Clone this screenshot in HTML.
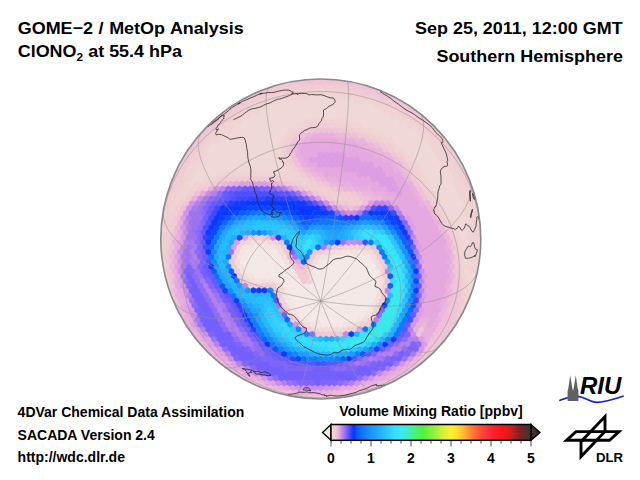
<!DOCTYPE html>
<html><head><meta charset="utf-8"><title>GOME-2 / MetOp Analysis</title>
<style>
html,body{margin:0;padding:0;background:#fff}
body{width:640px;height:480px;overflow:hidden;position:relative;font-family:"Liberation Sans",sans-serif;font-weight:bold;color:#000}
svg{position:absolute;left:0;top:0}
svg text{font-family:"Liberation Sans",sans-serif;font-weight:bold}
</style></head><body>
<svg width="640" height="480" viewBox="0 0 640 480">
<defs>
<clipPath id="gc"><circle cx="320.8" cy="239.0" r="160.0"/></clipPath>
<linearGradient id="cb" x1="0" x2="1" y1="0" y2="0">
<stop offset="0.00%" stop-color="#f6eeec"/>
<stop offset="0.40%" stop-color="#f3e4e2"/>
<stop offset="0.80%" stop-color="#f1dcda"/>
<stop offset="1.00%" stop-color="#f0d8d6"/>
<stop offset="1.40%" stop-color="#f0d0d2"/>
<stop offset="2.60%" stop-color="#efc4d8"/>
<stop offset="4.00%" stop-color="#e6a8e0"/>
<stop offset="5.00%" stop-color="#d090e8"/>
<stop offset="6.40%" stop-color="#aa7af0"/>
<stop offset="7.40%" stop-color="#8868f8"/>
<stop offset="8.60%" stop-color="#6058ff"/>
<stop offset="9.80%" stop-color="#3848ff"/>
<stop offset="10.80%" stop-color="#1838ff"/>
<stop offset="11.70%" stop-color="#0838ff"/>
<stop offset="13.00%" stop-color="#0a58ff"/>
<stop offset="14.40%" stop-color="#0e6aff"/>
<stop offset="16.00%" stop-color="#1078ff"/>
<stop offset="20.00%" stop-color="#1c94ff"/>
<stop offset="23.20%" stop-color="#20a8ff"/>
<stop offset="27.00%" stop-color="#28c0ff"/>
<stop offset="30.00%" stop-color="#32d2ff"/>
<stop offset="32.00%" stop-color="#38e0ff"/>
<stop offset="34.60%" stop-color="#38e8f8"/>
<stop offset="36.40%" stop-color="#3ceae0"/>
<stop offset="38.80%" stop-color="#40ecc0"/>
<stop offset="42.00%" stop-color="#48f278"/>
<stop offset="46.00%" stop-color="#50f040"/>
<stop offset="51.20%" stop-color="#90f040"/>
<stop offset="55.60%" stop-color="#d0f038"/>
<stop offset="60.00%" stop-color="#f8f030"/>
<stop offset="63.00%" stop-color="#ffe030"/>
<stop offset="67.00%" stop-color="#ffb030"/>
<stop offset="70.40%" stop-color="#ff8030"/>
<stop offset="74.60%" stop-color="#ff5038"/>
<stop offset="78.80%" stop-color="#ff3038"/>
<stop offset="83.80%" stop-color="#ff1820"/>
<stop offset="88.00%" stop-color="#e81818"/>
<stop offset="90.80%" stop-color="#c02020"/>
<stop offset="94.40%" stop-color="#802020"/>
<stop offset="98.00%" stop-color="#503030"/>
<stop offset="100.00%" stop-color="#403030"/>
</linearGradient>
</defs>
<circle cx="320.8" cy="239.0" r="160.0" fill="#f0d8d6"/>
<g clip-path="url(#gc)">
<path fill="#f4e9e7" stroke="#f4e9e7" stroke-width="0.5" d="M256.2,243.9l2.80,1.62v3.23l-2.80,1.62l-2.80,-1.62v-3.23zM261.8,243.9l2.80,1.62v3.23l-2.80,1.62l-2.80,-1.62v-3.23zM247.8,248.7l2.80,1.62v3.23l-2.80,1.62l-2.80,-1.62v-3.23zM253.4,248.7l2.80,1.62v3.23l-2.80,1.62l-2.80,-1.62v-3.23zM259.0,248.7l2.80,1.62v3.23l-2.80,1.62l-2.80,-1.62v-3.23zM264.6,248.7l2.80,1.62v3.23l-2.80,1.62l-2.80,-1.62v-3.23zM270.2,248.7l2.80,1.62v3.23l-2.80,1.62l-2.80,-1.62v-3.23zM275.8,248.7l2.80,1.62v3.23l-2.80,1.62l-2.80,-1.62v-3.23zM245.0,253.6l2.80,1.62v3.23l-2.80,1.62l-2.80,-1.62v-3.23zM250.6,253.6l2.80,1.62v3.23l-2.80,1.62l-2.80,-1.62v-3.23zM256.2,253.6l2.80,1.62v3.23l-2.80,1.62l-2.80,-1.62v-3.23zM261.8,253.6l2.80,1.62v3.23l-2.80,1.62l-2.80,-1.62v-3.23zM267.4,253.6l2.80,1.62v3.23l-2.80,1.62l-2.80,-1.62v-3.23zM273.0,253.6l2.80,1.62v3.23l-2.80,1.62l-2.80,-1.62v-3.23zM278.6,253.6l2.80,1.62v3.23l-2.80,1.62l-2.80,-1.62v-3.23zM334.6,253.6l2.80,1.62v3.23l-2.80,1.62l-2.80,-1.62v-3.23zM340.2,253.6l2.80,1.62v3.23l-2.80,1.62l-2.80,-1.62v-3.23zM345.8,253.6l2.80,1.62v3.23l-2.80,1.62l-2.80,-1.62v-3.23zM351.4,253.6l2.80,1.62v3.23l-2.80,1.62l-2.80,-1.62v-3.23zM357.0,253.6l2.80,1.62v3.23l-2.80,1.62l-2.80,-1.62v-3.23zM362.6,253.6l2.80,1.62v3.23l-2.80,1.62l-2.80,-1.62v-3.23zM368.2,253.6l2.80,1.62v3.23l-2.80,1.62l-2.80,-1.62v-3.23zM242.2,258.4l2.80,1.62v3.23l-2.80,1.62l-2.80,-1.62v-3.23zM247.8,258.4l2.80,1.62v3.23l-2.80,1.62l-2.80,-1.62v-3.23zM253.4,258.4l2.80,1.62v3.23l-2.80,1.62l-2.80,-1.62v-3.23zM259.0,258.4l2.80,1.62v3.23l-2.80,1.62l-2.80,-1.62v-3.23zM264.6,258.4l2.80,1.62v3.23l-2.80,1.62l-2.80,-1.62v-3.23zM270.2,258.4l2.80,1.62v3.23l-2.80,1.62l-2.80,-1.62v-3.23zM275.8,258.4l2.80,1.62v3.23l-2.80,1.62l-2.80,-1.62v-3.23zM281.4,258.4l2.80,1.62v3.23l-2.80,1.62l-2.80,-1.62v-3.23zM320.6,258.4l2.80,1.62v3.23l-2.80,1.62l-2.80,-1.62v-3.23zM326.2,258.4l2.80,1.62v3.23l-2.80,1.62l-2.80,-1.62v-3.23zM331.8,258.4l2.80,1.62v3.23l-2.80,1.62l-2.80,-1.62v-3.23zM337.4,258.4l2.80,1.62v3.23l-2.80,1.62l-2.80,-1.62v-3.23zM343.0,258.4l2.80,1.62v3.23l-2.80,1.62l-2.80,-1.62v-3.23zM348.6,258.4l2.80,1.62v3.23l-2.80,1.62l-2.80,-1.62v-3.23zM354.2,258.4l2.80,1.62v3.23l-2.80,1.62l-2.80,-1.62v-3.23zM359.8,258.4l2.80,1.62v3.23l-2.80,1.62l-2.80,-1.62v-3.23zM365.4,258.4l2.80,1.62v3.23l-2.80,1.62l-2.80,-1.62v-3.23zM371.0,258.4l2.80,1.62v3.23l-2.80,1.62l-2.80,-1.62v-3.23zM245.0,263.3l2.80,1.62v3.23l-2.80,1.62l-2.80,-1.62v-3.23zM250.6,263.3l2.80,1.62v3.23l-2.80,1.62l-2.80,-1.62v-3.23zM256.2,263.3l2.80,1.62v3.23l-2.80,1.62l-2.80,-1.62v-3.23zM261.8,263.3l2.80,1.62v3.23l-2.80,1.62l-2.80,-1.62v-3.23zM267.4,263.3l2.80,1.62v3.23l-2.80,1.62l-2.80,-1.62v-3.23zM273.0,263.3l2.80,1.62v3.23l-2.80,1.62l-2.80,-1.62v-3.23zM278.6,263.3l2.80,1.62v3.23l-2.80,1.62l-2.80,-1.62v-3.23zM284.2,263.3l2.80,1.62v3.23l-2.80,1.62l-2.80,-1.62v-3.23zM317.8,263.3l2.80,1.62v3.23l-2.80,1.62l-2.80,-1.62v-3.23zM323.4,263.3l2.80,1.62v3.23l-2.80,1.62l-2.80,-1.62v-3.23zM329.0,263.3l2.80,1.62v3.23l-2.80,1.62l-2.80,-1.62v-3.23zM334.6,263.3l2.80,1.62v3.23l-2.80,1.62l-2.80,-1.62v-3.23zM340.2,263.3l2.80,1.62v3.23l-2.80,1.62l-2.80,-1.62v-3.23zM345.8,263.3l2.80,1.62v3.23l-2.80,1.62l-2.80,-1.62v-3.23zM351.4,263.3l2.80,1.62v3.23l-2.80,1.62l-2.80,-1.62v-3.23zM357.0,263.3l2.80,1.62v3.23l-2.80,1.62l-2.80,-1.62v-3.23zM362.6,263.3l2.80,1.62v3.23l-2.80,1.62l-2.80,-1.62v-3.23zM368.2,263.3l2.80,1.62v3.23l-2.80,1.62l-2.80,-1.62v-3.23zM373.8,263.3l2.80,1.62v3.23l-2.80,1.62l-2.80,-1.62v-3.23zM247.8,268.1l2.80,1.62v3.23l-2.80,1.62l-2.80,-1.62v-3.23zM253.4,268.1l2.80,1.62v3.23l-2.80,1.62l-2.80,-1.62v-3.23zM259.0,268.1l2.80,1.62v3.23l-2.80,1.62l-2.80,-1.62v-3.23zM264.6,268.1l2.80,1.62v3.23l-2.80,1.62l-2.80,-1.62v-3.23zM270.2,268.1l2.80,1.62v3.23l-2.80,1.62l-2.80,-1.62v-3.23zM275.8,268.1l2.80,1.62v3.23l-2.80,1.62l-2.80,-1.62v-3.23zM281.4,268.1l2.80,1.62v3.23l-2.80,1.62l-2.80,-1.62v-3.23zM287.0,268.1l2.80,1.62v3.23l-2.80,1.62l-2.80,-1.62v-3.23zM315.0,268.1l2.80,1.62v3.23l-2.80,1.62l-2.80,-1.62v-3.23zM320.6,268.1l2.80,1.62v3.23l-2.80,1.62l-2.80,-1.62v-3.23zM326.2,268.1l2.80,1.62v3.23l-2.80,1.62l-2.80,-1.62v-3.23zM331.8,268.1l2.80,1.62v3.23l-2.80,1.62l-2.80,-1.62v-3.23zM337.4,268.1l2.80,1.62v3.23l-2.80,1.62l-2.80,-1.62v-3.23zM343.0,268.1l2.80,1.62v3.23l-2.80,1.62l-2.80,-1.62v-3.23zM348.6,268.1l2.80,1.62v3.23l-2.80,1.62l-2.80,-1.62v-3.23zM354.2,268.1l2.80,1.62v3.23l-2.80,1.62l-2.80,-1.62v-3.23zM359.8,268.1l2.80,1.62v3.23l-2.80,1.62l-2.80,-1.62v-3.23zM365.4,268.1l2.80,1.62v3.23l-2.80,1.62l-2.80,-1.62v-3.23zM371.0,268.1l2.80,1.62v3.23l-2.80,1.62l-2.80,-1.62v-3.23zM376.6,268.1l2.80,1.62v3.23l-2.80,1.62l-2.80,-1.62v-3.23zM256.2,273.0l2.80,1.62v3.23l-2.80,1.62l-2.80,-1.62v-3.23zM261.8,273.0l2.80,1.62v3.23l-2.80,1.62l-2.80,-1.62v-3.23zM267.4,273.0l2.80,1.62v3.23l-2.80,1.62l-2.80,-1.62v-3.23zM273.0,273.0l2.80,1.62v3.23l-2.80,1.62l-2.80,-1.62v-3.23zM278.6,273.0l2.80,1.62v3.23l-2.80,1.62l-2.80,-1.62v-3.23zM284.2,273.0l2.80,1.62v3.23l-2.80,1.62l-2.80,-1.62v-3.23zM289.8,273.0l2.80,1.62v3.23l-2.80,1.62l-2.80,-1.62v-3.23zM317.8,273.0l2.80,1.62v3.23l-2.80,1.62l-2.80,-1.62v-3.23zM323.4,273.0l2.80,1.62v3.23l-2.80,1.62l-2.80,-1.62v-3.23zM329.0,273.0l2.80,1.62v3.23l-2.80,1.62l-2.80,-1.62v-3.23zM334.6,273.0l2.80,1.62v3.23l-2.80,1.62l-2.80,-1.62v-3.23zM340.2,273.0l2.80,1.62v3.23l-2.80,1.62l-2.80,-1.62v-3.23zM345.8,273.0l2.80,1.62v3.23l-2.80,1.62l-2.80,-1.62v-3.23zM351.4,273.0l2.80,1.62v3.23l-2.80,1.62l-2.80,-1.62v-3.23zM357.0,273.0l2.80,1.62v3.23l-2.80,1.62l-2.80,-1.62v-3.23zM362.6,273.0l2.80,1.62v3.23l-2.80,1.62l-2.80,-1.62v-3.23zM368.2,273.0l2.80,1.62v3.23l-2.80,1.62l-2.80,-1.62v-3.23zM373.8,273.0l2.80,1.62v3.23l-2.80,1.62l-2.80,-1.62v-3.23zM281.4,277.8l2.80,1.62v3.23l-2.80,1.62l-2.80,-1.62v-3.23zM287.0,277.8l2.80,1.62v3.23l-2.80,1.62l-2.80,-1.62v-3.23zM292.6,277.8l2.80,1.62v3.23l-2.80,1.62l-2.80,-1.62v-3.23zM298.2,277.8l2.80,1.62v3.23l-2.80,1.62l-2.80,-1.62v-3.23zM315.0,277.8l2.80,1.62v3.23l-2.80,1.62l-2.80,-1.62v-3.23zM320.6,277.8l2.80,1.62v3.23l-2.80,1.62l-2.80,-1.62v-3.23zM326.2,277.8l2.80,1.62v3.23l-2.80,1.62l-2.80,-1.62v-3.23zM331.8,277.8l2.80,1.62v3.23l-2.80,1.62l-2.80,-1.62v-3.23zM337.4,277.8l2.80,1.62v3.23l-2.80,1.62l-2.80,-1.62v-3.23zM343.0,277.8l2.80,1.62v3.23l-2.80,1.62l-2.80,-1.62v-3.23zM348.6,277.8l2.80,1.62v3.23l-2.80,1.62l-2.80,-1.62v-3.23zM354.2,277.8l2.80,1.62v3.23l-2.80,1.62l-2.80,-1.62v-3.23zM359.8,277.8l2.80,1.62v3.23l-2.80,1.62l-2.80,-1.62v-3.23zM365.4,277.8l2.80,1.62v3.23l-2.80,1.62l-2.80,-1.62v-3.23zM371.0,277.8l2.80,1.62v3.23l-2.80,1.62l-2.80,-1.62v-3.23zM376.6,277.8l2.80,1.62v3.23l-2.80,1.62l-2.80,-1.62v-3.23zM284.2,282.7l2.80,1.62v3.23l-2.80,1.62l-2.80,-1.62v-3.23zM289.8,282.7l2.80,1.62v3.23l-2.80,1.62l-2.80,-1.62v-3.23zM295.4,282.7l2.80,1.62v3.23l-2.80,1.62l-2.80,-1.62v-3.23zM301.0,282.7l2.80,1.62v3.23l-2.80,1.62l-2.80,-1.62v-3.23zM312.2,282.7l2.80,1.62v3.23l-2.80,1.62l-2.80,-1.62v-3.23zM317.8,282.7l2.80,1.62v3.23l-2.80,1.62l-2.80,-1.62v-3.23zM323.4,282.7l2.80,1.62v3.23l-2.80,1.62l-2.80,-1.62v-3.23zM329.0,282.7l2.80,1.62v3.23l-2.80,1.62l-2.80,-1.62v-3.23zM334.6,282.7l2.80,1.62v3.23l-2.80,1.62l-2.80,-1.62v-3.23zM340.2,282.7l2.80,1.62v3.23l-2.80,1.62l-2.80,-1.62v-3.23zM345.8,282.7l2.80,1.62v3.23l-2.80,1.62l-2.80,-1.62v-3.23zM351.4,282.7l2.80,1.62v3.23l-2.80,1.62l-2.80,-1.62v-3.23zM357.0,282.7l2.80,1.62v3.23l-2.80,1.62l-2.80,-1.62v-3.23zM362.6,282.7l2.80,1.62v3.23l-2.80,1.62l-2.80,-1.62v-3.23zM368.2,282.7l2.80,1.62v3.23l-2.80,1.62l-2.80,-1.62v-3.23zM373.8,282.7l2.80,1.62v3.23l-2.80,1.62l-2.80,-1.62v-3.23zM287.0,287.5l2.80,1.62v3.23l-2.80,1.62l-2.80,-1.62v-3.23zM292.6,287.5l2.80,1.62v3.23l-2.80,1.62l-2.80,-1.62v-3.23zM298.2,287.5l2.80,1.62v3.23l-2.80,1.62l-2.80,-1.62v-3.23zM303.8,287.5l2.80,1.62v3.23l-2.80,1.62l-2.80,-1.62v-3.23zM309.4,287.5l2.80,1.62v3.23l-2.80,1.62l-2.80,-1.62v-3.23zM315.0,287.5l2.80,1.62v3.23l-2.80,1.62l-2.80,-1.62v-3.23zM320.6,287.5l2.80,1.62v3.23l-2.80,1.62l-2.80,-1.62v-3.23zM326.2,287.5l2.80,1.62v3.23l-2.80,1.62l-2.80,-1.62v-3.23zM331.8,287.5l2.80,1.62v3.23l-2.80,1.62l-2.80,-1.62v-3.23zM337.4,287.5l2.80,1.62v3.23l-2.80,1.62l-2.80,-1.62v-3.23zM343.0,287.5l2.80,1.62v3.23l-2.80,1.62l-2.80,-1.62v-3.23zM348.6,287.5l2.80,1.62v3.23l-2.80,1.62l-2.80,-1.62v-3.23zM354.2,287.5l2.80,1.62v3.23l-2.80,1.62l-2.80,-1.62v-3.23zM359.8,287.5l2.80,1.62v3.23l-2.80,1.62l-2.80,-1.62v-3.23zM365.4,287.5l2.80,1.62v3.23l-2.80,1.62l-2.80,-1.62v-3.23zM371.0,287.5l2.80,1.62v3.23l-2.80,1.62l-2.80,-1.62v-3.23zM376.6,287.5l2.80,1.62v3.23l-2.80,1.62l-2.80,-1.62v-3.23zM289.8,292.4l2.80,1.62v3.23l-2.80,1.62l-2.80,-1.62v-3.23zM295.4,292.4l2.80,1.62v3.23l-2.80,1.62l-2.80,-1.62v-3.23zM301.0,292.4l2.80,1.62v3.23l-2.80,1.62l-2.80,-1.62v-3.23zM306.6,292.4l2.80,1.62v3.23l-2.80,1.62l-2.80,-1.62v-3.23zM312.2,292.4l2.80,1.62v3.23l-2.80,1.62l-2.80,-1.62v-3.23zM317.8,292.4l2.80,1.62v3.23l-2.80,1.62l-2.80,-1.62v-3.23zM323.4,292.4l2.80,1.62v3.23l-2.80,1.62l-2.80,-1.62v-3.23zM329.0,292.4l2.80,1.62v3.23l-2.80,1.62l-2.80,-1.62v-3.23zM334.6,292.4l2.80,1.62v3.23l-2.80,1.62l-2.80,-1.62v-3.23zM340.2,292.4l2.80,1.62v3.23l-2.80,1.62l-2.80,-1.62v-3.23zM345.8,292.4l2.80,1.62v3.23l-2.80,1.62l-2.80,-1.62v-3.23zM351.4,292.4l2.80,1.62v3.23l-2.80,1.62l-2.80,-1.62v-3.23zM357.0,292.4l2.80,1.62v3.23l-2.80,1.62l-2.80,-1.62v-3.23zM362.6,292.4l2.80,1.62v3.23l-2.80,1.62l-2.80,-1.62v-3.23zM368.2,292.4l2.80,1.62v3.23l-2.80,1.62l-2.80,-1.62v-3.23zM373.8,292.4l2.80,1.62v3.23l-2.80,1.62l-2.80,-1.62v-3.23zM292.6,297.2l2.80,1.62v3.23l-2.80,1.62l-2.80,-1.62v-3.23zM298.2,297.2l2.80,1.62v3.23l-2.80,1.62l-2.80,-1.62v-3.23zM303.8,297.2l2.80,1.62v3.23l-2.80,1.62l-2.80,-1.62v-3.23zM309.4,297.2l2.80,1.62v3.23l-2.80,1.62l-2.80,-1.62v-3.23zM315.0,297.2l2.80,1.62v3.23l-2.80,1.62l-2.80,-1.62v-3.23zM320.6,297.2l2.80,1.62v3.23l-2.80,1.62l-2.80,-1.62v-3.23zM326.2,297.2l2.80,1.62v3.23l-2.80,1.62l-2.80,-1.62v-3.23zM331.8,297.2l2.80,1.62v3.23l-2.80,1.62l-2.80,-1.62v-3.23zM337.4,297.2l2.80,1.62v3.23l-2.80,1.62l-2.80,-1.62v-3.23zM343.0,297.2l2.80,1.62v3.23l-2.80,1.62l-2.80,-1.62v-3.23zM348.6,297.2l2.80,1.62v3.23l-2.80,1.62l-2.80,-1.62v-3.23zM354.2,297.2l2.80,1.62v3.23l-2.80,1.62l-2.80,-1.62v-3.23zM359.8,297.2l2.80,1.62v3.23l-2.80,1.62l-2.80,-1.62v-3.23zM365.4,297.2l2.80,1.62v3.23l-2.80,1.62l-2.80,-1.62v-3.23zM371.0,297.2l2.80,1.62v3.23l-2.80,1.62l-2.80,-1.62v-3.23zM295.4,302.1l2.80,1.62v3.23l-2.80,1.62l-2.80,-1.62v-3.23zM301.0,302.1l2.80,1.62v3.23l-2.80,1.62l-2.80,-1.62v-3.23zM306.6,302.1l2.80,1.62v3.23l-2.80,1.62l-2.80,-1.62v-3.23zM312.2,302.1l2.80,1.62v3.23l-2.80,1.62l-2.80,-1.62v-3.23zM317.8,302.1l2.80,1.62v3.23l-2.80,1.62l-2.80,-1.62v-3.23zM323.4,302.1l2.80,1.62v3.23l-2.80,1.62l-2.80,-1.62v-3.23zM329.0,302.1l2.80,1.62v3.23l-2.80,1.62l-2.80,-1.62v-3.23zM334.6,302.1l2.80,1.62v3.23l-2.80,1.62l-2.80,-1.62v-3.23zM340.2,302.1l2.80,1.62v3.23l-2.80,1.62l-2.80,-1.62v-3.23zM345.8,302.1l2.80,1.62v3.23l-2.80,1.62l-2.80,-1.62v-3.23zM351.4,302.1l2.80,1.62v3.23l-2.80,1.62l-2.80,-1.62v-3.23zM357.0,302.1l2.80,1.62v3.23l-2.80,1.62l-2.80,-1.62v-3.23zM362.6,302.1l2.80,1.62v3.23l-2.80,1.62l-2.80,-1.62v-3.23zM368.2,302.1l2.80,1.62v3.23l-2.80,1.62l-2.80,-1.62v-3.23zM298.2,306.9l2.80,1.62v3.23l-2.80,1.62l-2.80,-1.62v-3.23zM303.8,306.9l2.80,1.62v3.23l-2.80,1.62l-2.80,-1.62v-3.23zM309.4,306.9l2.80,1.62v3.23l-2.80,1.62l-2.80,-1.62v-3.23zM315.0,306.9l2.80,1.62v3.23l-2.80,1.62l-2.80,-1.62v-3.23zM320.6,306.9l2.80,1.62v3.23l-2.80,1.62l-2.80,-1.62v-3.23zM326.2,306.9l2.80,1.62v3.23l-2.80,1.62l-2.80,-1.62v-3.23zM331.8,306.9l2.80,1.62v3.23l-2.80,1.62l-2.80,-1.62v-3.23zM337.4,306.9l2.80,1.62v3.23l-2.80,1.62l-2.80,-1.62v-3.23zM343.0,306.9l2.80,1.62v3.23l-2.80,1.62l-2.80,-1.62v-3.23zM348.6,306.9l2.80,1.62v3.23l-2.80,1.62l-2.80,-1.62v-3.23zM354.2,306.9l2.80,1.62v3.23l-2.80,1.62l-2.80,-1.62v-3.23zM359.8,306.9l2.80,1.62v3.23l-2.80,1.62l-2.80,-1.62v-3.23zM365.4,306.9l2.80,1.62v3.23l-2.80,1.62l-2.80,-1.62v-3.23zM301.0,311.8l2.80,1.62v3.23l-2.80,1.62l-2.80,-1.62v-3.23zM306.6,311.8l2.80,1.62v3.23l-2.80,1.62l-2.80,-1.62v-3.23zM312.2,311.8l2.80,1.62v3.23l-2.80,1.62l-2.80,-1.62v-3.23zM317.8,311.8l2.80,1.62v3.23l-2.80,1.62l-2.80,-1.62v-3.23zM323.4,311.8l2.80,1.62v3.23l-2.80,1.62l-2.80,-1.62v-3.23zM329.0,311.8l2.80,1.62v3.23l-2.80,1.62l-2.80,-1.62v-3.23zM334.6,311.8l2.80,1.62v3.23l-2.80,1.62l-2.80,-1.62v-3.23zM340.2,311.8l2.80,1.62v3.23l-2.80,1.62l-2.80,-1.62v-3.23zM345.8,311.8l2.80,1.62v3.23l-2.80,1.62l-2.80,-1.62v-3.23zM351.4,311.8l2.80,1.62v3.23l-2.80,1.62l-2.80,-1.62v-3.23zM357.0,311.8l2.80,1.62v3.23l-2.80,1.62l-2.80,-1.62v-3.23zM362.6,311.8l2.80,1.62v3.23l-2.80,1.62l-2.80,-1.62v-3.23zM309.4,316.6l2.80,1.62v3.23l-2.80,1.62l-2.80,-1.62v-3.23zM315.0,316.6l2.80,1.62v3.23l-2.80,1.62l-2.80,-1.62v-3.23zM320.6,316.6l2.80,1.62v3.23l-2.80,1.62l-2.80,-1.62v-3.23zM326.2,316.6l2.80,1.62v3.23l-2.80,1.62l-2.80,-1.62v-3.23zM331.8,316.6l2.80,1.62v3.23l-2.80,1.62l-2.80,-1.62v-3.23zM337.4,316.6l2.80,1.62v3.23l-2.80,1.62l-2.80,-1.62v-3.23zM343.0,316.6l2.80,1.62v3.23l-2.80,1.62l-2.80,-1.62v-3.23zM348.6,316.6l2.80,1.62v3.23l-2.80,1.62l-2.80,-1.62v-3.23zM354.2,316.6l2.80,1.62v3.23l-2.80,1.62l-2.80,-1.62v-3.23zM323.4,321.5l2.80,1.62v3.23l-2.80,1.62l-2.80,-1.62v-3.23zM329.0,321.5l2.80,1.62v3.23l-2.80,1.62l-2.80,-1.62v-3.23zM334.6,321.5l2.80,1.62v3.23l-2.80,1.62l-2.80,-1.62v-3.23zM340.2,321.5l2.80,1.62v3.23l-2.80,1.62l-2.80,-1.62v-3.23z"/>
<path fill="#f3e4e2" stroke="#f3e4e2" stroke-width="0.5" d="M245.0,243.9l2.80,1.62v3.23l-2.80,1.62l-2.80,-1.62v-3.23zM250.6,243.9l2.80,1.62v3.23l-2.80,1.62l-2.80,-1.62v-3.23zM267.4,243.9l2.80,1.62v3.23l-2.80,1.62l-2.80,-1.62v-3.23zM273.0,243.9l2.80,1.62v3.23l-2.80,1.62l-2.80,-1.62v-3.23zM242.2,248.7l2.80,1.62v3.23l-2.80,1.62l-2.80,-1.62v-3.23zM343.0,248.7l2.80,1.62v3.23l-2.80,1.62l-2.80,-1.62v-3.23zM348.6,248.7l2.80,1.62v3.23l-2.80,1.62l-2.80,-1.62v-3.23zM354.2,248.7l2.80,1.62v3.23l-2.80,1.62l-2.80,-1.62v-3.23zM359.8,248.7l2.80,1.62v3.23l-2.80,1.62l-2.80,-1.62v-3.23zM239.4,253.6l2.80,1.62v3.23l-2.80,1.62l-2.80,-1.62v-3.23zM323.4,253.6l2.80,1.62v3.23l-2.80,1.62l-2.80,-1.62v-3.23zM329.0,253.6l2.80,1.62v3.23l-2.80,1.62l-2.80,-1.62v-3.23zM292.6,268.1l2.80,1.62v3.23l-2.80,1.62l-2.80,-1.62v-3.23zM250.6,273.0l2.80,1.62v3.23l-2.80,1.62l-2.80,-1.62v-3.23zM295.4,273.0l2.80,1.62v3.23l-2.80,1.62l-2.80,-1.62v-3.23zM312.2,273.0l2.80,1.62v3.23l-2.80,1.62l-2.80,-1.62v-3.23zM379.4,273.0l2.80,1.62v3.23l-2.80,1.62l-2.80,-1.62v-3.23zM259.0,277.8l2.80,1.62v3.23l-2.80,1.62l-2.80,-1.62v-3.23zM275.8,277.8l2.80,1.62v3.23l-2.80,1.62l-2.80,-1.62v-3.23zM306.6,282.7l2.80,1.62v3.23l-2.80,1.62l-2.80,-1.62v-3.23zM379.4,282.7l2.80,1.62v3.23l-2.80,1.62l-2.80,-1.62v-3.23zM287.0,297.2l2.80,1.62v3.23l-2.80,1.62l-2.80,-1.62v-3.23zM289.8,302.1l2.80,1.62v3.23l-2.80,1.62l-2.80,-1.62v-3.23zM292.6,306.9l2.80,1.62v3.23l-2.80,1.62l-2.80,-1.62v-3.23zM371.0,306.9l2.80,1.62v3.23l-2.80,1.62l-2.80,-1.62v-3.23zM368.2,311.8l2.80,1.62v3.23l-2.80,1.62l-2.80,-1.62v-3.23zM303.8,316.6l2.80,1.62v3.23l-2.80,1.62l-2.80,-1.62v-3.23zM359.8,316.6l2.80,1.62v3.23l-2.80,1.62l-2.80,-1.62v-3.23zM312.2,321.5l2.80,1.62v3.23l-2.80,1.62l-2.80,-1.62v-3.23zM317.8,321.5l2.80,1.62v3.23l-2.80,1.62l-2.80,-1.62v-3.23zM345.8,321.5l2.80,1.62v3.23l-2.80,1.62l-2.80,-1.62v-3.23z"/>
<path fill="#f2e0de" stroke="#f2e0de" stroke-width="0.5" d="M253.4,239.0l2.80,1.62v3.23l-2.80,1.62l-2.80,-1.62v-3.23zM259.0,239.0l2.80,1.62v3.23l-2.80,1.62l-2.80,-1.62v-3.23zM264.6,239.0l2.80,1.62v3.23l-2.80,1.62l-2.80,-1.62v-3.23zM281.4,248.7l2.80,1.62v3.23l-2.80,1.62l-2.80,-1.62v-3.23zM337.4,248.7l2.80,1.62v3.23l-2.80,1.62l-2.80,-1.62v-3.23zM365.4,248.7l2.80,1.62v3.23l-2.80,1.62l-2.80,-1.62v-3.23zM284.2,253.6l2.80,1.62v3.23l-2.80,1.62l-2.80,-1.62v-3.23zM373.8,253.6l2.80,1.62v3.23l-2.80,1.62l-2.80,-1.62v-3.23zM287.0,258.4l2.80,1.62v3.23l-2.80,1.62l-2.80,-1.62v-3.23zM315.0,258.4l2.80,1.62v3.23l-2.80,1.62l-2.80,-1.62v-3.23zM376.6,258.4l2.80,1.62v3.23l-2.80,1.62l-2.80,-1.62v-3.23zM239.4,263.3l2.80,1.62v3.23l-2.80,1.62l-2.80,-1.62v-3.23zM289.8,263.3l2.80,1.62v3.23l-2.80,1.62l-2.80,-1.62v-3.23zM242.2,268.1l2.80,1.62v3.23l-2.80,1.62l-2.80,-1.62v-3.23zM245.0,273.0l2.80,1.62v3.23l-2.80,1.62l-2.80,-1.62v-3.23zM253.4,277.8l2.80,1.62v3.23l-2.80,1.62l-2.80,-1.62v-3.23zM264.6,277.8l2.80,1.62v3.23l-2.80,1.62l-2.80,-1.62v-3.23zM270.2,277.8l2.80,1.62v3.23l-2.80,1.62l-2.80,-1.62v-3.23zM382.2,277.8l2.80,1.62v3.23l-2.80,1.62l-2.80,-1.62v-3.23zM284.2,292.4l2.80,1.62v3.23l-2.80,1.62l-2.80,-1.62v-3.23zM379.4,292.4l2.80,1.62v3.23l-2.80,1.62l-2.80,-1.62v-3.23zM376.6,297.2l2.80,1.62v3.23l-2.80,1.62l-2.80,-1.62v-3.23zM373.8,302.1l2.80,1.62v3.23l-2.80,1.62l-2.80,-1.62v-3.23zM295.4,311.8l2.80,1.62v3.23l-2.80,1.62l-2.80,-1.62v-3.23zM351.4,321.5l2.80,1.62v3.23l-2.80,1.62l-2.80,-1.62v-3.23z"/>
<path fill="#f1dcda" stroke="#f1dcda" stroke-width="0.5" d="M278.6,243.9l2.80,1.62v3.23l-2.80,1.62l-2.80,-1.62v-3.23zM331.8,248.7l2.80,1.62v3.23l-2.80,1.62l-2.80,-1.62v-3.23zM371.0,248.7l2.80,1.62v3.23l-2.80,1.62l-2.80,-1.62v-3.23zM317.8,253.6l2.80,1.62v3.23l-2.80,1.62l-2.80,-1.62v-3.23zM236.6,258.4l2.80,1.62v3.23l-2.80,1.62l-2.80,-1.62v-3.23zM312.2,263.3l2.80,1.62v3.23l-2.80,1.62l-2.80,-1.62v-3.23zM379.4,263.3l2.80,1.62v3.23l-2.80,1.62l-2.80,-1.62v-3.23zM309.4,268.1l2.80,1.62v3.23l-2.80,1.62l-2.80,-1.62v-3.23zM278.6,282.7l2.80,1.62v3.23l-2.80,1.62l-2.80,-1.62v-3.23zM281.4,287.5l2.80,1.62v3.23l-2.80,1.62l-2.80,-1.62v-3.23zM365.4,316.6l2.80,1.62v3.23l-2.80,1.62l-2.80,-1.62v-3.23zM306.6,321.5l2.80,1.62v3.23l-2.80,1.62l-2.80,-1.62v-3.23zM357.0,321.5l2.80,1.62v3.23l-2.80,1.62l-2.80,-1.62v-3.23zM320.6,326.3l2.80,1.62v3.23l-2.80,1.62l-2.80,-1.62v-3.23zM326.2,326.3l2.80,1.62v3.23l-2.80,1.62l-2.80,-1.62v-3.23zM331.8,326.3l2.80,1.62v3.23l-2.80,1.62l-2.80,-1.62v-3.23zM337.4,326.3l2.80,1.62v3.23l-2.80,1.62l-2.80,-1.62v-3.23z"/>
<path fill="#f0d4d4" stroke="#f0d4d4" stroke-width="0.5" d="M301.0,88.7l2.80,1.62v3.23l-2.80,1.62l-2.80,-1.62v-3.23zM306.6,88.7l2.80,1.62v3.23l-2.80,1.62l-2.80,-1.62v-3.23zM312.2,88.7l2.80,1.62v3.23l-2.80,1.62l-2.80,-1.62v-3.23zM317.8,88.7l2.80,1.62v3.23l-2.80,1.62l-2.80,-1.62v-3.23zM323.4,88.7l2.80,1.62v3.23l-2.80,1.62l-2.80,-1.62v-3.23zM329.0,88.7l2.80,1.62v3.23l-2.80,1.62l-2.80,-1.62v-3.23zM334.6,88.7l2.80,1.62v3.23l-2.80,1.62l-2.80,-1.62v-3.23zM275.8,93.5l2.80,1.62v3.23l-2.80,1.62l-2.80,-1.62v-3.23zM281.4,93.5l2.80,1.62v3.23l-2.80,1.62l-2.80,-1.62v-3.23zM287.0,93.5l2.80,1.62v3.23l-2.80,1.62l-2.80,-1.62v-3.23zM292.6,93.5l2.80,1.62v3.23l-2.80,1.62l-2.80,-1.62v-3.23zM298.2,93.5l2.80,1.62v3.23l-2.80,1.62l-2.80,-1.62v-3.23zM303.8,93.5l2.80,1.62v3.23l-2.80,1.62l-2.80,-1.62v-3.23zM331.8,93.5l2.80,1.62v3.23l-2.80,1.62l-2.80,-1.62v-3.23zM337.4,93.5l2.80,1.62v3.23l-2.80,1.62l-2.80,-1.62v-3.23zM343.0,93.5l2.80,1.62v3.23l-2.80,1.62l-2.80,-1.62v-3.23zM348.6,93.5l2.80,1.62v3.23l-2.80,1.62l-2.80,-1.62v-3.23zM354.2,93.5l2.80,1.62v3.23l-2.80,1.62l-2.80,-1.62v-3.23zM359.8,93.5l2.80,1.62v3.23l-2.80,1.62l-2.80,-1.62v-3.23zM267.4,98.4l2.80,1.62v3.23l-2.80,1.62l-2.80,-1.62v-3.23zM273.0,98.4l2.80,1.62v3.23l-2.80,1.62l-2.80,-1.62v-3.23zM278.6,98.4l2.80,1.62v3.23l-2.80,1.62l-2.80,-1.62v-3.23zM357.0,98.4l2.80,1.62v3.23l-2.80,1.62l-2.80,-1.62v-3.23zM362.6,98.4l2.80,1.62v3.23l-2.80,1.62l-2.80,-1.62v-3.23zM368.2,98.4l2.80,1.62v3.23l-2.80,1.62l-2.80,-1.62v-3.23zM373.8,98.4l2.80,1.62v3.23l-2.80,1.62l-2.80,-1.62v-3.23zM253.4,103.2l2.80,1.62v3.23l-2.80,1.62l-2.80,-1.62v-3.23zM259.0,103.2l2.80,1.62v3.23l-2.80,1.62l-2.80,-1.62v-3.23zM264.6,103.2l2.80,1.62v3.23l-2.80,1.62l-2.80,-1.62v-3.23zM376.6,103.2l2.80,1.62v3.23l-2.80,1.62l-2.80,-1.62v-3.23zM382.2,103.2l2.80,1.62v3.23l-2.80,1.62l-2.80,-1.62v-3.23zM245.0,108.1l2.80,1.62v3.23l-2.80,1.62l-2.80,-1.62v-3.23zM250.6,108.1l2.80,1.62v3.23l-2.80,1.62l-2.80,-1.62v-3.23zM256.2,108.1l2.80,1.62v3.23l-2.80,1.62l-2.80,-1.62v-3.23zM385.0,108.1l2.80,1.62v3.23l-2.80,1.62l-2.80,-1.62v-3.23zM390.6,108.1l2.80,1.62v3.23l-2.80,1.62l-2.80,-1.62v-3.23zM396.2,108.1l2.80,1.62v3.23l-2.80,1.62l-2.80,-1.62v-3.23zM242.2,112.9l2.80,1.62v3.23l-2.80,1.62l-2.80,-1.62v-3.23zM247.8,112.9l2.80,1.62v3.23l-2.80,1.62l-2.80,-1.62v-3.23zM393.4,112.9l2.80,1.62v3.23l-2.80,1.62l-2.80,-1.62v-3.23zM399.0,112.9l2.80,1.62v3.23l-2.80,1.62l-2.80,-1.62v-3.23zM233.8,117.8l2.80,1.62v3.23l-2.80,1.62l-2.80,-1.62v-3.23zM239.4,117.8l2.80,1.62v3.23l-2.80,1.62l-2.80,-1.62v-3.23zM306.6,117.8l2.80,1.62v3.23l-2.80,1.62l-2.80,-1.62v-3.23zM312.2,117.8l2.80,1.62v3.23l-2.80,1.62l-2.80,-1.62v-3.23zM317.8,117.8l2.80,1.62v3.23l-2.80,1.62l-2.80,-1.62v-3.23zM323.4,117.8l2.80,1.62v3.23l-2.80,1.62l-2.80,-1.62v-3.23zM329.0,117.8l2.80,1.62v3.23l-2.80,1.62l-2.80,-1.62v-3.23zM334.6,117.8l2.80,1.62v3.23l-2.80,1.62l-2.80,-1.62v-3.23zM340.2,117.8l2.80,1.62v3.23l-2.80,1.62l-2.80,-1.62v-3.23zM401.8,117.8l2.80,1.62v3.23l-2.80,1.62l-2.80,-1.62v-3.23zM407.4,117.8l2.80,1.62v3.23l-2.80,1.62l-2.80,-1.62v-3.23zM225.4,122.6l2.80,1.62v3.23l-2.80,1.62l-2.80,-1.62v-3.23zM231.0,122.6l2.80,1.62v3.23l-2.80,1.62l-2.80,-1.62v-3.23zM298.2,122.6l2.80,1.62v3.23l-2.80,1.62l-2.80,-1.62v-3.23zM303.8,122.6l2.80,1.62v3.23l-2.80,1.62l-2.80,-1.62v-3.23zM348.6,122.6l2.80,1.62v3.23l-2.80,1.62l-2.80,-1.62v-3.23zM354.2,122.6l2.80,1.62v3.23l-2.80,1.62l-2.80,-1.62v-3.23zM359.8,122.6l2.80,1.62v3.23l-2.80,1.62l-2.80,-1.62v-3.23zM410.2,122.6l2.80,1.62v3.23l-2.80,1.62l-2.80,-1.62v-3.23zM415.8,122.6l2.80,1.62v3.23l-2.80,1.62l-2.80,-1.62v-3.23zM222.6,127.5l2.80,1.62v3.23l-2.80,1.62l-2.80,-1.62v-3.23zM228.2,127.5l2.80,1.62v3.23l-2.80,1.62l-2.80,-1.62v-3.23zM289.8,127.5l2.80,1.62v3.23l-2.80,1.62l-2.80,-1.62v-3.23zM295.4,127.5l2.80,1.62v3.23l-2.80,1.62l-2.80,-1.62v-3.23zM362.6,127.5l2.80,1.62v3.23l-2.80,1.62l-2.80,-1.62v-3.23zM368.2,127.5l2.80,1.62v3.23l-2.80,1.62l-2.80,-1.62v-3.23zM418.6,127.5l2.80,1.62v3.23l-2.80,1.62l-2.80,-1.62v-3.23zM219.8,132.3l2.80,1.62v3.23l-2.80,1.62l-2.80,-1.62v-3.23zM287.0,132.3l2.80,1.62v3.23l-2.80,1.62l-2.80,-1.62v-3.23zM376.6,132.3l2.80,1.62v3.23l-2.80,1.62l-2.80,-1.62v-3.23zM382.2,132.3l2.80,1.62v3.23l-2.80,1.62l-2.80,-1.62v-3.23zM421.4,132.3l2.80,1.62v3.23l-2.80,1.62l-2.80,-1.62v-3.23zM427.0,132.3l2.80,1.62v3.23l-2.80,1.62l-2.80,-1.62v-3.23zM211.4,137.2l2.80,1.62v3.23l-2.80,1.62l-2.80,-1.62v-3.23zM217.0,137.2l2.80,1.62v3.23l-2.80,1.62l-2.80,-1.62v-3.23zM284.2,137.2l2.80,1.62v3.23l-2.80,1.62l-2.80,-1.62v-3.23zM385.0,137.2l2.80,1.62v3.23l-2.80,1.62l-2.80,-1.62v-3.23zM390.6,137.2l2.80,1.62v3.23l-2.80,1.62l-2.80,-1.62v-3.23zM429.8,137.2l2.80,1.62v3.23l-2.80,1.62l-2.80,-1.62v-3.23zM208.6,142.0l2.80,1.62v3.23l-2.80,1.62l-2.80,-1.62v-3.23zM281.4,142.0l2.80,1.62v3.23l-2.80,1.62l-2.80,-1.62v-3.23zM393.4,142.0l2.80,1.62v3.23l-2.80,1.62l-2.80,-1.62v-3.23zM432.6,142.0l2.80,1.62v3.23l-2.80,1.62l-2.80,-1.62v-3.23zM438.2,142.0l2.80,1.62v3.23l-2.80,1.62l-2.80,-1.62v-3.23zM205.8,146.9l2.80,1.62v3.23l-2.80,1.62l-2.80,-1.62v-3.23zM396.2,146.9l2.80,1.62v3.23l-2.80,1.62l-2.80,-1.62v-3.23zM401.8,146.9l2.80,1.62v3.23l-2.80,1.62l-2.80,-1.62v-3.23zM435.4,146.9l2.80,1.62v3.23l-2.80,1.62l-2.80,-1.62v-3.23zM441.0,146.9l2.80,1.62v3.23l-2.80,1.62l-2.80,-1.62v-3.23zM203.0,151.7l2.80,1.62v3.23l-2.80,1.62l-2.80,-1.62v-3.23zM281.4,151.7l2.80,1.62v3.23l-2.80,1.62l-2.80,-1.62v-3.23zM404.6,151.7l2.80,1.62v3.23l-2.80,1.62l-2.80,-1.62v-3.23zM438.2,151.7l2.80,1.62v3.23l-2.80,1.62l-2.80,-1.62v-3.23zM443.8,151.7l2.80,1.62v3.23l-2.80,1.62l-2.80,-1.62v-3.23zM200.2,156.6l2.80,1.62v3.23l-2.80,1.62l-2.80,-1.62v-3.23zM284.2,156.6l2.80,1.62v3.23l-2.80,1.62l-2.80,-1.62v-3.23zM407.4,156.6l2.80,1.62v3.23l-2.80,1.62l-2.80,-1.62v-3.23zM413.0,156.6l2.80,1.62v3.23l-2.80,1.62l-2.80,-1.62v-3.23zM441.0,156.6l2.80,1.62v3.23l-2.80,1.62l-2.80,-1.62v-3.23zM446.6,156.6l2.80,1.62v3.23l-2.80,1.62l-2.80,-1.62v-3.23zM191.8,161.4l2.80,1.62v3.23l-2.80,1.62l-2.80,-1.62v-3.23zM197.4,161.4l2.80,1.62v3.23l-2.80,1.62l-2.80,-1.62v-3.23zM287.0,161.4l2.80,1.62v3.23l-2.80,1.62l-2.80,-1.62v-3.23zM415.8,161.4l2.80,1.62v3.23l-2.80,1.62l-2.80,-1.62v-3.23zM443.8,161.4l2.80,1.62v3.23l-2.80,1.62l-2.80,-1.62v-3.23zM449.4,161.4l2.80,1.62v3.23l-2.80,1.62l-2.80,-1.62v-3.23zM189.0,166.3l2.80,1.62v3.23l-2.80,1.62l-2.80,-1.62v-3.23zM194.6,166.3l2.80,1.62v3.23l-2.80,1.62l-2.80,-1.62v-3.23zM289.8,166.3l2.80,1.62v3.23l-2.80,1.62l-2.80,-1.62v-3.23zM418.6,166.3l2.80,1.62v3.23l-2.80,1.62l-2.80,-1.62v-3.23zM452.2,166.3l2.80,1.62v3.23l-2.80,1.62l-2.80,-1.62v-3.23zM186.2,171.1l2.80,1.62v3.23l-2.80,1.62l-2.80,-1.62v-3.23zM191.8,171.1l2.80,1.62v3.23l-2.80,1.62l-2.80,-1.62v-3.23zM219.8,171.1l2.80,1.62v3.23l-2.80,1.62l-2.80,-1.62v-3.23zM225.4,171.1l2.80,1.62v3.23l-2.80,1.62l-2.80,-1.62v-3.23zM231.0,171.1l2.80,1.62v3.23l-2.80,1.62l-2.80,-1.62v-3.23zM236.6,171.1l2.80,1.62v3.23l-2.80,1.62l-2.80,-1.62v-3.23zM242.2,171.1l2.80,1.62v3.23l-2.80,1.62l-2.80,-1.62v-3.23zM247.8,171.1l2.80,1.62v3.23l-2.80,1.62l-2.80,-1.62v-3.23zM253.4,171.1l2.80,1.62v3.23l-2.80,1.62l-2.80,-1.62v-3.23zM259.0,171.1l2.80,1.62v3.23l-2.80,1.62l-2.80,-1.62v-3.23zM264.6,171.1l2.80,1.62v3.23l-2.80,1.62l-2.80,-1.62v-3.23zM270.2,171.1l2.80,1.62v3.23l-2.80,1.62l-2.80,-1.62v-3.23zM275.8,171.1l2.80,1.62v3.23l-2.80,1.62l-2.80,-1.62v-3.23zM281.4,171.1l2.80,1.62v3.23l-2.80,1.62l-2.80,-1.62v-3.23zM287.0,171.1l2.80,1.62v3.23l-2.80,1.62l-2.80,-1.62v-3.23zM292.6,171.1l2.80,1.62v3.23l-2.80,1.62l-2.80,-1.62v-3.23zM421.4,171.1l2.80,1.62v3.23l-2.80,1.62l-2.80,-1.62v-3.23zM455.0,171.1l2.80,1.62v3.23l-2.80,1.62l-2.80,-1.62v-3.23zM189.0,176.0l2.80,1.62v3.23l-2.80,1.62l-2.80,-1.62v-3.23zM205.8,176.0l2.80,1.62v3.23l-2.80,1.62l-2.80,-1.62v-3.23zM211.4,176.0l2.80,1.62v3.23l-2.80,1.62l-2.80,-1.62v-3.23zM289.8,176.0l2.80,1.62v3.23l-2.80,1.62l-2.80,-1.62v-3.23zM295.4,176.0l2.80,1.62v3.23l-2.80,1.62l-2.80,-1.62v-3.23zM301.0,176.0l2.80,1.62v3.23l-2.80,1.62l-2.80,-1.62v-3.23zM424.2,176.0l2.80,1.62v3.23l-2.80,1.62l-2.80,-1.62v-3.23zM457.8,176.0l2.80,1.62v3.23l-2.80,1.62l-2.80,-1.62v-3.23zM186.2,180.8l2.80,1.62v3.23l-2.80,1.62l-2.80,-1.62v-3.23zM197.4,180.8l2.80,1.62v3.23l-2.80,1.62l-2.80,-1.62v-3.23zM203.0,180.8l2.80,1.62v3.23l-2.80,1.62l-2.80,-1.62v-3.23zM303.8,180.8l2.80,1.62v3.23l-2.80,1.62l-2.80,-1.62v-3.23zM427.0,180.8l2.80,1.62v3.23l-2.80,1.62l-2.80,-1.62v-3.23zM455.0,180.8l2.80,1.62v3.23l-2.80,1.62l-2.80,-1.62v-3.23zM460.6,180.8l2.80,1.62v3.23l-2.80,1.62l-2.80,-1.62v-3.23zM183.4,185.7l2.80,1.62v3.23l-2.80,1.62l-2.80,-1.62v-3.23zM189.0,185.7l2.80,1.62v3.23l-2.80,1.62l-2.80,-1.62v-3.23zM194.6,185.7l2.80,1.62v3.23l-2.80,1.62l-2.80,-1.62v-3.23zM429.8,185.7l2.80,1.62v3.23l-2.80,1.62l-2.80,-1.62v-3.23zM457.8,185.7l2.80,1.62v3.23l-2.80,1.62l-2.80,-1.62v-3.23zM463.4,185.7l2.80,1.62v3.23l-2.80,1.62l-2.80,-1.62v-3.23zM180.6,190.5l2.80,1.62v3.23l-2.80,1.62l-2.80,-1.62v-3.23zM186.2,190.5l2.80,1.62v3.23l-2.80,1.62l-2.80,-1.62v-3.23zM432.6,190.5l2.80,1.62v3.23l-2.80,1.62l-2.80,-1.62v-3.23zM460.6,190.5l2.80,1.62v3.23l-2.80,1.62l-2.80,-1.62v-3.23zM466.2,190.5l2.80,1.62v3.23l-2.80,1.62l-2.80,-1.62v-3.23zM177.8,195.4l2.80,1.62v3.23l-2.80,1.62l-2.80,-1.62v-3.23zM183.4,195.4l2.80,1.62v3.23l-2.80,1.62l-2.80,-1.62v-3.23zM435.4,195.4l2.80,1.62v3.23l-2.80,1.62l-2.80,-1.62v-3.23zM463.4,195.4l2.80,1.62v3.23l-2.80,1.62l-2.80,-1.62v-3.23zM175.0,200.2l2.80,1.62v3.23l-2.80,1.62l-2.80,-1.62v-3.23zM438.2,200.2l2.80,1.62v3.23l-2.80,1.62l-2.80,-1.62v-3.23zM466.2,200.2l2.80,1.62v3.23l-2.80,1.62l-2.80,-1.62v-3.23zM172.2,205.1l2.80,1.62v3.23l-2.80,1.62l-2.80,-1.62v-3.23zM441.0,205.1l2.80,1.62v3.23l-2.80,1.62l-2.80,-1.62v-3.23zM463.4,205.1l2.80,1.62v3.23l-2.80,1.62l-2.80,-1.62v-3.23zM469.0,205.1l2.80,1.62v3.23l-2.80,1.62l-2.80,-1.62v-3.23zM443.8,209.9l2.80,1.62v3.23l-2.80,1.62l-2.80,-1.62v-3.23zM466.2,209.9l2.80,1.62v3.23l-2.80,1.62l-2.80,-1.62v-3.23zM471.8,209.9l2.80,1.62v3.23l-2.80,1.62l-2.80,-1.62v-3.23zM446.6,214.8l2.80,1.62v3.23l-2.80,1.62l-2.80,-1.62v-3.23zM469.0,214.8l2.80,1.62v3.23l-2.80,1.62l-2.80,-1.62v-3.23zM449.4,219.6l2.80,1.62v3.23l-2.80,1.62l-2.80,-1.62v-3.23zM471.8,219.6l2.80,1.62v3.23l-2.80,1.62l-2.80,-1.62v-3.23zM452.2,224.5l2.80,1.62v3.23l-2.80,1.62l-2.80,-1.62v-3.23zM469.0,224.5l2.80,1.62v3.23l-2.80,1.62l-2.80,-1.62v-3.23zM474.6,224.5l2.80,1.62v3.23l-2.80,1.62l-2.80,-1.62v-3.23zM485.8,224.5l2.80,1.62v3.23l-2.80,1.62l-2.80,-1.62v-3.23zM455.0,229.3l2.80,1.62v3.23l-2.80,1.62l-2.80,-1.62v-3.23zM471.8,229.3l2.80,1.62v3.23l-2.80,1.62l-2.80,-1.62v-3.23zM457.8,234.2l2.80,1.62v3.23l-2.80,1.62l-2.80,-1.62v-3.23zM469.0,234.2l2.80,1.62v3.23l-2.80,1.62l-2.80,-1.62v-3.23zM474.6,234.2l2.80,1.62v3.23l-2.80,1.62l-2.80,-1.62v-3.23zM485.8,234.2l2.80,1.62v3.23l-2.80,1.62l-2.80,-1.62v-3.23zM158.2,239.0l2.80,1.62v3.23l-2.80,1.62l-2.80,-1.62v-3.23zM275.8,239.0l2.80,1.62v3.23l-2.80,1.62l-2.80,-1.62v-3.23zM460.6,239.0l2.80,1.62v3.23l-2.80,1.62l-2.80,-1.62v-3.23zM471.8,239.0l2.80,1.62v3.23l-2.80,1.62l-2.80,-1.62v-3.23zM477.4,239.0l2.80,1.62v3.23l-2.80,1.62l-2.80,-1.62v-3.23zM483.0,239.0l2.80,1.62v3.23l-2.80,1.62l-2.80,-1.62v-3.23zM161.0,243.9l2.80,1.62v3.23l-2.80,1.62l-2.80,-1.62v-3.23zM345.8,243.9l2.80,1.62v3.23l-2.80,1.62l-2.80,-1.62v-3.23zM351.4,243.9l2.80,1.62v3.23l-2.80,1.62l-2.80,-1.62v-3.23zM357.0,243.9l2.80,1.62v3.23l-2.80,1.62l-2.80,-1.62v-3.23zM469.0,243.9l2.80,1.62v3.23l-2.80,1.62l-2.80,-1.62v-3.23zM474.6,243.9l2.80,1.62v3.23l-2.80,1.62l-2.80,-1.62v-3.23zM480.2,243.9l2.80,1.62v3.23l-2.80,1.62l-2.80,-1.62v-3.23zM485.8,243.9l2.80,1.62v3.23l-2.80,1.62l-2.80,-1.62v-3.23zM158.2,248.7l2.80,1.62v3.23l-2.80,1.62l-2.80,-1.62v-3.23zM236.6,248.7l2.80,1.62v3.23l-2.80,1.62l-2.80,-1.62v-3.23zM326.2,248.7l2.80,1.62v3.23l-2.80,1.62l-2.80,-1.62v-3.23zM460.6,248.7l2.80,1.62v3.23l-2.80,1.62l-2.80,-1.62v-3.23zM471.8,248.7l2.80,1.62v3.23l-2.80,1.62l-2.80,-1.62v-3.23zM477.4,248.7l2.80,1.62v3.23l-2.80,1.62l-2.80,-1.62v-3.23zM483.0,248.7l2.80,1.62v3.23l-2.80,1.62l-2.80,-1.62v-3.23zM161.0,253.6l2.80,1.62v3.23l-2.80,1.62l-2.80,-1.62v-3.23zM463.4,253.6l2.80,1.62v3.23l-2.80,1.62l-2.80,-1.62v-3.23zM469.0,253.6l2.80,1.62v3.23l-2.80,1.62l-2.80,-1.62v-3.23zM474.6,253.6l2.80,1.62v3.23l-2.80,1.62l-2.80,-1.62v-3.23zM480.2,253.6l2.80,1.62v3.23l-2.80,1.62l-2.80,-1.62v-3.23zM158.2,258.4l2.80,1.62v3.23l-2.80,1.62l-2.80,-1.62v-3.23zM460.6,258.4l2.80,1.62v3.23l-2.80,1.62l-2.80,-1.62v-3.23zM471.8,258.4l2.80,1.62v3.23l-2.80,1.62l-2.80,-1.62v-3.23zM477.4,258.4l2.80,1.62v3.23l-2.80,1.62l-2.80,-1.62v-3.23zM483.0,258.4l2.80,1.62v3.23l-2.80,1.62l-2.80,-1.62v-3.23zM161.0,263.3l2.80,1.62v3.23l-2.80,1.62l-2.80,-1.62v-3.23zM463.4,263.3l2.80,1.62v3.23l-2.80,1.62l-2.80,-1.62v-3.23zM469.0,263.3l2.80,1.62v3.23l-2.80,1.62l-2.80,-1.62v-3.23zM474.6,263.3l2.80,1.62v3.23l-2.80,1.62l-2.80,-1.62v-3.23zM480.2,263.3l2.80,1.62v3.23l-2.80,1.62l-2.80,-1.62v-3.23zM163.8,268.1l2.80,1.62v3.23l-2.80,1.62l-2.80,-1.62v-3.23zM471.8,268.1l2.80,1.62v3.23l-2.80,1.62l-2.80,-1.62v-3.23zM477.4,268.1l2.80,1.62v3.23l-2.80,1.62l-2.80,-1.62v-3.23zM483.0,268.1l2.80,1.62v3.23l-2.80,1.62l-2.80,-1.62v-3.23zM161.0,273.0l2.80,1.62v3.23l-2.80,1.62l-2.80,-1.62v-3.23zM463.4,273.0l2.80,1.62v3.23l-2.80,1.62l-2.80,-1.62v-3.23zM163.8,277.8l2.80,1.62v3.23l-2.80,1.62l-2.80,-1.62v-3.23zM309.4,277.8l2.80,1.62v3.23l-2.80,1.62l-2.80,-1.62v-3.23zM466.2,277.8l2.80,1.62v3.23l-2.80,1.62l-2.80,-1.62v-3.23zM163.8,287.5l2.80,1.62v3.23l-2.80,1.62l-2.80,-1.62v-3.23zM466.2,287.5l2.80,1.62v3.23l-2.80,1.62l-2.80,-1.62v-3.23zM166.6,292.4l2.80,1.62v3.23l-2.80,1.62l-2.80,-1.62v-3.23zM469.0,292.4l2.80,1.62v3.23l-2.80,1.62l-2.80,-1.62v-3.23zM281.4,297.2l2.80,1.62v3.23l-2.80,1.62l-2.80,-1.62v-3.23zM466.2,297.2l2.80,1.62v3.23l-2.80,1.62l-2.80,-1.62v-3.23zM284.2,302.1l2.80,1.62v3.23l-2.80,1.62l-2.80,-1.62v-3.23zM287.0,306.9l2.80,1.62v3.23l-2.80,1.62l-2.80,-1.62v-3.23zM376.6,306.9l2.80,1.62v3.23l-2.80,1.62l-2.80,-1.62v-3.23zM466.2,306.9l2.80,1.62v3.23l-2.80,1.62l-2.80,-1.62v-3.23zM373.8,311.8l2.80,1.62v3.23l-2.80,1.62l-2.80,-1.62v-3.23zM463.4,311.8l2.80,1.62v3.23l-2.80,1.62l-2.80,-1.62v-3.23zM348.6,326.3l2.80,1.62v3.23l-2.80,1.62l-2.80,-1.62v-3.23zM239.4,379.7l2.80,1.62v3.23l-2.80,1.62l-2.80,-1.62v-3.23zM275.8,394.2l2.80,1.62v3.23l-2.80,1.62l-2.80,-1.62v-3.23zM295.4,399.1l2.80,1.62v3.23l-2.80,1.62l-2.80,-1.62v-3.23zM301.0,399.1l2.80,1.62v3.23l-2.80,1.62l-2.80,-1.62v-3.23zM306.6,399.1l2.80,1.62v3.23l-2.80,1.62l-2.80,-1.62v-3.23zM312.2,399.1l2.80,1.62v3.23l-2.80,1.62l-2.80,-1.62v-3.23zM317.8,399.1l2.80,1.62v3.23l-2.80,1.62l-2.80,-1.62v-3.23zM323.4,399.1l2.80,1.62v3.23l-2.80,1.62l-2.80,-1.62v-3.23zM329.0,399.1l2.80,1.62v3.23l-2.80,1.62l-2.80,-1.62v-3.23zM334.6,399.1l2.80,1.62v3.23l-2.80,1.62l-2.80,-1.62v-3.23zM340.2,399.1l2.80,1.62v3.23l-2.80,1.62l-2.80,-1.62v-3.23zM345.8,399.1l2.80,1.62v3.23l-2.80,1.62l-2.80,-1.62v-3.23z"/>
<path fill="#f0d0d2" stroke="#f0d0d2" stroke-width="0.5" d="M289.8,88.7l2.80,1.62v3.23l-2.80,1.62l-2.80,-1.62v-3.23zM295.4,88.7l2.80,1.62v3.23l-2.80,1.62l-2.80,-1.62v-3.23zM340.2,88.7l2.80,1.62v3.23l-2.80,1.62l-2.80,-1.62v-3.23zM345.8,88.7l2.80,1.62v3.23l-2.80,1.62l-2.80,-1.62v-3.23zM270.2,93.5l2.80,1.62v3.23l-2.80,1.62l-2.80,-1.62v-3.23zM365.4,93.5l2.80,1.62v3.23l-2.80,1.62l-2.80,-1.62v-3.23zM261.8,98.4l2.80,1.62v3.23l-2.80,1.62l-2.80,-1.62v-3.23zM379.4,98.4l2.80,1.62v3.23l-2.80,1.62l-2.80,-1.62v-3.23zM387.8,103.2l2.80,1.62v3.23l-2.80,1.62l-2.80,-1.62v-3.23zM236.6,112.9l2.80,1.62v3.23l-2.80,1.62l-2.80,-1.62v-3.23zM404.6,112.9l2.80,1.62v3.23l-2.80,1.62l-2.80,-1.62v-3.23zM228.2,117.8l2.80,1.62v3.23l-2.80,1.62l-2.80,-1.62v-3.23zM413.0,117.8l2.80,1.62v3.23l-2.80,1.62l-2.80,-1.62v-3.23zM309.4,122.6l2.80,1.62v3.23l-2.80,1.62l-2.80,-1.62v-3.23zM337.4,122.6l2.80,1.62v3.23l-2.80,1.62l-2.80,-1.62v-3.23zM343.0,122.6l2.80,1.62v3.23l-2.80,1.62l-2.80,-1.62v-3.23zM421.4,122.6l2.80,1.62v3.23l-2.80,1.62l-2.80,-1.62v-3.23zM217.0,127.5l2.80,1.62v3.23l-2.80,1.62l-2.80,-1.62v-3.23zM357.0,127.5l2.80,1.62v3.23l-2.80,1.62l-2.80,-1.62v-3.23zM424.2,127.5l2.80,1.62v3.23l-2.80,1.62l-2.80,-1.62v-3.23zM214.2,132.3l2.80,1.62v3.23l-2.80,1.62l-2.80,-1.62v-3.23zM292.6,132.3l2.80,1.62v3.23l-2.80,1.62l-2.80,-1.62v-3.23zM371.0,132.3l2.80,1.62v3.23l-2.80,1.62l-2.80,-1.62v-3.23zM379.4,137.2l2.80,1.62v3.23l-2.80,1.62l-2.80,-1.62v-3.23zM435.4,137.2l2.80,1.62v3.23l-2.80,1.62l-2.80,-1.62v-3.23zM203.0,142.0l2.80,1.62v3.23l-2.80,1.62l-2.80,-1.62v-3.23zM387.8,142.0l2.80,1.62v3.23l-2.80,1.62l-2.80,-1.62v-3.23zM200.2,146.9l2.80,1.62v3.23l-2.80,1.62l-2.80,-1.62v-3.23zM284.2,146.9l2.80,1.62v3.23l-2.80,1.62l-2.80,-1.62v-3.23zM197.4,151.7l2.80,1.62v3.23l-2.80,1.62l-2.80,-1.62v-3.23zM194.6,156.6l2.80,1.62v3.23l-2.80,1.62l-2.80,-1.62v-3.23zM452.2,156.6l2.80,1.62v3.23l-2.80,1.62l-2.80,-1.62v-3.23zM410.2,161.4l2.80,1.62v3.23l-2.80,1.62l-2.80,-1.62v-3.23zM455.0,161.4l2.80,1.62v3.23l-2.80,1.62l-2.80,-1.62v-3.23zM413.0,166.3l2.80,1.62v3.23l-2.80,1.62l-2.80,-1.62v-3.23zM457.8,166.3l2.80,1.62v3.23l-2.80,1.62l-2.80,-1.62v-3.23zM298.2,171.1l2.80,1.62v3.23l-2.80,1.62l-2.80,-1.62v-3.23zM415.8,171.1l2.80,1.62v3.23l-2.80,1.62l-2.80,-1.62v-3.23zM460.6,171.1l2.80,1.62v3.23l-2.80,1.62l-2.80,-1.62v-3.23zM183.4,176.0l2.80,1.62v3.23l-2.80,1.62l-2.80,-1.62v-3.23zM217.0,176.0l2.80,1.62v3.23l-2.80,1.62l-2.80,-1.62v-3.23zM418.6,176.0l2.80,1.62v3.23l-2.80,1.62l-2.80,-1.62v-3.23zM463.4,176.0l2.80,1.62v3.23l-2.80,1.62l-2.80,-1.62v-3.23zM180.6,180.8l2.80,1.62v3.23l-2.80,1.62l-2.80,-1.62v-3.23zM309.4,180.8l2.80,1.62v3.23l-2.80,1.62l-2.80,-1.62v-3.23zM421.4,180.8l2.80,1.62v3.23l-2.80,1.62l-2.80,-1.62v-3.23zM466.2,180.8l2.80,1.62v3.23l-2.80,1.62l-2.80,-1.62v-3.23zM177.8,185.7l2.80,1.62v3.23l-2.80,1.62l-2.80,-1.62v-3.23zM317.8,185.7l2.80,1.62v3.23l-2.80,1.62l-2.80,-1.62v-3.23zM323.4,185.7l2.80,1.62v3.23l-2.80,1.62l-2.80,-1.62v-3.23zM175.0,190.5l2.80,1.62v3.23l-2.80,1.62l-2.80,-1.62v-3.23zM326.2,190.5l2.80,1.62v3.23l-2.80,1.62l-2.80,-1.62v-3.23zM331.8,190.5l2.80,1.62v3.23l-2.80,1.62l-2.80,-1.62v-3.23zM337.4,190.5l2.80,1.62v3.23l-2.80,1.62l-2.80,-1.62v-3.23zM161.0,195.4l2.80,1.62v3.23l-2.80,1.62l-2.80,-1.62v-3.23zM172.2,195.4l2.80,1.62v3.23l-2.80,1.62l-2.80,-1.62v-3.23zM334.6,195.4l2.80,1.62v3.23l-2.80,1.62l-2.80,-1.62v-3.23zM340.2,195.4l2.80,1.62v3.23l-2.80,1.62l-2.80,-1.62v-3.23zM345.8,195.4l2.80,1.62v3.23l-2.80,1.62l-2.80,-1.62v-3.23zM469.0,195.4l2.80,1.62v3.23l-2.80,1.62l-2.80,-1.62v-3.23zM480.2,195.4l2.80,1.62v3.23l-2.80,1.62l-2.80,-1.62v-3.23zM169.4,200.2l2.80,1.62v3.23l-2.80,1.62l-2.80,-1.62v-3.23zM180.6,200.2l2.80,1.62v3.23l-2.80,1.62l-2.80,-1.62v-3.23zM471.8,200.2l2.80,1.62v3.23l-2.80,1.62l-2.80,-1.62v-3.23zM161.0,205.1l2.80,1.62v3.23l-2.80,1.62l-2.80,-1.62v-3.23zM474.6,205.1l2.80,1.62v3.23l-2.80,1.62l-2.80,-1.62v-3.23zM480.2,205.1l2.80,1.62v3.23l-2.80,1.62l-2.80,-1.62v-3.23zM158.2,209.9l2.80,1.62v3.23l-2.80,1.62l-2.80,-1.62v-3.23zM163.8,209.9l2.80,1.62v3.23l-2.80,1.62l-2.80,-1.62v-3.23zM169.4,209.9l2.80,1.62v3.23l-2.80,1.62l-2.80,-1.62v-3.23zM175.0,209.9l2.80,1.62v3.23l-2.80,1.62l-2.80,-1.62v-3.23zM477.4,209.9l2.80,1.62v3.23l-2.80,1.62l-2.80,-1.62v-3.23zM483.0,209.9l2.80,1.62v3.23l-2.80,1.62l-2.80,-1.62v-3.23zM161.0,214.8l2.80,1.62v3.23l-2.80,1.62l-2.80,-1.62v-3.23zM166.6,214.8l2.80,1.62v3.23l-2.80,1.62l-2.80,-1.62v-3.23zM172.2,214.8l2.80,1.62v3.23l-2.80,1.62l-2.80,-1.62v-3.23zM474.6,214.8l2.80,1.62v3.23l-2.80,1.62l-2.80,-1.62v-3.23zM480.2,214.8l2.80,1.62v3.23l-2.80,1.62l-2.80,-1.62v-3.23zM158.2,219.6l2.80,1.62v3.23l-2.80,1.62l-2.80,-1.62v-3.23zM163.8,219.6l2.80,1.62v3.23l-2.80,1.62l-2.80,-1.62v-3.23zM169.4,219.6l2.80,1.62v3.23l-2.80,1.62l-2.80,-1.62v-3.23zM477.4,219.6l2.80,1.62v3.23l-2.80,1.62l-2.80,-1.62v-3.23zM483.0,219.6l2.80,1.62v3.23l-2.80,1.62l-2.80,-1.62v-3.23zM161.0,224.5l2.80,1.62v3.23l-2.80,1.62l-2.80,-1.62v-3.23zM166.6,224.5l2.80,1.62v3.23l-2.80,1.62l-2.80,-1.62v-3.23zM480.2,224.5l2.80,1.62v3.23l-2.80,1.62l-2.80,-1.62v-3.23zM158.2,229.3l2.80,1.62v3.23l-2.80,1.62l-2.80,-1.62v-3.23zM163.8,229.3l2.80,1.62v3.23l-2.80,1.62l-2.80,-1.62v-3.23zM477.4,229.3l2.80,1.62v3.23l-2.80,1.62l-2.80,-1.62v-3.23zM483.0,229.3l2.80,1.62v3.23l-2.80,1.62l-2.80,-1.62v-3.23zM161.0,234.2l2.80,1.62v3.23l-2.80,1.62l-2.80,-1.62v-3.23zM166.6,234.2l2.80,1.62v3.23l-2.80,1.62l-2.80,-1.62v-3.23zM480.2,234.2l2.80,1.62v3.23l-2.80,1.62l-2.80,-1.62v-3.23zM163.8,239.0l2.80,1.62v3.23l-2.80,1.62l-2.80,-1.62v-3.23zM242.2,239.0l2.80,1.62v3.23l-2.80,1.62l-2.80,-1.62v-3.23zM362.6,243.9l2.80,1.62v3.23l-2.80,1.62l-2.80,-1.62v-3.23zM457.8,243.9l2.80,1.62v3.23l-2.80,1.62l-2.80,-1.62v-3.23zM163.8,248.7l2.80,1.62v3.23l-2.80,1.62l-2.80,-1.62v-3.23zM163.8,258.4l2.80,1.62v3.23l-2.80,1.62l-2.80,-1.62v-3.23zM460.6,268.1l2.80,1.62v3.23l-2.80,1.62l-2.80,-1.62v-3.23zM385.0,273.0l2.80,1.62v3.23l-2.80,1.62l-2.80,-1.62v-3.23zM166.6,282.7l2.80,1.62v3.23l-2.80,1.62l-2.80,-1.62v-3.23zM256.2,282.7l2.80,1.62v3.23l-2.80,1.62l-2.80,-1.62v-3.23zM261.8,282.7l2.80,1.62v3.23l-2.80,1.62l-2.80,-1.62v-3.23zM385.0,282.7l2.80,1.62v3.23l-2.80,1.62l-2.80,-1.62v-3.23zM463.4,282.7l2.80,1.62v3.23l-2.80,1.62l-2.80,-1.62v-3.23zM169.4,297.2l2.80,1.62v3.23l-2.80,1.62l-2.80,-1.62v-3.23zM172.2,302.1l2.80,1.62v3.23l-2.80,1.62l-2.80,-1.62v-3.23zM379.4,302.1l2.80,1.62v3.23l-2.80,1.62l-2.80,-1.62v-3.23zM463.4,302.1l2.80,1.62v3.23l-2.80,1.62l-2.80,-1.62v-3.23zM289.8,311.8l2.80,1.62v3.23l-2.80,1.62l-2.80,-1.62v-3.23zM371.0,316.6l2.80,1.62v3.23l-2.80,1.62l-2.80,-1.62v-3.23zM460.6,316.6l2.80,1.62v3.23l-2.80,1.62l-2.80,-1.62v-3.23zM362.6,321.5l2.80,1.62v3.23l-2.80,1.62l-2.80,-1.62v-3.23zM253.4,384.5l2.80,1.62v3.23l-2.80,1.62l-2.80,-1.62v-3.23zM261.8,389.4l2.80,1.62v3.23l-2.80,1.62l-2.80,-1.62v-3.23zM281.4,394.2l2.80,1.62v3.23l-2.80,1.62l-2.80,-1.62v-3.23zM365.4,394.2l2.80,1.62v3.23l-2.80,1.62l-2.80,-1.62v-3.23z"/>
<path fill="#f0ced3" stroke="#f0ced3" stroke-width="0.5" d="M309.4,83.8l2.80,1.62v3.23l-2.80,1.62l-2.80,-1.62v-3.23zM315.0,83.8l2.80,1.62v3.23l-2.80,1.62l-2.80,-1.62v-3.23zM320.6,83.8l2.80,1.62v3.23l-2.80,1.62l-2.80,-1.62v-3.23zM278.6,88.7l2.80,1.62v3.23l-2.80,1.62l-2.80,-1.62v-3.23zM284.2,88.7l2.80,1.62v3.23l-2.80,1.62l-2.80,-1.62v-3.23zM351.4,88.7l2.80,1.62v3.23l-2.80,1.62l-2.80,-1.62v-3.23zM357.0,88.7l2.80,1.62v3.23l-2.80,1.62l-2.80,-1.62v-3.23zM264.6,93.5l2.80,1.62v3.23l-2.80,1.62l-2.80,-1.62v-3.23zM371.0,93.5l2.80,1.62v3.23l-2.80,1.62l-2.80,-1.62v-3.23zM256.2,98.4l2.80,1.62v3.23l-2.80,1.62l-2.80,-1.62v-3.23zM247.8,103.2l2.80,1.62v3.23l-2.80,1.62l-2.80,-1.62v-3.23zM393.4,103.2l2.80,1.62v3.23l-2.80,1.62l-2.80,-1.62v-3.23zM239.4,108.1l2.80,1.62v3.23l-2.80,1.62l-2.80,-1.62v-3.23zM401.8,108.1l2.80,1.62v3.23l-2.80,1.62l-2.80,-1.62v-3.23zM410.2,112.9l2.80,1.62v3.23l-2.80,1.62l-2.80,-1.62v-3.23zM219.8,122.6l2.80,1.62v3.23l-2.80,1.62l-2.80,-1.62v-3.23zM315.0,122.6l2.80,1.62v3.23l-2.80,1.62l-2.80,-1.62v-3.23zM331.8,122.6l2.80,1.62v3.23l-2.80,1.62l-2.80,-1.62v-3.23zM301.0,127.5l2.80,1.62v3.23l-2.80,1.62l-2.80,-1.62v-3.23zM351.4,127.5l2.80,1.62v3.23l-2.80,1.62l-2.80,-1.62v-3.23zM432.6,132.3l2.80,1.62v3.23l-2.80,1.62l-2.80,-1.62v-3.23zM205.8,137.2l2.80,1.62v3.23l-2.80,1.62l-2.80,-1.62v-3.23zM289.8,137.2l2.80,1.62v3.23l-2.80,1.62l-2.80,-1.62v-3.23zM287.0,142.0l2.80,1.62v3.23l-2.80,1.62l-2.80,-1.62v-3.23zM443.8,142.0l2.80,1.62v3.23l-2.80,1.62l-2.80,-1.62v-3.23zM446.6,146.9l2.80,1.62v3.23l-2.80,1.62l-2.80,-1.62v-3.23zM399.0,151.7l2.80,1.62v3.23l-2.80,1.62l-2.80,-1.62v-3.23zM449.4,151.7l2.80,1.62v3.23l-2.80,1.62l-2.80,-1.62v-3.23zM295.4,166.3l2.80,1.62v3.23l-2.80,1.62l-2.80,-1.62v-3.23zM469.0,166.3l2.80,1.62v3.23l-2.80,1.62l-2.80,-1.62v-3.23zM466.2,171.1l2.80,1.62v3.23l-2.80,1.62l-2.80,-1.62v-3.23zM471.8,171.1l2.80,1.62v3.23l-2.80,1.62l-2.80,-1.62v-3.23zM166.6,176.0l2.80,1.62v3.23l-2.80,1.62l-2.80,-1.62v-3.23zM177.8,176.0l2.80,1.62v3.23l-2.80,1.62l-2.80,-1.62v-3.23zM222.6,176.0l2.80,1.62v3.23l-2.80,1.62l-2.80,-1.62v-3.23zM284.2,176.0l2.80,1.62v3.23l-2.80,1.62l-2.80,-1.62v-3.23zM306.6,176.0l2.80,1.62v3.23l-2.80,1.62l-2.80,-1.62v-3.23zM469.0,176.0l2.80,1.62v3.23l-2.80,1.62l-2.80,-1.62v-3.23zM474.6,176.0l2.80,1.62v3.23l-2.80,1.62l-2.80,-1.62v-3.23zM208.6,180.8l2.80,1.62v3.23l-2.80,1.62l-2.80,-1.62v-3.23zM298.2,180.8l2.80,1.62v3.23l-2.80,1.62l-2.80,-1.62v-3.23zM315.0,180.8l2.80,1.62v3.23l-2.80,1.62l-2.80,-1.62v-3.23zM471.8,180.8l2.80,1.62v3.23l-2.80,1.62l-2.80,-1.62v-3.23zM312.2,185.7l2.80,1.62v3.23l-2.80,1.62l-2.80,-1.62v-3.23zM424.2,185.7l2.80,1.62v3.23l-2.80,1.62l-2.80,-1.62v-3.23zM469.0,185.7l2.80,1.62v3.23l-2.80,1.62l-2.80,-1.62v-3.23zM474.6,185.7l2.80,1.62v3.23l-2.80,1.62l-2.80,-1.62v-3.23zM163.8,190.5l2.80,1.62v3.23l-2.80,1.62l-2.80,-1.62v-3.23zM169.4,190.5l2.80,1.62v3.23l-2.80,1.62l-2.80,-1.62v-3.23zM191.8,190.5l2.80,1.62v3.23l-2.80,1.62l-2.80,-1.62v-3.23zM471.8,190.5l2.80,1.62v3.23l-2.80,1.62l-2.80,-1.62v-3.23zM477.4,190.5l2.80,1.62v3.23l-2.80,1.62l-2.80,-1.62v-3.23zM166.6,195.4l2.80,1.62v3.23l-2.80,1.62l-2.80,-1.62v-3.23zM351.4,195.4l2.80,1.62v3.23l-2.80,1.62l-2.80,-1.62v-3.23zM474.6,195.4l2.80,1.62v3.23l-2.80,1.62l-2.80,-1.62v-3.23zM163.8,200.2l2.80,1.62v3.23l-2.80,1.62l-2.80,-1.62v-3.23zM477.4,200.2l2.80,1.62v3.23l-2.80,1.62l-2.80,-1.62v-3.23zM166.6,205.1l2.80,1.62v3.23l-2.80,1.62l-2.80,-1.62v-3.23zM177.8,205.1l2.80,1.62v3.23l-2.80,1.62l-2.80,-1.62v-3.23zM169.4,229.3l2.80,1.62v3.23l-2.80,1.62l-2.80,-1.62v-3.23zM455.0,239.0l2.80,1.62v3.23l-2.80,1.62l-2.80,-1.62v-3.23zM166.6,243.9l2.80,1.62v3.23l-2.80,1.62l-2.80,-1.62v-3.23zM284.2,243.9l2.80,1.62v3.23l-2.80,1.62l-2.80,-1.62v-3.23zM340.2,243.9l2.80,1.62v3.23l-2.80,1.62l-2.80,-1.62v-3.23zM368.2,243.9l2.80,1.62v3.23l-2.80,1.62l-2.80,-1.62v-3.23zM320.6,248.7l2.80,1.62v3.23l-2.80,1.62l-2.80,-1.62v-3.23zM233.8,253.6l2.80,1.62v3.23l-2.80,1.62l-2.80,-1.62v-3.23zM457.8,253.6l2.80,1.62v3.23l-2.80,1.62l-2.80,-1.62v-3.23zM457.8,263.3l2.80,1.62v3.23l-2.80,1.62l-2.80,-1.62v-3.23zM166.6,273.0l2.80,1.62v3.23l-2.80,1.62l-2.80,-1.62v-3.23zM239.4,273.0l2.80,1.62v3.23l-2.80,1.62l-2.80,-1.62v-3.23zM169.4,287.5l2.80,1.62v3.23l-2.80,1.62l-2.80,-1.62v-3.23zM278.6,292.4l2.80,1.62v3.23l-2.80,1.62l-2.80,-1.62v-3.23zM463.4,292.4l2.80,1.62v3.23l-2.80,1.62l-2.80,-1.62v-3.23zM382.2,297.2l2.80,1.62v3.23l-2.80,1.62l-2.80,-1.62v-3.23zM301.0,321.5l2.80,1.62v3.23l-2.80,1.62l-2.80,-1.62v-3.23zM457.8,321.5l2.80,1.62v3.23l-2.80,1.62l-2.80,-1.62v-3.23zM309.4,326.3l2.80,1.62v3.23l-2.80,1.62l-2.80,-1.62v-3.23zM197.4,345.7l2.80,1.62v3.23l-2.80,1.62l-2.80,-1.62v-3.23zM219.8,365.1l2.80,1.62v3.23l-2.80,1.62l-2.80,-1.62v-3.23zM267.4,389.4l2.80,1.62v3.23l-2.80,1.62l-2.80,-1.62v-3.23zM287.0,394.2l2.80,1.62v3.23l-2.80,1.62l-2.80,-1.62v-3.23zM359.8,394.2l2.80,1.62v3.23l-2.80,1.62l-2.80,-1.62v-3.23z"/>
<path fill="#f0ccd4" stroke="#f0ccd4" stroke-width="0.5" d="M287.0,74.2l2.80,1.62v3.23l-2.80,1.62l-2.80,-1.62v-3.23zM292.6,83.8l2.80,1.62v3.23l-2.80,1.62l-2.80,-1.62v-3.23zM298.2,83.8l2.80,1.62v3.23l-2.80,1.62l-2.80,-1.62v-3.23zM303.8,83.8l2.80,1.62v3.23l-2.80,1.62l-2.80,-1.62v-3.23zM326.2,83.8l2.80,1.62v3.23l-2.80,1.62l-2.80,-1.62v-3.23zM331.8,83.8l2.80,1.62v3.23l-2.80,1.62l-2.80,-1.62v-3.23zM337.4,83.8l2.80,1.62v3.23l-2.80,1.62l-2.80,-1.62v-3.23zM245.0,88.7l2.80,1.62v3.23l-2.80,1.62l-2.80,-1.62v-3.23zM273.0,88.7l2.80,1.62v3.23l-2.80,1.62l-2.80,-1.62v-3.23zM376.6,93.5l2.80,1.62v3.23l-2.80,1.62l-2.80,-1.62v-3.23zM250.6,98.4l2.80,1.62v3.23l-2.80,1.62l-2.80,-1.62v-3.23zM385.0,98.4l2.80,1.62v3.23l-2.80,1.62l-2.80,-1.62v-3.23zM231.0,112.9l2.80,1.62v3.23l-2.80,1.62l-2.80,-1.62v-3.23zM418.6,117.8l2.80,1.62v3.23l-2.80,1.62l-2.80,-1.62v-3.23zM320.6,122.6l2.80,1.62v3.23l-2.80,1.62l-2.80,-1.62v-3.23zM326.2,122.6l2.80,1.62v3.23l-2.80,1.62l-2.80,-1.62v-3.23zM427.0,122.6l2.80,1.62v3.23l-2.80,1.62l-2.80,-1.62v-3.23zM429.8,127.5l2.80,1.62v3.23l-2.80,1.62l-2.80,-1.62v-3.23zM208.6,132.3l2.80,1.62v3.23l-2.80,1.62l-2.80,-1.62v-3.23zM365.4,132.3l2.80,1.62v3.23l-2.80,1.62l-2.80,-1.62v-3.23zM438.2,132.3l2.80,1.62v3.23l-2.80,1.62l-2.80,-1.62v-3.23zM449.4,132.3l2.80,1.62v3.23l-2.80,1.62l-2.80,-1.62v-3.23zM373.8,137.2l2.80,1.62v3.23l-2.80,1.62l-2.80,-1.62v-3.23zM441.0,137.2l2.80,1.62v3.23l-2.80,1.62l-2.80,-1.62v-3.23zM452.2,137.2l2.80,1.62v3.23l-2.80,1.62l-2.80,-1.62v-3.23zM455.0,142.0l2.80,1.62v3.23l-2.80,1.62l-2.80,-1.62v-3.23zM390.6,146.9l2.80,1.62v3.23l-2.80,1.62l-2.80,-1.62v-3.23zM452.2,146.9l2.80,1.62v3.23l-2.80,1.62l-2.80,-1.62v-3.23zM457.8,146.9l2.80,1.62v3.23l-2.80,1.62l-2.80,-1.62v-3.23zM191.8,151.7l2.80,1.62v3.23l-2.80,1.62l-2.80,-1.62v-3.23zM287.0,151.7l2.80,1.62v3.23l-2.80,1.62l-2.80,-1.62v-3.23zM455.0,151.7l2.80,1.62v3.23l-2.80,1.62l-2.80,-1.62v-3.23zM460.6,151.7l2.80,1.62v3.23l-2.80,1.62l-2.80,-1.62v-3.23zM189.0,156.6l2.80,1.62v3.23l-2.80,1.62l-2.80,-1.62v-3.23zM289.8,156.6l2.80,1.62v3.23l-2.80,1.62l-2.80,-1.62v-3.23zM457.8,156.6l2.80,1.62v3.23l-2.80,1.62l-2.80,-1.62v-3.23zM463.4,156.6l2.80,1.62v3.23l-2.80,1.62l-2.80,-1.62v-3.23zM186.2,161.4l2.80,1.62v3.23l-2.80,1.62l-2.80,-1.62v-3.23zM292.6,161.4l2.80,1.62v3.23l-2.80,1.62l-2.80,-1.62v-3.23zM460.6,161.4l2.80,1.62v3.23l-2.80,1.62l-2.80,-1.62v-3.23zM466.2,161.4l2.80,1.62v3.23l-2.80,1.62l-2.80,-1.62v-3.23zM172.2,166.3l2.80,1.62v3.23l-2.80,1.62l-2.80,-1.62v-3.23zM183.4,166.3l2.80,1.62v3.23l-2.80,1.62l-2.80,-1.62v-3.23zM463.4,166.3l2.80,1.62v3.23l-2.80,1.62l-2.80,-1.62v-3.23zM169.4,171.1l2.80,1.62v3.23l-2.80,1.62l-2.80,-1.62v-3.23zM180.6,171.1l2.80,1.62v3.23l-2.80,1.62l-2.80,-1.62v-3.23zM228.2,176.0l2.80,1.62v3.23l-2.80,1.62l-2.80,-1.62v-3.23zM278.6,176.0l2.80,1.62v3.23l-2.80,1.62l-2.80,-1.62v-3.23zM169.4,180.8l2.80,1.62v3.23l-2.80,1.62l-2.80,-1.62v-3.23zM175.0,180.8l2.80,1.62v3.23l-2.80,1.62l-2.80,-1.62v-3.23zM166.6,185.7l2.80,1.62v3.23l-2.80,1.62l-2.80,-1.62v-3.23zM172.2,185.7l2.80,1.62v3.23l-2.80,1.62l-2.80,-1.62v-3.23zM200.2,185.7l2.80,1.62v3.23l-2.80,1.62l-2.80,-1.62v-3.23zM329.0,185.7l2.80,1.62v3.23l-2.80,1.62l-2.80,-1.62v-3.23zM320.6,190.5l2.80,1.62v3.23l-2.80,1.62l-2.80,-1.62v-3.23zM343.0,190.5l2.80,1.62v3.23l-2.80,1.62l-2.80,-1.62v-3.23zM427.0,190.5l2.80,1.62v3.23l-2.80,1.62l-2.80,-1.62v-3.23zM329.0,195.4l2.80,1.62v3.23l-2.80,1.62l-2.80,-1.62v-3.23zM357.0,195.4l2.80,1.62v3.23l-2.80,1.62l-2.80,-1.62v-3.23zM429.8,195.4l2.80,1.62v3.23l-2.80,1.62l-2.80,-1.62v-3.23zM348.6,200.2l2.80,1.62v3.23l-2.80,1.62l-2.80,-1.62v-3.23zM354.2,200.2l2.80,1.62v3.23l-2.80,1.62l-2.80,-1.62v-3.23zM172.2,224.5l2.80,1.62v3.23l-2.80,1.62l-2.80,-1.62v-3.23zM376.6,248.7l2.80,1.62v3.23l-2.80,1.62l-2.80,-1.62v-3.23zM166.6,253.6l2.80,1.62v3.23l-2.80,1.62l-2.80,-1.62v-3.23zM312.2,253.6l2.80,1.62v3.23l-2.80,1.62l-2.80,-1.62v-3.23zM379.4,253.6l2.80,1.62v3.23l-2.80,1.62l-2.80,-1.62v-3.23zM382.2,258.4l2.80,1.62v3.23l-2.80,1.62l-2.80,-1.62v-3.23zM166.6,263.3l2.80,1.62v3.23l-2.80,1.62l-2.80,-1.62v-3.23zM233.8,263.3l2.80,1.62v3.23l-2.80,1.62l-2.80,-1.62v-3.23zM306.6,263.3l2.80,1.62v3.23l-2.80,1.62l-2.80,-1.62v-3.23zM236.6,268.1l2.80,1.62v3.23l-2.80,1.62l-2.80,-1.62v-3.23zM303.8,277.8l2.80,1.62v3.23l-2.80,1.62l-2.80,-1.62v-3.23zM460.6,277.8l2.80,1.62v3.23l-2.80,1.62l-2.80,-1.62v-3.23zM267.4,282.7l2.80,1.62v3.23l-2.80,1.62l-2.80,-1.62v-3.23zM273.0,282.7l2.80,1.62v3.23l-2.80,1.62l-2.80,-1.62v-3.23zM175.0,306.9l2.80,1.62v3.23l-2.80,1.62l-2.80,-1.62v-3.23zM460.6,306.9l2.80,1.62v3.23l-2.80,1.62l-2.80,-1.62v-3.23zM354.2,326.3l2.80,1.62v3.23l-2.80,1.62l-2.80,-1.62v-3.23zM455.0,326.3l2.80,1.62v3.23l-2.80,1.62l-2.80,-1.62v-3.23zM452.2,331.2l2.80,1.62v3.23l-2.80,1.62l-2.80,-1.62v-3.23zM194.6,340.9l2.80,1.62v3.23l-2.80,1.62l-2.80,-1.62v-3.23zM443.8,345.7l2.80,1.62v3.23l-2.80,1.62l-2.80,-1.62v-3.23zM208.6,355.4l2.80,1.62v3.23l-2.80,1.62l-2.80,-1.62v-3.23zM228.2,370.0l2.80,1.62v3.23l-2.80,1.62l-2.80,-1.62v-3.23zM236.6,374.8l2.80,1.62v3.23l-2.80,1.62l-2.80,-1.62v-3.23zM245.0,379.7l2.80,1.62v3.23l-2.80,1.62l-2.80,-1.62v-3.23zM259.0,384.5l2.80,1.62v3.23l-2.80,1.62l-2.80,-1.62v-3.23zM393.4,384.5l2.80,1.62v3.23l-2.80,1.62l-2.80,-1.62v-3.23zM379.4,389.4l2.80,1.62v3.23l-2.80,1.62l-2.80,-1.62v-3.23zM292.6,394.2l2.80,1.62v3.23l-2.80,1.62l-2.80,-1.62v-3.23zM348.6,394.2l2.80,1.62v3.23l-2.80,1.62l-2.80,-1.62v-3.23zM354.2,394.2l2.80,1.62v3.23l-2.80,1.62l-2.80,-1.62v-3.23z"/>
<path fill="#f0cad5" stroke="#f0cad5" stroke-width="0.5" d="M292.6,74.2l2.80,1.62v3.23l-2.80,1.62l-2.80,-1.62v-3.23zM298.2,74.2l2.80,1.62v3.23l-2.80,1.62l-2.80,-1.62v-3.23zM273.0,79.0l2.80,1.62v3.23l-2.80,1.62l-2.80,-1.62v-3.23zM278.6,79.0l2.80,1.62v3.23l-2.80,1.62l-2.80,-1.62v-3.23zM284.2,79.0l2.80,1.62v3.23l-2.80,1.62l-2.80,-1.62v-3.23zM259.0,83.8l2.80,1.62v3.23l-2.80,1.62l-2.80,-1.62v-3.23zM264.6,83.8l2.80,1.62v3.23l-2.80,1.62l-2.80,-1.62v-3.23zM275.8,83.8l2.80,1.62v3.23l-2.80,1.62l-2.80,-1.62v-3.23zM281.4,83.8l2.80,1.62v3.23l-2.80,1.62l-2.80,-1.62v-3.23zM287.0,83.8l2.80,1.62v3.23l-2.80,1.62l-2.80,-1.62v-3.23zM343.0,83.8l2.80,1.62v3.23l-2.80,1.62l-2.80,-1.62v-3.23zM348.6,83.8l2.80,1.62v3.23l-2.80,1.62l-2.80,-1.62v-3.23zM250.6,88.7l2.80,1.62v3.23l-2.80,1.62l-2.80,-1.62v-3.23zM261.8,88.7l2.80,1.62v3.23l-2.80,1.62l-2.80,-1.62v-3.23zM267.4,88.7l2.80,1.62v3.23l-2.80,1.62l-2.80,-1.62v-3.23zM362.6,88.7l2.80,1.62v3.23l-2.80,1.62l-2.80,-1.62v-3.23zM236.6,93.5l2.80,1.62v3.23l-2.80,1.62l-2.80,-1.62v-3.23zM253.4,93.5l2.80,1.62v3.23l-2.80,1.62l-2.80,-1.62v-3.23zM259.0,93.5l2.80,1.62v3.23l-2.80,1.62l-2.80,-1.62v-3.23zM390.6,98.4l2.80,1.62v3.23l-2.80,1.62l-2.80,-1.62v-3.23zM413.0,98.4l2.80,1.62v3.23l-2.80,1.62l-2.80,-1.62v-3.23zM242.2,103.2l2.80,1.62v3.23l-2.80,1.62l-2.80,-1.62v-3.23zM399.0,103.2l2.80,1.62v3.23l-2.80,1.62l-2.80,-1.62v-3.23zM217.0,108.1l2.80,1.62v3.23l-2.80,1.62l-2.80,-1.62v-3.23zM233.8,108.1l2.80,1.62v3.23l-2.80,1.62l-2.80,-1.62v-3.23zM407.4,108.1l2.80,1.62v3.23l-2.80,1.62l-2.80,-1.62v-3.23zM424.2,108.1l2.80,1.62v3.23l-2.80,1.62l-2.80,-1.62v-3.23zM225.4,112.9l2.80,1.62v3.23l-2.80,1.62l-2.80,-1.62v-3.23zM415.8,112.9l2.80,1.62v3.23l-2.80,1.62l-2.80,-1.62v-3.23zM205.8,117.8l2.80,1.62v3.23l-2.80,1.62l-2.80,-1.62v-3.23zM222.6,117.8l2.80,1.62v3.23l-2.80,1.62l-2.80,-1.62v-3.23zM424.2,117.8l2.80,1.62v3.23l-2.80,1.62l-2.80,-1.62v-3.23zM435.4,117.8l2.80,1.62v3.23l-2.80,1.62l-2.80,-1.62v-3.23zM432.6,122.6l2.80,1.62v3.23l-2.80,1.62l-2.80,-1.62v-3.23zM438.2,122.6l2.80,1.62v3.23l-2.80,1.62l-2.80,-1.62v-3.23zM211.4,127.5l2.80,1.62v3.23l-2.80,1.62l-2.80,-1.62v-3.23zM306.6,127.5l2.80,1.62v3.23l-2.80,1.62l-2.80,-1.62v-3.23zM345.8,127.5l2.80,1.62v3.23l-2.80,1.62l-2.80,-1.62v-3.23zM435.4,127.5l2.80,1.62v3.23l-2.80,1.62l-2.80,-1.62v-3.23zM441.0,127.5l2.80,1.62v3.23l-2.80,1.62l-2.80,-1.62v-3.23zM191.8,132.3l2.80,1.62v3.23l-2.80,1.62l-2.80,-1.62v-3.23zM298.2,132.3l2.80,1.62v3.23l-2.80,1.62l-2.80,-1.62v-3.23zM359.8,132.3l2.80,1.62v3.23l-2.80,1.62l-2.80,-1.62v-3.23zM443.8,132.3l2.80,1.62v3.23l-2.80,1.62l-2.80,-1.62v-3.23zM189.0,137.2l2.80,1.62v3.23l-2.80,1.62l-2.80,-1.62v-3.23zM446.6,137.2l2.80,1.62v3.23l-2.80,1.62l-2.80,-1.62v-3.23zM186.2,142.0l2.80,1.62v3.23l-2.80,1.62l-2.80,-1.62v-3.23zM197.4,142.0l2.80,1.62v3.23l-2.80,1.62l-2.80,-1.62v-3.23zM382.2,142.0l2.80,1.62v3.23l-2.80,1.62l-2.80,-1.62v-3.23zM449.4,142.0l2.80,1.62v3.23l-2.80,1.62l-2.80,-1.62v-3.23zM183.4,146.9l2.80,1.62v3.23l-2.80,1.62l-2.80,-1.62v-3.23zM194.6,146.9l2.80,1.62v3.23l-2.80,1.62l-2.80,-1.62v-3.23zM180.6,151.7l2.80,1.62v3.23l-2.80,1.62l-2.80,-1.62v-3.23zM177.8,156.6l2.80,1.62v3.23l-2.80,1.62l-2.80,-1.62v-3.23zM401.8,156.6l2.80,1.62v3.23l-2.80,1.62l-2.80,-1.62v-3.23zM175.0,161.4l2.80,1.62v3.23l-2.80,1.62l-2.80,-1.62v-3.23zM180.6,161.4l2.80,1.62v3.23l-2.80,1.62l-2.80,-1.62v-3.23zM177.8,166.3l2.80,1.62v3.23l-2.80,1.62l-2.80,-1.62v-3.23zM175.0,171.1l2.80,1.62v3.23l-2.80,1.62l-2.80,-1.62v-3.23zM303.8,171.1l2.80,1.62v3.23l-2.80,1.62l-2.80,-1.62v-3.23zM172.2,176.0l2.80,1.62v3.23l-2.80,1.62l-2.80,-1.62v-3.23zM233.8,176.0l2.80,1.62v3.23l-2.80,1.62l-2.80,-1.62v-3.23zM239.4,176.0l2.80,1.62v3.23l-2.80,1.62l-2.80,-1.62v-3.23zM245.0,176.0l2.80,1.62v3.23l-2.80,1.62l-2.80,-1.62v-3.23zM250.6,176.0l2.80,1.62v3.23l-2.80,1.62l-2.80,-1.62v-3.23zM256.2,176.0l2.80,1.62v3.23l-2.80,1.62l-2.80,-1.62v-3.23zM261.8,176.0l2.80,1.62v3.23l-2.80,1.62l-2.80,-1.62v-3.23zM267.4,176.0l2.80,1.62v3.23l-2.80,1.62l-2.80,-1.62v-3.23zM273.0,176.0l2.80,1.62v3.23l-2.80,1.62l-2.80,-1.62v-3.23zM312.2,176.0l2.80,1.62v3.23l-2.80,1.62l-2.80,-1.62v-3.23zM214.2,180.8l2.80,1.62v3.23l-2.80,1.62l-2.80,-1.62v-3.23zM292.6,180.8l2.80,1.62v3.23l-2.80,1.62l-2.80,-1.62v-3.23zM320.6,180.8l2.80,1.62v3.23l-2.80,1.62l-2.80,-1.62v-3.23zM306.6,185.7l2.80,1.62v3.23l-2.80,1.62l-2.80,-1.62v-3.23zM348.6,190.5l2.80,1.62v3.23l-2.80,1.62l-2.80,-1.62v-3.23zM189.0,195.4l2.80,1.62v3.23l-2.80,1.62l-2.80,-1.62v-3.23zM343.0,200.2l2.80,1.62v3.23l-2.80,1.62l-2.80,-1.62v-3.23zM359.8,200.2l2.80,1.62v3.23l-2.80,1.62l-2.80,-1.62v-3.23zM432.6,200.2l2.80,1.62v3.23l-2.80,1.62l-2.80,-1.62v-3.23zM435.4,205.1l2.80,1.62v3.23l-2.80,1.62l-2.80,-1.62v-3.23zM438.2,209.9l2.80,1.62v3.23l-2.80,1.62l-2.80,-1.62v-3.23zM441.0,214.8l2.80,1.62v3.23l-2.80,1.62l-2.80,-1.62v-3.23zM175.0,219.6l2.80,1.62v3.23l-2.80,1.62l-2.80,-1.62v-3.23zM443.8,219.6l2.80,1.62v3.23l-2.80,1.62l-2.80,-1.62v-3.23zM446.6,224.5l2.80,1.62v3.23l-2.80,1.62l-2.80,-1.62v-3.23zM449.4,229.3l2.80,1.62v3.23l-2.80,1.62l-2.80,-1.62v-3.23zM250.6,234.2l2.80,1.62v3.23l-2.80,1.62l-2.80,-1.62v-3.23zM256.2,234.2l2.80,1.62v3.23l-2.80,1.62l-2.80,-1.62v-3.23zM261.8,234.2l2.80,1.62v3.23l-2.80,1.62l-2.80,-1.62v-3.23zM267.4,234.2l2.80,1.62v3.23l-2.80,1.62l-2.80,-1.62v-3.23zM452.2,234.2l2.80,1.62v3.23l-2.80,1.62l-2.80,-1.62v-3.23zM169.4,239.0l2.80,1.62v3.23l-2.80,1.62l-2.80,-1.62v-3.23zM334.6,243.9l2.80,1.62v3.23l-2.80,1.62l-2.80,-1.62v-3.23zM287.0,248.7l2.80,1.62v3.23l-2.80,1.62l-2.80,-1.62v-3.23zM455.0,248.7l2.80,1.62v3.23l-2.80,1.62l-2.80,-1.62v-3.23zM309.4,258.4l2.80,1.62v3.23l-2.80,1.62l-2.80,-1.62v-3.23zM385.0,263.3l2.80,1.62v3.23l-2.80,1.62l-2.80,-1.62v-3.23zM298.2,268.1l2.80,1.62v3.23l-2.80,1.62l-2.80,-1.62v-3.23zM301.0,273.0l2.80,1.62v3.23l-2.80,1.62l-2.80,-1.62v-3.23zM306.6,273.0l2.80,1.62v3.23l-2.80,1.62l-2.80,-1.62v-3.23zM457.8,273.0l2.80,1.62v3.23l-2.80,1.62l-2.80,-1.62v-3.23zM169.4,277.8l2.80,1.62v3.23l-2.80,1.62l-2.80,-1.62v-3.23zM242.2,277.8l2.80,1.62v3.23l-2.80,1.62l-2.80,-1.62v-3.23zM250.6,282.7l2.80,1.62v3.23l-2.80,1.62l-2.80,-1.62v-3.23zM275.8,287.5l2.80,1.62v3.23l-2.80,1.62l-2.80,-1.62v-3.23zM460.6,287.5l2.80,1.62v3.23l-2.80,1.62l-2.80,-1.62v-3.23zM172.2,292.4l2.80,1.62v3.23l-2.80,1.62l-2.80,-1.62v-3.23zM385.0,292.4l2.80,1.62v3.23l-2.80,1.62l-2.80,-1.62v-3.23zM460.6,297.2l2.80,1.62v3.23l-2.80,1.62l-2.80,-1.62v-3.23zM177.8,311.8l2.80,1.62v3.23l-2.80,1.62l-2.80,-1.62v-3.23zM457.8,311.8l2.80,1.62v3.23l-2.80,1.62l-2.80,-1.62v-3.23zM180.6,316.6l2.80,1.62v3.23l-2.80,1.62l-2.80,-1.62v-3.23zM292.6,316.6l2.80,1.62v3.23l-2.80,1.62l-2.80,-1.62v-3.23zM368.2,321.5l2.80,1.62v3.23l-2.80,1.62l-2.80,-1.62v-3.23zM186.2,326.3l2.80,1.62v3.23l-2.80,1.62l-2.80,-1.62v-3.23zM189.0,331.2l2.80,1.62v3.23l-2.80,1.62l-2.80,-1.62v-3.23zM323.4,331.2l2.80,1.62v3.23l-2.80,1.62l-2.80,-1.62v-3.23zM329.0,331.2l2.80,1.62v3.23l-2.80,1.62l-2.80,-1.62v-3.23zM334.6,331.2l2.80,1.62v3.23l-2.80,1.62l-2.80,-1.62v-3.23zM191.8,336.0l2.80,1.62v3.23l-2.80,1.62l-2.80,-1.62v-3.23zM449.4,336.0l2.80,1.62v3.23l-2.80,1.62l-2.80,-1.62v-3.23zM446.6,340.9l2.80,1.62v3.23l-2.80,1.62l-2.80,-1.62v-3.23zM205.8,350.6l2.80,1.62v3.23l-2.80,1.62l-2.80,-1.62v-3.23zM217.0,360.3l2.80,1.62v3.23l-2.80,1.62l-2.80,-1.62v-3.23zM429.8,360.3l2.80,1.62v3.23l-2.80,1.62l-2.80,-1.62v-3.23zM401.8,379.7l2.80,1.62v3.23l-2.80,1.62l-2.80,-1.62v-3.23zM387.8,384.5l2.80,1.62v3.23l-2.80,1.62l-2.80,-1.62v-3.23zM273.0,389.4l2.80,1.62v3.23l-2.80,1.62l-2.80,-1.62v-3.23zM368.2,389.4l2.80,1.62v3.23l-2.80,1.62l-2.80,-1.62v-3.23zM373.8,389.4l2.80,1.62v3.23l-2.80,1.62l-2.80,-1.62v-3.23zM298.2,394.2l2.80,1.62v3.23l-2.80,1.62l-2.80,-1.62v-3.23zM303.8,394.2l2.80,1.62v3.23l-2.80,1.62l-2.80,-1.62v-3.23zM326.2,394.2l2.80,1.62v3.23l-2.80,1.62l-2.80,-1.62v-3.23zM331.8,394.2l2.80,1.62v3.23l-2.80,1.62l-2.80,-1.62v-3.23zM337.4,394.2l2.80,1.62v3.23l-2.80,1.62l-2.80,-1.62v-3.23zM343.0,394.2l2.80,1.62v3.23l-2.80,1.62l-2.80,-1.62v-3.23z"/>
<path fill="#efc6d7" stroke="#efc6d7" stroke-width="0.5" d="M303.8,74.2l2.80,1.62v3.23l-2.80,1.62l-2.80,-1.62v-3.23zM309.4,74.2l2.80,1.62v3.23l-2.80,1.62l-2.80,-1.62v-3.23zM315.0,74.2l2.80,1.62v3.23l-2.80,1.62l-2.80,-1.62v-3.23zM320.6,74.2l2.80,1.62v3.23l-2.80,1.62l-2.80,-1.62v-3.23zM326.2,74.2l2.80,1.62v3.23l-2.80,1.62l-2.80,-1.62v-3.23zM331.8,74.2l2.80,1.62v3.23l-2.80,1.62l-2.80,-1.62v-3.23zM337.4,74.2l2.80,1.62v3.23l-2.80,1.62l-2.80,-1.62v-3.23zM343.0,74.2l2.80,1.62v3.23l-2.80,1.62l-2.80,-1.62v-3.23zM348.6,74.2l2.80,1.62v3.23l-2.80,1.62l-2.80,-1.62v-3.23zM354.2,74.2l2.80,1.62v3.23l-2.80,1.62l-2.80,-1.62v-3.23zM289.8,79.0l2.80,1.62v3.23l-2.80,1.62l-2.80,-1.62v-3.23zM295.4,79.0l2.80,1.62v3.23l-2.80,1.62l-2.80,-1.62v-3.23zM301.0,79.0l2.80,1.62v3.23l-2.80,1.62l-2.80,-1.62v-3.23zM306.6,79.0l2.80,1.62v3.23l-2.80,1.62l-2.80,-1.62v-3.23zM312.2,79.0l2.80,1.62v3.23l-2.80,1.62l-2.80,-1.62v-3.23zM317.8,79.0l2.80,1.62v3.23l-2.80,1.62l-2.80,-1.62v-3.23zM323.4,79.0l2.80,1.62v3.23l-2.80,1.62l-2.80,-1.62v-3.23zM329.0,79.0l2.80,1.62v3.23l-2.80,1.62l-2.80,-1.62v-3.23zM334.6,79.0l2.80,1.62v3.23l-2.80,1.62l-2.80,-1.62v-3.23zM340.2,79.0l2.80,1.62v3.23l-2.80,1.62l-2.80,-1.62v-3.23zM368.2,79.0l2.80,1.62v3.23l-2.80,1.62l-2.80,-1.62v-3.23zM373.8,79.0l2.80,1.62v3.23l-2.80,1.62l-2.80,-1.62v-3.23zM270.2,83.8l2.80,1.62v3.23l-2.80,1.62l-2.80,-1.62v-3.23zM354.2,83.8l2.80,1.62v3.23l-2.80,1.62l-2.80,-1.62v-3.23zM359.8,83.8l2.80,1.62v3.23l-2.80,1.62l-2.80,-1.62v-3.23zM382.2,83.8l2.80,1.62v3.23l-2.80,1.62l-2.80,-1.62v-3.23zM256.2,88.7l2.80,1.62v3.23l-2.80,1.62l-2.80,-1.62v-3.23zM368.2,88.7l2.80,1.62v3.23l-2.80,1.62l-2.80,-1.62v-3.23zM373.8,88.7l2.80,1.62v3.23l-2.80,1.62l-2.80,-1.62v-3.23zM390.6,88.7l2.80,1.62v3.23l-2.80,1.62l-2.80,-1.62v-3.23zM396.2,88.7l2.80,1.62v3.23l-2.80,1.62l-2.80,-1.62v-3.23zM242.2,93.5l2.80,1.62v3.23l-2.80,1.62l-2.80,-1.62v-3.23zM247.8,93.5l2.80,1.62v3.23l-2.80,1.62l-2.80,-1.62v-3.23zM382.2,93.5l2.80,1.62v3.23l-2.80,1.62l-2.80,-1.62v-3.23zM387.8,93.5l2.80,1.62v3.23l-2.80,1.62l-2.80,-1.62v-3.23zM399.0,93.5l2.80,1.62v3.23l-2.80,1.62l-2.80,-1.62v-3.23zM404.6,93.5l2.80,1.62v3.23l-2.80,1.62l-2.80,-1.62v-3.23zM233.8,98.4l2.80,1.62v3.23l-2.80,1.62l-2.80,-1.62v-3.23zM239.4,98.4l2.80,1.62v3.23l-2.80,1.62l-2.80,-1.62v-3.23zM245.0,98.4l2.80,1.62v3.23l-2.80,1.62l-2.80,-1.62v-3.23zM396.2,98.4l2.80,1.62v3.23l-2.80,1.62l-2.80,-1.62v-3.23zM407.4,98.4l2.80,1.62v3.23l-2.80,1.62l-2.80,-1.62v-3.23zM225.4,103.2l2.80,1.62v3.23l-2.80,1.62l-2.80,-1.62v-3.23zM231.0,103.2l2.80,1.62v3.23l-2.80,1.62l-2.80,-1.62v-3.23zM236.6,103.2l2.80,1.62v3.23l-2.80,1.62l-2.80,-1.62v-3.23zM404.6,103.2l2.80,1.62v3.23l-2.80,1.62l-2.80,-1.62v-3.23zM410.2,103.2l2.80,1.62v3.23l-2.80,1.62l-2.80,-1.62v-3.23zM415.8,103.2l2.80,1.62v3.23l-2.80,1.62l-2.80,-1.62v-3.23zM222.6,108.1l2.80,1.62v3.23l-2.80,1.62l-2.80,-1.62v-3.23zM228.2,108.1l2.80,1.62v3.23l-2.80,1.62l-2.80,-1.62v-3.23zM413.0,108.1l2.80,1.62v3.23l-2.80,1.62l-2.80,-1.62v-3.23zM418.6,108.1l2.80,1.62v3.23l-2.80,1.62l-2.80,-1.62v-3.23zM214.2,112.9l2.80,1.62v3.23l-2.80,1.62l-2.80,-1.62v-3.23zM219.8,112.9l2.80,1.62v3.23l-2.80,1.62l-2.80,-1.62v-3.23zM421.4,112.9l2.80,1.62v3.23l-2.80,1.62l-2.80,-1.62v-3.23zM427.0,112.9l2.80,1.62v3.23l-2.80,1.62l-2.80,-1.62v-3.23zM211.4,117.8l2.80,1.62v3.23l-2.80,1.62l-2.80,-1.62v-3.23zM217.0,117.8l2.80,1.62v3.23l-2.80,1.62l-2.80,-1.62v-3.23zM429.8,117.8l2.80,1.62v3.23l-2.80,1.62l-2.80,-1.62v-3.23zM203.0,122.6l2.80,1.62v3.23l-2.80,1.62l-2.80,-1.62v-3.23zM208.6,122.6l2.80,1.62v3.23l-2.80,1.62l-2.80,-1.62v-3.23zM214.2,122.6l2.80,1.62v3.23l-2.80,1.62l-2.80,-1.62v-3.23zM200.2,127.5l2.80,1.62v3.23l-2.80,1.62l-2.80,-1.62v-3.23zM205.8,127.5l2.80,1.62v3.23l-2.80,1.62l-2.80,-1.62v-3.23zM312.2,127.5l2.80,1.62v3.23l-2.80,1.62l-2.80,-1.62v-3.23zM334.6,127.5l2.80,1.62v3.23l-2.80,1.62l-2.80,-1.62v-3.23zM340.2,127.5l2.80,1.62v3.23l-2.80,1.62l-2.80,-1.62v-3.23zM197.4,132.3l2.80,1.62v3.23l-2.80,1.62l-2.80,-1.62v-3.23zM203.0,132.3l2.80,1.62v3.23l-2.80,1.62l-2.80,-1.62v-3.23zM194.6,137.2l2.80,1.62v3.23l-2.80,1.62l-2.80,-1.62v-3.23zM200.2,137.2l2.80,1.62v3.23l-2.80,1.62l-2.80,-1.62v-3.23zM295.4,137.2l2.80,1.62v3.23l-2.80,1.62l-2.80,-1.62v-3.23zM368.2,137.2l2.80,1.62v3.23l-2.80,1.62l-2.80,-1.62v-3.23zM191.8,142.0l2.80,1.62v3.23l-2.80,1.62l-2.80,-1.62v-3.23zM189.0,146.9l2.80,1.62v3.23l-2.80,1.62l-2.80,-1.62v-3.23zM289.8,146.9l2.80,1.62v3.23l-2.80,1.62l-2.80,-1.62v-3.23zM385.0,146.9l2.80,1.62v3.23l-2.80,1.62l-2.80,-1.62v-3.23zM186.2,151.7l2.80,1.62v3.23l-2.80,1.62l-2.80,-1.62v-3.23zM393.4,151.7l2.80,1.62v3.23l-2.80,1.62l-2.80,-1.62v-3.23zM183.4,156.6l2.80,1.62v3.23l-2.80,1.62l-2.80,-1.62v-3.23zM404.6,161.4l2.80,1.62v3.23l-2.80,1.62l-2.80,-1.62v-3.23zM301.0,166.3l2.80,1.62v3.23l-2.80,1.62l-2.80,-1.62v-3.23zM407.4,166.3l2.80,1.62v3.23l-2.80,1.62l-2.80,-1.62v-3.23zM410.2,171.1l2.80,1.62v3.23l-2.80,1.62l-2.80,-1.62v-3.23zM413.0,176.0l2.80,1.62v3.23l-2.80,1.62l-2.80,-1.62v-3.23zM287.0,180.8l2.80,1.62v3.23l-2.80,1.62l-2.80,-1.62v-3.23zM326.2,180.8l2.80,1.62v3.23l-2.80,1.62l-2.80,-1.62v-3.23zM415.8,180.8l2.80,1.62v3.23l-2.80,1.62l-2.80,-1.62v-3.23zM205.8,185.7l2.80,1.62v3.23l-2.80,1.62l-2.80,-1.62v-3.23zM334.6,185.7l2.80,1.62v3.23l-2.80,1.62l-2.80,-1.62v-3.23zM315.0,190.5l2.80,1.62v3.23l-2.80,1.62l-2.80,-1.62v-3.23zM354.2,190.5l2.80,1.62v3.23l-2.80,1.62l-2.80,-1.62v-3.23zM362.6,195.4l2.80,1.62v3.23l-2.80,1.62l-2.80,-1.62v-3.23zM186.2,200.2l2.80,1.62v3.23l-2.80,1.62l-2.80,-1.62v-3.23zM337.4,200.2l2.80,1.62v3.23l-2.80,1.62l-2.80,-1.62v-3.23zM180.6,209.9l2.80,1.62v3.23l-2.80,1.62l-2.80,-1.62v-3.23zM177.8,214.8l2.80,1.62v3.23l-2.80,1.62l-2.80,-1.62v-3.23zM172.2,234.2l2.80,1.62v3.23l-2.80,1.62l-2.80,-1.62v-3.23zM281.4,239.0l2.80,1.62v3.23l-2.80,1.62l-2.80,-1.62v-3.23zM169.4,248.7l2.80,1.62v3.23l-2.80,1.62l-2.80,-1.62v-3.23zM315.0,248.7l2.80,1.62v3.23l-2.80,1.62l-2.80,-1.62v-3.23zM169.4,258.4l2.80,1.62v3.23l-2.80,1.62l-2.80,-1.62v-3.23zM231.0,258.4l2.80,1.62v3.23l-2.80,1.62l-2.80,-1.62v-3.23zM455.0,258.4l2.80,1.62v3.23l-2.80,1.62l-2.80,-1.62v-3.23zM295.4,263.3l2.80,1.62v3.23l-2.80,1.62l-2.80,-1.62v-3.23zM169.4,268.1l2.80,1.62v3.23l-2.80,1.62l-2.80,-1.62v-3.23zM303.8,268.1l2.80,1.62v3.23l-2.80,1.62l-2.80,-1.62v-3.23zM455.0,268.1l2.80,1.62v3.23l-2.80,1.62l-2.80,-1.62v-3.23zM455.0,277.8l2.80,1.62v3.23l-2.80,1.62l-2.80,-1.62v-3.23zM172.2,282.7l2.80,1.62v3.23l-2.80,1.62l-2.80,-1.62v-3.23zM457.8,282.7l2.80,1.62v3.23l-2.80,1.62l-2.80,-1.62v-3.23zM455.0,287.5l2.80,1.62v3.23l-2.80,1.62l-2.80,-1.62v-3.23zM457.8,292.4l2.80,1.62v3.23l-2.80,1.62l-2.80,-1.62v-3.23zM175.0,297.2l2.80,1.62v3.23l-2.80,1.62l-2.80,-1.62v-3.23zM455.0,297.2l2.80,1.62v3.23l-2.80,1.62l-2.80,-1.62v-3.23zM452.2,302.1l2.80,1.62v3.23l-2.80,1.62l-2.80,-1.62v-3.23zM457.8,302.1l2.80,1.62v3.23l-2.80,1.62l-2.80,-1.62v-3.23zM449.4,306.9l2.80,1.62v3.23l-2.80,1.62l-2.80,-1.62v-3.23zM455.0,306.9l2.80,1.62v3.23l-2.80,1.62l-2.80,-1.62v-3.23zM452.2,311.8l2.80,1.62v3.23l-2.80,1.62l-2.80,-1.62v-3.23zM449.4,316.6l2.80,1.62v3.23l-2.80,1.62l-2.80,-1.62v-3.23zM455.0,316.6l2.80,1.62v3.23l-2.80,1.62l-2.80,-1.62v-3.23zM183.4,321.5l2.80,1.62v3.23l-2.80,1.62l-2.80,-1.62v-3.23zM446.6,321.5l2.80,1.62v3.23l-2.80,1.62l-2.80,-1.62v-3.23zM452.2,321.5l2.80,1.62v3.23l-2.80,1.62l-2.80,-1.62v-3.23zM421.4,326.3l2.80,1.62v3.23l-2.80,1.62l-2.80,-1.62v-3.23zM443.8,326.3l2.80,1.62v3.23l-2.80,1.62l-2.80,-1.62v-3.23zM449.4,326.3l2.80,1.62v3.23l-2.80,1.62l-2.80,-1.62v-3.23zM317.8,331.2l2.80,1.62v3.23l-2.80,1.62l-2.80,-1.62v-3.23zM340.2,331.2l2.80,1.62v3.23l-2.80,1.62l-2.80,-1.62v-3.23zM418.6,331.2l2.80,1.62v3.23l-2.80,1.62l-2.80,-1.62v-3.23zM441.0,331.2l2.80,1.62v3.23l-2.80,1.62l-2.80,-1.62v-3.23zM446.6,331.2l2.80,1.62v3.23l-2.80,1.62l-2.80,-1.62v-3.23zM438.2,336.0l2.80,1.62v3.23l-2.80,1.62l-2.80,-1.62v-3.23zM443.8,336.0l2.80,1.62v3.23l-2.80,1.62l-2.80,-1.62v-3.23zM435.4,340.9l2.80,1.62v3.23l-2.80,1.62l-2.80,-1.62v-3.23zM441.0,340.9l2.80,1.62v3.23l-2.80,1.62l-2.80,-1.62v-3.23zM203.0,345.7l2.80,1.62v3.23l-2.80,1.62l-2.80,-1.62v-3.23zM432.6,345.7l2.80,1.62v3.23l-2.80,1.62l-2.80,-1.62v-3.23zM438.2,345.7l2.80,1.62v3.23l-2.80,1.62l-2.80,-1.62v-3.23zM429.8,350.6l2.80,1.62v3.23l-2.80,1.62l-2.80,-1.62v-3.23zM435.4,350.6l2.80,1.62v3.23l-2.80,1.62l-2.80,-1.62v-3.23zM427.0,355.4l2.80,1.62v3.23l-2.80,1.62l-2.80,-1.62v-3.23zM432.6,355.4l2.80,1.62v3.23l-2.80,1.62l-2.80,-1.62v-3.23zM424.2,360.3l2.80,1.62v3.23l-2.80,1.62l-2.80,-1.62v-3.23zM225.4,365.1l2.80,1.62v3.23l-2.80,1.62l-2.80,-1.62v-3.23zM415.8,365.1l2.80,1.62v3.23l-2.80,1.62l-2.80,-1.62v-3.23zM421.4,365.1l2.80,1.62v3.23l-2.80,1.62l-2.80,-1.62v-3.23zM413.0,370.0l2.80,1.62v3.23l-2.80,1.62l-2.80,-1.62v-3.23zM242.2,374.8l2.80,1.62v3.23l-2.80,1.62l-2.80,-1.62v-3.23zM404.6,374.8l2.80,1.62v3.23l-2.80,1.62l-2.80,-1.62v-3.23zM410.2,374.8l2.80,1.62v3.23l-2.80,1.62l-2.80,-1.62v-3.23zM250.6,379.7l2.80,1.62v3.23l-2.80,1.62l-2.80,-1.62v-3.23zM390.6,379.7l2.80,1.62v3.23l-2.80,1.62l-2.80,-1.62v-3.23zM396.2,379.7l2.80,1.62v3.23l-2.80,1.62l-2.80,-1.62v-3.23zM264.6,384.5l2.80,1.62v3.23l-2.80,1.62l-2.80,-1.62v-3.23zM376.6,384.5l2.80,1.62v3.23l-2.80,1.62l-2.80,-1.62v-3.23zM382.2,384.5l2.80,1.62v3.23l-2.80,1.62l-2.80,-1.62v-3.23zM278.6,389.4l2.80,1.62v3.23l-2.80,1.62l-2.80,-1.62v-3.23zM357.0,389.4l2.80,1.62v3.23l-2.80,1.62l-2.80,-1.62v-3.23zM362.6,389.4l2.80,1.62v3.23l-2.80,1.62l-2.80,-1.62v-3.23zM309.4,394.2l2.80,1.62v3.23l-2.80,1.62l-2.80,-1.62v-3.23zM315.0,394.2l2.80,1.62v3.23l-2.80,1.62l-2.80,-1.62v-3.23zM320.6,394.2l2.80,1.62v3.23l-2.80,1.62l-2.80,-1.62v-3.23z"/>
<path fill="#eec0d9" stroke="#eec0d9" stroke-width="0.5" d="M345.8,79.0l2.80,1.62v3.23l-2.80,1.62l-2.80,-1.62v-3.23zM351.4,79.0l2.80,1.62v3.23l-2.80,1.62l-2.80,-1.62v-3.23zM357.0,79.0l2.80,1.62v3.23l-2.80,1.62l-2.80,-1.62v-3.23zM362.6,79.0l2.80,1.62v3.23l-2.80,1.62l-2.80,-1.62v-3.23zM365.4,83.8l2.80,1.62v3.23l-2.80,1.62l-2.80,-1.62v-3.23zM371.0,83.8l2.80,1.62v3.23l-2.80,1.62l-2.80,-1.62v-3.23zM376.6,83.8l2.80,1.62v3.23l-2.80,1.62l-2.80,-1.62v-3.23zM379.4,88.7l2.80,1.62v3.23l-2.80,1.62l-2.80,-1.62v-3.23zM385.0,88.7l2.80,1.62v3.23l-2.80,1.62l-2.80,-1.62v-3.23zM393.4,93.5l2.80,1.62v3.23l-2.80,1.62l-2.80,-1.62v-3.23zM401.8,98.4l2.80,1.62v3.23l-2.80,1.62l-2.80,-1.62v-3.23zM317.8,127.5l2.80,1.62v3.23l-2.80,1.62l-2.80,-1.62v-3.23zM323.4,127.5l2.80,1.62v3.23l-2.80,1.62l-2.80,-1.62v-3.23zM329.0,127.5l2.80,1.62v3.23l-2.80,1.62l-2.80,-1.62v-3.23zM303.8,132.3l2.80,1.62v3.23l-2.80,1.62l-2.80,-1.62v-3.23zM348.6,132.3l2.80,1.62v3.23l-2.80,1.62l-2.80,-1.62v-3.23zM354.2,132.3l2.80,1.62v3.23l-2.80,1.62l-2.80,-1.62v-3.23zM292.6,142.0l2.80,1.62v3.23l-2.80,1.62l-2.80,-1.62v-3.23zM376.6,142.0l2.80,1.62v3.23l-2.80,1.62l-2.80,-1.62v-3.23zM292.6,151.7l2.80,1.62v3.23l-2.80,1.62l-2.80,-1.62v-3.23zM295.4,156.6l2.80,1.62v3.23l-2.80,1.62l-2.80,-1.62v-3.23zM396.2,156.6l2.80,1.62v3.23l-2.80,1.62l-2.80,-1.62v-3.23zM298.2,161.4l2.80,1.62v3.23l-2.80,1.62l-2.80,-1.62v-3.23zM309.4,171.1l2.80,1.62v3.23l-2.80,1.62l-2.80,-1.62v-3.23zM317.8,176.0l2.80,1.62v3.23l-2.80,1.62l-2.80,-1.62v-3.23zM219.8,180.8l2.80,1.62v3.23l-2.80,1.62l-2.80,-1.62v-3.23zM301.0,185.7l2.80,1.62v3.23l-2.80,1.62l-2.80,-1.62v-3.23zM340.2,185.7l2.80,1.62v3.23l-2.80,1.62l-2.80,-1.62v-3.23zM418.6,185.7l2.80,1.62v3.23l-2.80,1.62l-2.80,-1.62v-3.23zM197.4,190.5l2.80,1.62v3.23l-2.80,1.62l-2.80,-1.62v-3.23zM359.8,190.5l2.80,1.62v3.23l-2.80,1.62l-2.80,-1.62v-3.23zM421.4,190.5l2.80,1.62v3.23l-2.80,1.62l-2.80,-1.62v-3.23zM323.4,195.4l2.80,1.62v3.23l-2.80,1.62l-2.80,-1.62v-3.23zM368.2,195.4l2.80,1.62v3.23l-2.80,1.62l-2.80,-1.62v-3.23zM424.2,195.4l2.80,1.62v3.23l-2.80,1.62l-2.80,-1.62v-3.23zM365.4,200.2l2.80,1.62v3.23l-2.80,1.62l-2.80,-1.62v-3.23zM183.4,205.1l2.80,1.62v3.23l-2.80,1.62l-2.80,-1.62v-3.23zM351.4,205.1l2.80,1.62v3.23l-2.80,1.62l-2.80,-1.62v-3.23zM175.0,229.3l2.80,1.62v3.23l-2.80,1.62l-2.80,-1.62v-3.23zM172.2,243.9l2.80,1.62v3.23l-2.80,1.62l-2.80,-1.62v-3.23zM373.8,243.9l2.80,1.62v3.23l-2.80,1.62l-2.80,-1.62v-3.23zM452.2,243.9l2.80,1.62v3.23l-2.80,1.62l-2.80,-1.62v-3.23zM289.8,253.6l2.80,1.62v3.23l-2.80,1.62l-2.80,-1.62v-3.23zM292.6,258.4l2.80,1.62v3.23l-2.80,1.62l-2.80,-1.62v-3.23zM172.2,273.0l2.80,1.62v3.23l-2.80,1.62l-2.80,-1.62v-3.23zM387.8,277.8l2.80,1.62v3.23l-2.80,1.62l-2.80,-1.62v-3.23zM452.2,282.7l2.80,1.62v3.23l-2.80,1.62l-2.80,-1.62v-3.23zM452.2,292.4l2.80,1.62v3.23l-2.80,1.62l-2.80,-1.62v-3.23zM449.4,297.2l2.80,1.62v3.23l-2.80,1.62l-2.80,-1.62v-3.23zM177.8,302.1l2.80,1.62v3.23l-2.80,1.62l-2.80,-1.62v-3.23zM446.6,311.8l2.80,1.62v3.23l-2.80,1.62l-2.80,-1.62v-3.23zM443.8,316.6l2.80,1.62v3.23l-2.80,1.62l-2.80,-1.62v-3.23zM441.0,321.5l2.80,1.62v3.23l-2.80,1.62l-2.80,-1.62v-3.23zM438.2,326.3l2.80,1.62v3.23l-2.80,1.62l-2.80,-1.62v-3.23zM435.4,331.2l2.80,1.62v3.23l-2.80,1.62l-2.80,-1.62v-3.23zM432.6,336.0l2.80,1.62v3.23l-2.80,1.62l-2.80,-1.62v-3.23zM200.2,340.9l2.80,1.62v3.23l-2.80,1.62l-2.80,-1.62v-3.23zM429.8,340.9l2.80,1.62v3.23l-2.80,1.62l-2.80,-1.62v-3.23zM427.0,345.7l2.80,1.62v3.23l-2.80,1.62l-2.80,-1.62v-3.23zM424.2,350.6l2.80,1.62v3.23l-2.80,1.62l-2.80,-1.62v-3.23zM214.2,355.4l2.80,1.62v3.23l-2.80,1.62l-2.80,-1.62v-3.23zM421.4,355.4l2.80,1.62v3.23l-2.80,1.62l-2.80,-1.62v-3.23zM418.6,360.3l2.80,1.62v3.23l-2.80,1.62l-2.80,-1.62v-3.23zM410.2,365.1l2.80,1.62v3.23l-2.80,1.62l-2.80,-1.62v-3.23zM233.8,370.0l2.80,1.62v3.23l-2.80,1.62l-2.80,-1.62v-3.23zM407.4,370.0l2.80,1.62v3.23l-2.80,1.62l-2.80,-1.62v-3.23zM399.0,374.8l2.80,1.62v3.23l-2.80,1.62l-2.80,-1.62v-3.23zM256.2,379.7l2.80,1.62v3.23l-2.80,1.62l-2.80,-1.62v-3.23zM385.0,379.7l2.80,1.62v3.23l-2.80,1.62l-2.80,-1.62v-3.23zM270.2,384.5l2.80,1.62v3.23l-2.80,1.62l-2.80,-1.62v-3.23zM371.0,384.5l2.80,1.62v3.23l-2.80,1.62l-2.80,-1.62v-3.23zM284.2,389.4l2.80,1.62v3.23l-2.80,1.62l-2.80,-1.62v-3.23zM289.8,389.4l2.80,1.62v3.23l-2.80,1.62l-2.80,-1.62v-3.23zM345.8,389.4l2.80,1.62v3.23l-2.80,1.62l-2.80,-1.62v-3.23zM351.4,389.4l2.80,1.62v3.23l-2.80,1.62l-2.80,-1.62v-3.23z"/>
<path fill="#ebb8db" stroke="#ebb8db" stroke-width="0.5" d="M309.4,132.3l2.80,1.62v3.23l-2.80,1.62l-2.80,-1.62v-3.23zM337.4,132.3l2.80,1.62v3.23l-2.80,1.62l-2.80,-1.62v-3.23zM343.0,132.3l2.80,1.62v3.23l-2.80,1.62l-2.80,-1.62v-3.23zM301.0,137.2l2.80,1.62v3.23l-2.80,1.62l-2.80,-1.62v-3.23zM357.0,137.2l2.80,1.62v3.23l-2.80,1.62l-2.80,-1.62v-3.23zM362.6,137.2l2.80,1.62v3.23l-2.80,1.62l-2.80,-1.62v-3.23zM371.0,142.0l2.80,1.62v3.23l-2.80,1.62l-2.80,-1.62v-3.23zM295.4,146.9l2.80,1.62v3.23l-2.80,1.62l-2.80,-1.62v-3.23zM379.4,146.9l2.80,1.62v3.23l-2.80,1.62l-2.80,-1.62v-3.23zM387.8,151.7l2.80,1.62v3.23l-2.80,1.62l-2.80,-1.62v-3.23zM399.0,161.4l2.80,1.62v3.23l-2.80,1.62l-2.80,-1.62v-3.23zM306.6,166.3l2.80,1.62v3.23l-2.80,1.62l-2.80,-1.62v-3.23zM401.8,166.3l2.80,1.62v3.23l-2.80,1.62l-2.80,-1.62v-3.23zM315.0,171.1l2.80,1.62v3.23l-2.80,1.62l-2.80,-1.62v-3.23zM404.6,171.1l2.80,1.62v3.23l-2.80,1.62l-2.80,-1.62v-3.23zM323.4,176.0l2.80,1.62v3.23l-2.80,1.62l-2.80,-1.62v-3.23zM407.4,176.0l2.80,1.62v3.23l-2.80,1.62l-2.80,-1.62v-3.23zM225.4,180.8l2.80,1.62v3.23l-2.80,1.62l-2.80,-1.62v-3.23zM281.4,180.8l2.80,1.62v3.23l-2.80,1.62l-2.80,-1.62v-3.23zM331.8,180.8l2.80,1.62v3.23l-2.80,1.62l-2.80,-1.62v-3.23zM337.4,180.8l2.80,1.62v3.23l-2.80,1.62l-2.80,-1.62v-3.23zM345.8,185.7l2.80,1.62v3.23l-2.80,1.62l-2.80,-1.62v-3.23zM351.4,185.7l2.80,1.62v3.23l-2.80,1.62l-2.80,-1.62v-3.23zM365.4,190.5l2.80,1.62v3.23l-2.80,1.62l-2.80,-1.62v-3.23zM371.0,190.5l2.80,1.62v3.23l-2.80,1.62l-2.80,-1.62v-3.23zM373.8,195.4l2.80,1.62v3.23l-2.80,1.62l-2.80,-1.62v-3.23zM379.4,195.4l2.80,1.62v3.23l-2.80,1.62l-2.80,-1.62v-3.23zM331.8,200.2l2.80,1.62v3.23l-2.80,1.62l-2.80,-1.62v-3.23zM427.0,200.2l2.80,1.62v3.23l-2.80,1.62l-2.80,-1.62v-3.23zM345.8,205.1l2.80,1.62v3.23l-2.80,1.62l-2.80,-1.62v-3.23zM357.0,205.1l2.80,1.62v3.23l-2.80,1.62l-2.80,-1.62v-3.23zM429.8,205.1l2.80,1.62v3.23l-2.80,1.62l-2.80,-1.62v-3.23zM432.6,209.9l2.80,1.62v3.23l-2.80,1.62l-2.80,-1.62v-3.23zM435.4,214.8l2.80,1.62v3.23l-2.80,1.62l-2.80,-1.62v-3.23zM177.8,224.5l2.80,1.62v3.23l-2.80,1.62l-2.80,-1.62v-3.23zM441.0,224.5l2.80,1.62v3.23l-2.80,1.62l-2.80,-1.62v-3.23zM443.8,229.3l2.80,1.62v3.23l-2.80,1.62l-2.80,-1.62v-3.23zM446.6,234.2l2.80,1.62v3.23l-2.80,1.62l-2.80,-1.62v-3.23zM449.4,239.0l2.80,1.62v3.23l-2.80,1.62l-2.80,-1.62v-3.23zM172.2,253.6l2.80,1.62v3.23l-2.80,1.62l-2.80,-1.62v-3.23zM452.2,253.6l2.80,1.62v3.23l-2.80,1.62l-2.80,-1.62v-3.23zM172.2,263.3l2.80,1.62v3.23l-2.80,1.62l-2.80,-1.62v-3.23zM301.0,263.3l2.80,1.62v3.23l-2.80,1.62l-2.80,-1.62v-3.23zM452.2,263.3l2.80,1.62v3.23l-2.80,1.62l-2.80,-1.62v-3.23zM452.2,273.0l2.80,1.62v3.23l-2.80,1.62l-2.80,-1.62v-3.23zM175.0,287.5l2.80,1.62v3.23l-2.80,1.62l-2.80,-1.62v-3.23zM449.4,287.5l2.80,1.62v3.23l-2.80,1.62l-2.80,-1.62v-3.23zM446.6,302.1l2.80,1.62v3.23l-2.80,1.62l-2.80,-1.62v-3.23zM180.6,306.9l2.80,1.62v3.23l-2.80,1.62l-2.80,-1.62v-3.23zM443.8,306.9l2.80,1.62v3.23l-2.80,1.62l-2.80,-1.62v-3.23zM183.4,311.8l2.80,1.62v3.23l-2.80,1.62l-2.80,-1.62v-3.23zM441.0,311.8l2.80,1.62v3.23l-2.80,1.62l-2.80,-1.62v-3.23zM424.2,321.5l2.80,1.62v3.23l-2.80,1.62l-2.80,-1.62v-3.23zM194.6,331.2l2.80,1.62v3.23l-2.80,1.62l-2.80,-1.62v-3.23zM197.4,336.0l2.80,1.62v3.23l-2.80,1.62l-2.80,-1.62v-3.23zM211.4,350.6l2.80,1.62v3.23l-2.80,1.62l-2.80,-1.62v-3.23zM222.6,360.3l2.80,1.62v3.23l-2.80,1.62l-2.80,-1.62v-3.23zM413.0,360.3l2.80,1.62v3.23l-2.80,1.62l-2.80,-1.62v-3.23zM231.0,365.1l2.80,1.62v3.23l-2.80,1.62l-2.80,-1.62v-3.23zM239.4,370.0l2.80,1.62v3.23l-2.80,1.62l-2.80,-1.62v-3.23zM401.8,370.0l2.80,1.62v3.23l-2.80,1.62l-2.80,-1.62v-3.23zM247.8,374.8l2.80,1.62v3.23l-2.80,1.62l-2.80,-1.62v-3.23zM393.4,374.8l2.80,1.62v3.23l-2.80,1.62l-2.80,-1.62v-3.23zM261.8,379.7l2.80,1.62v3.23l-2.80,1.62l-2.80,-1.62v-3.23zM379.4,379.7l2.80,1.62v3.23l-2.80,1.62l-2.80,-1.62v-3.23zM275.8,384.5l2.80,1.62v3.23l-2.80,1.62l-2.80,-1.62v-3.23zM359.8,384.5l2.80,1.62v3.23l-2.80,1.62l-2.80,-1.62v-3.23zM365.4,384.5l2.80,1.62v3.23l-2.80,1.62l-2.80,-1.62v-3.23zM295.4,389.4l2.80,1.62v3.23l-2.80,1.62l-2.80,-1.62v-3.23zM334.6,389.4l2.80,1.62v3.23l-2.80,1.62l-2.80,-1.62v-3.23zM340.2,389.4l2.80,1.62v3.23l-2.80,1.62l-2.80,-1.62v-3.23z"/>
<path fill="#e9b0de" stroke="#e9b0de" stroke-width="0.5" d="M315.0,132.3l2.80,1.62v3.23l-2.80,1.62l-2.80,-1.62v-3.23zM320.6,132.3l2.80,1.62v3.23l-2.80,1.62l-2.80,-1.62v-3.23zM326.2,132.3l2.80,1.62v3.23l-2.80,1.62l-2.80,-1.62v-3.23zM331.8,132.3l2.80,1.62v3.23l-2.80,1.62l-2.80,-1.62v-3.23zM306.6,137.2l2.80,1.62v3.23l-2.80,1.62l-2.80,-1.62v-3.23zM340.2,137.2l2.80,1.62v3.23l-2.80,1.62l-2.80,-1.62v-3.23zM345.8,137.2l2.80,1.62v3.23l-2.80,1.62l-2.80,-1.62v-3.23zM351.4,137.2l2.80,1.62v3.23l-2.80,1.62l-2.80,-1.62v-3.23zM298.2,142.0l2.80,1.62v3.23l-2.80,1.62l-2.80,-1.62v-3.23zM359.8,142.0l2.80,1.62v3.23l-2.80,1.62l-2.80,-1.62v-3.23zM365.4,142.0l2.80,1.62v3.23l-2.80,1.62l-2.80,-1.62v-3.23zM368.2,146.9l2.80,1.62v3.23l-2.80,1.62l-2.80,-1.62v-3.23zM373.8,146.9l2.80,1.62v3.23l-2.80,1.62l-2.80,-1.62v-3.23zM298.2,151.7l2.80,1.62v3.23l-2.80,1.62l-2.80,-1.62v-3.23zM376.6,151.7l2.80,1.62v3.23l-2.80,1.62l-2.80,-1.62v-3.23zM382.2,151.7l2.80,1.62v3.23l-2.80,1.62l-2.80,-1.62v-3.23zM301.0,156.6l2.80,1.62v3.23l-2.80,1.62l-2.80,-1.62v-3.23zM385.0,156.6l2.80,1.62v3.23l-2.80,1.62l-2.80,-1.62v-3.23zM390.6,156.6l2.80,1.62v3.23l-2.80,1.62l-2.80,-1.62v-3.23zM303.8,161.4l2.80,1.62v3.23l-2.80,1.62l-2.80,-1.62v-3.23zM393.4,161.4l2.80,1.62v3.23l-2.80,1.62l-2.80,-1.62v-3.23zM312.2,166.3l2.80,1.62v3.23l-2.80,1.62l-2.80,-1.62v-3.23zM396.2,166.3l2.80,1.62v3.23l-2.80,1.62l-2.80,-1.62v-3.23zM320.6,171.1l2.80,1.62v3.23l-2.80,1.62l-2.80,-1.62v-3.23zM329.0,176.0l2.80,1.62v3.23l-2.80,1.62l-2.80,-1.62v-3.23zM334.6,176.0l2.80,1.62v3.23l-2.80,1.62l-2.80,-1.62v-3.23zM231.0,180.8l2.80,1.62v3.23l-2.80,1.62l-2.80,-1.62v-3.23zM275.8,180.8l2.80,1.62v3.23l-2.80,1.62l-2.80,-1.62v-3.23zM343.0,180.8l2.80,1.62v3.23l-2.80,1.62l-2.80,-1.62v-3.23zM348.6,180.8l2.80,1.62v3.23l-2.80,1.62l-2.80,-1.62v-3.23zM410.2,180.8l2.80,1.62v3.23l-2.80,1.62l-2.80,-1.62v-3.23zM211.4,185.7l2.80,1.62v3.23l-2.80,1.62l-2.80,-1.62v-3.23zM295.4,185.7l2.80,1.62v3.23l-2.80,1.62l-2.80,-1.62v-3.23zM357.0,185.7l2.80,1.62v3.23l-2.80,1.62l-2.80,-1.62v-3.23zM362.6,185.7l2.80,1.62v3.23l-2.80,1.62l-2.80,-1.62v-3.23zM368.2,185.7l2.80,1.62v3.23l-2.80,1.62l-2.80,-1.62v-3.23zM413.0,185.7l2.80,1.62v3.23l-2.80,1.62l-2.80,-1.62v-3.23zM309.4,190.5l2.80,1.62v3.23l-2.80,1.62l-2.80,-1.62v-3.23zM376.6,190.5l2.80,1.62v3.23l-2.80,1.62l-2.80,-1.62v-3.23zM382.2,190.5l2.80,1.62v3.23l-2.80,1.62l-2.80,-1.62v-3.23zM415.8,190.5l2.80,1.62v3.23l-2.80,1.62l-2.80,-1.62v-3.23zM194.6,195.4l2.80,1.62v3.23l-2.80,1.62l-2.80,-1.62v-3.23zM385.0,195.4l2.80,1.62v3.23l-2.80,1.62l-2.80,-1.62v-3.23zM390.6,195.4l2.80,1.62v3.23l-2.80,1.62l-2.80,-1.62v-3.23zM418.6,195.4l2.80,1.62v3.23l-2.80,1.62l-2.80,-1.62v-3.23zM421.4,200.2l2.80,1.62v3.23l-2.80,1.62l-2.80,-1.62v-3.23zM180.6,219.6l2.80,1.62v3.23l-2.80,1.62l-2.80,-1.62v-3.23zM438.2,219.6l2.80,1.62v3.23l-2.80,1.62l-2.80,-1.62v-3.23zM177.8,234.2l2.80,1.62v3.23l-2.80,1.62l-2.80,-1.62v-3.23zM175.0,239.0l2.80,1.62v3.23l-2.80,1.62l-2.80,-1.62v-3.23zM446.6,243.9l2.80,1.62v3.23l-2.80,1.62l-2.80,-1.62v-3.23zM175.0,248.7l2.80,1.62v3.23l-2.80,1.62l-2.80,-1.62v-3.23zM449.4,248.7l2.80,1.62v3.23l-2.80,1.62l-2.80,-1.62v-3.23zM175.0,258.4l2.80,1.62v3.23l-2.80,1.62l-2.80,-1.62v-3.23zM449.4,258.4l2.80,1.62v3.23l-2.80,1.62l-2.80,-1.62v-3.23zM175.0,268.1l2.80,1.62v3.23l-2.80,1.62l-2.80,-1.62v-3.23zM449.4,268.1l2.80,1.62v3.23l-2.80,1.62l-2.80,-1.62v-3.23zM175.0,277.8l2.80,1.62v3.23l-2.80,1.62l-2.80,-1.62v-3.23zM449.4,277.8l2.80,1.62v3.23l-2.80,1.62l-2.80,-1.62v-3.23zM446.6,282.7l2.80,1.62v3.23l-2.80,1.62l-2.80,-1.62v-3.23zM177.8,292.4l2.80,1.62v3.23l-2.80,1.62l-2.80,-1.62v-3.23zM446.6,292.4l2.80,1.62v3.23l-2.80,1.62l-2.80,-1.62v-3.23zM180.6,297.2l2.80,1.62v3.23l-2.80,1.62l-2.80,-1.62v-3.23zM443.8,297.2l2.80,1.62v3.23l-2.80,1.62l-2.80,-1.62v-3.23zM441.0,302.1l2.80,1.62v3.23l-2.80,1.62l-2.80,-1.62v-3.23zM186.2,316.6l2.80,1.62v3.23l-2.80,1.62l-2.80,-1.62v-3.23zM421.4,316.6l2.80,1.62v3.23l-2.80,1.62l-2.80,-1.62v-3.23zM427.0,316.6l2.80,1.62v3.23l-2.80,1.62l-2.80,-1.62v-3.23zM438.2,316.6l2.80,1.62v3.23l-2.80,1.62l-2.80,-1.62v-3.23zM189.0,321.5l2.80,1.62v3.23l-2.80,1.62l-2.80,-1.62v-3.23zM418.6,321.5l2.80,1.62v3.23l-2.80,1.62l-2.80,-1.62v-3.23zM435.4,321.5l2.80,1.62v3.23l-2.80,1.62l-2.80,-1.62v-3.23zM191.8,326.3l2.80,1.62v3.23l-2.80,1.62l-2.80,-1.62v-3.23zM415.8,326.3l2.80,1.62v3.23l-2.80,1.62l-2.80,-1.62v-3.23zM427.0,326.3l2.80,1.62v3.23l-2.80,1.62l-2.80,-1.62v-3.23zM432.6,326.3l2.80,1.62v3.23l-2.80,1.62l-2.80,-1.62v-3.23zM424.2,331.2l2.80,1.62v3.23l-2.80,1.62l-2.80,-1.62v-3.23zM429.8,331.2l2.80,1.62v3.23l-2.80,1.62l-2.80,-1.62v-3.23zM427.0,336.0l2.80,1.62v3.23l-2.80,1.62l-2.80,-1.62v-3.23zM205.8,340.9l2.80,1.62v3.23l-2.80,1.62l-2.80,-1.62v-3.23zM208.6,345.7l2.80,1.62v3.23l-2.80,1.62l-2.80,-1.62v-3.23zM219.8,355.4l2.80,1.62v3.23l-2.80,1.62l-2.80,-1.62v-3.23zM415.8,355.4l2.80,1.62v3.23l-2.80,1.62l-2.80,-1.62v-3.23zM228.2,360.3l2.80,1.62v3.23l-2.80,1.62l-2.80,-1.62v-3.23zM404.6,365.1l2.80,1.62v3.23l-2.80,1.62l-2.80,-1.62v-3.23zM396.2,370.0l2.80,1.62v3.23l-2.80,1.62l-2.80,-1.62v-3.23zM253.4,374.8l2.80,1.62v3.23l-2.80,1.62l-2.80,-1.62v-3.23zM387.8,374.8l2.80,1.62v3.23l-2.80,1.62l-2.80,-1.62v-3.23zM368.2,379.7l2.80,1.62v3.23l-2.80,1.62l-2.80,-1.62v-3.23zM373.8,379.7l2.80,1.62v3.23l-2.80,1.62l-2.80,-1.62v-3.23zM281.4,384.5l2.80,1.62v3.23l-2.80,1.62l-2.80,-1.62v-3.23zM354.2,384.5l2.80,1.62v3.23l-2.80,1.62l-2.80,-1.62v-3.23zM301.0,389.4l2.80,1.62v3.23l-2.80,1.62l-2.80,-1.62v-3.23zM306.6,389.4l2.80,1.62v3.23l-2.80,1.62l-2.80,-1.62v-3.23zM312.2,389.4l2.80,1.62v3.23l-2.80,1.62l-2.80,-1.62v-3.23zM317.8,389.4l2.80,1.62v3.23l-2.80,1.62l-2.80,-1.62v-3.23zM323.4,389.4l2.80,1.62v3.23l-2.80,1.62l-2.80,-1.62v-3.23zM329.0,389.4l2.80,1.62v3.23l-2.80,1.62l-2.80,-1.62v-3.23z"/>
<path fill="#e6a8e0" stroke="#e6a8e0" stroke-width="0.5" d="M312.2,137.2l2.80,1.62v3.23l-2.80,1.62l-2.80,-1.62v-3.23zM317.8,137.2l2.80,1.62v3.23l-2.80,1.62l-2.80,-1.62v-3.23zM323.4,137.2l2.80,1.62v3.23l-2.80,1.62l-2.80,-1.62v-3.23zM329.0,137.2l2.80,1.62v3.23l-2.80,1.62l-2.80,-1.62v-3.23zM334.6,137.2l2.80,1.62v3.23l-2.80,1.62l-2.80,-1.62v-3.23zM303.8,142.0l2.80,1.62v3.23l-2.80,1.62l-2.80,-1.62v-3.23zM309.4,142.0l2.80,1.62v3.23l-2.80,1.62l-2.80,-1.62v-3.23zM315.0,142.0l2.80,1.62v3.23l-2.80,1.62l-2.80,-1.62v-3.23zM320.6,142.0l2.80,1.62v3.23l-2.80,1.62l-2.80,-1.62v-3.23zM326.2,142.0l2.80,1.62v3.23l-2.80,1.62l-2.80,-1.62v-3.23zM331.8,142.0l2.80,1.62v3.23l-2.80,1.62l-2.80,-1.62v-3.23zM337.4,142.0l2.80,1.62v3.23l-2.80,1.62l-2.80,-1.62v-3.23zM343.0,142.0l2.80,1.62v3.23l-2.80,1.62l-2.80,-1.62v-3.23zM348.6,142.0l2.80,1.62v3.23l-2.80,1.62l-2.80,-1.62v-3.23zM354.2,142.0l2.80,1.62v3.23l-2.80,1.62l-2.80,-1.62v-3.23zM301.0,146.9l2.80,1.62v3.23l-2.80,1.62l-2.80,-1.62v-3.23zM306.6,146.9l2.80,1.62v3.23l-2.80,1.62l-2.80,-1.62v-3.23zM312.2,146.9l2.80,1.62v3.23l-2.80,1.62l-2.80,-1.62v-3.23zM317.8,146.9l2.80,1.62v3.23l-2.80,1.62l-2.80,-1.62v-3.23zM323.4,146.9l2.80,1.62v3.23l-2.80,1.62l-2.80,-1.62v-3.23zM329.0,146.9l2.80,1.62v3.23l-2.80,1.62l-2.80,-1.62v-3.23zM334.6,146.9l2.80,1.62v3.23l-2.80,1.62l-2.80,-1.62v-3.23zM340.2,146.9l2.80,1.62v3.23l-2.80,1.62l-2.80,-1.62v-3.23zM345.8,146.9l2.80,1.62v3.23l-2.80,1.62l-2.80,-1.62v-3.23zM351.4,146.9l2.80,1.62v3.23l-2.80,1.62l-2.80,-1.62v-3.23zM357.0,146.9l2.80,1.62v3.23l-2.80,1.62l-2.80,-1.62v-3.23zM362.6,146.9l2.80,1.62v3.23l-2.80,1.62l-2.80,-1.62v-3.23zM303.8,151.7l2.80,1.62v3.23l-2.80,1.62l-2.80,-1.62v-3.23zM309.4,151.7l2.80,1.62v3.23l-2.80,1.62l-2.80,-1.62v-3.23zM315.0,151.7l2.80,1.62v3.23l-2.80,1.62l-2.80,-1.62v-3.23zM348.6,151.7l2.80,1.62v3.23l-2.80,1.62l-2.80,-1.62v-3.23zM354.2,151.7l2.80,1.62v3.23l-2.80,1.62l-2.80,-1.62v-3.23zM359.8,151.7l2.80,1.62v3.23l-2.80,1.62l-2.80,-1.62v-3.23zM365.4,151.7l2.80,1.62v3.23l-2.80,1.62l-2.80,-1.62v-3.23zM371.0,151.7l2.80,1.62v3.23l-2.80,1.62l-2.80,-1.62v-3.23zM306.6,156.6l2.80,1.62v3.23l-2.80,1.62l-2.80,-1.62v-3.23zM362.6,156.6l2.80,1.62v3.23l-2.80,1.62l-2.80,-1.62v-3.23zM368.2,156.6l2.80,1.62v3.23l-2.80,1.62l-2.80,-1.62v-3.23zM373.8,156.6l2.80,1.62v3.23l-2.80,1.62l-2.80,-1.62v-3.23zM379.4,156.6l2.80,1.62v3.23l-2.80,1.62l-2.80,-1.62v-3.23zM309.4,161.4l2.80,1.62v3.23l-2.80,1.62l-2.80,-1.62v-3.23zM315.0,161.4l2.80,1.62v3.23l-2.80,1.62l-2.80,-1.62v-3.23zM376.6,161.4l2.80,1.62v3.23l-2.80,1.62l-2.80,-1.62v-3.23zM382.2,161.4l2.80,1.62v3.23l-2.80,1.62l-2.80,-1.62v-3.23zM387.8,161.4l2.80,1.62v3.23l-2.80,1.62l-2.80,-1.62v-3.23zM317.8,166.3l2.80,1.62v3.23l-2.80,1.62l-2.80,-1.62v-3.23zM323.4,166.3l2.80,1.62v3.23l-2.80,1.62l-2.80,-1.62v-3.23zM329.0,166.3l2.80,1.62v3.23l-2.80,1.62l-2.80,-1.62v-3.23zM334.6,166.3l2.80,1.62v3.23l-2.80,1.62l-2.80,-1.62v-3.23zM340.2,166.3l2.80,1.62v3.23l-2.80,1.62l-2.80,-1.62v-3.23zM385.0,166.3l2.80,1.62v3.23l-2.80,1.62l-2.80,-1.62v-3.23zM390.6,166.3l2.80,1.62v3.23l-2.80,1.62l-2.80,-1.62v-3.23zM326.2,171.1l2.80,1.62v3.23l-2.80,1.62l-2.80,-1.62v-3.23zM331.8,171.1l2.80,1.62v3.23l-2.80,1.62l-2.80,-1.62v-3.23zM337.4,171.1l2.80,1.62v3.23l-2.80,1.62l-2.80,-1.62v-3.23zM343.0,171.1l2.80,1.62v3.23l-2.80,1.62l-2.80,-1.62v-3.23zM348.6,171.1l2.80,1.62v3.23l-2.80,1.62l-2.80,-1.62v-3.23zM354.2,171.1l2.80,1.62v3.23l-2.80,1.62l-2.80,-1.62v-3.23zM387.8,171.1l2.80,1.62v3.23l-2.80,1.62l-2.80,-1.62v-3.23zM393.4,171.1l2.80,1.62v3.23l-2.80,1.62l-2.80,-1.62v-3.23zM399.0,171.1l2.80,1.62v3.23l-2.80,1.62l-2.80,-1.62v-3.23zM340.2,176.0l2.80,1.62v3.23l-2.80,1.62l-2.80,-1.62v-3.23zM345.8,176.0l2.80,1.62v3.23l-2.80,1.62l-2.80,-1.62v-3.23zM351.4,176.0l2.80,1.62v3.23l-2.80,1.62l-2.80,-1.62v-3.23zM357.0,176.0l2.80,1.62v3.23l-2.80,1.62l-2.80,-1.62v-3.23zM362.6,176.0l2.80,1.62v3.23l-2.80,1.62l-2.80,-1.62v-3.23zM368.2,176.0l2.80,1.62v3.23l-2.80,1.62l-2.80,-1.62v-3.23zM396.2,176.0l2.80,1.62v3.23l-2.80,1.62l-2.80,-1.62v-3.23zM401.8,176.0l2.80,1.62v3.23l-2.80,1.62l-2.80,-1.62v-3.23zM236.6,180.8l2.80,1.62v3.23l-2.80,1.62l-2.80,-1.62v-3.23zM270.2,180.8l2.80,1.62v3.23l-2.80,1.62l-2.80,-1.62v-3.23zM354.2,180.8l2.80,1.62v3.23l-2.80,1.62l-2.80,-1.62v-3.23zM359.8,180.8l2.80,1.62v3.23l-2.80,1.62l-2.80,-1.62v-3.23zM365.4,180.8l2.80,1.62v3.23l-2.80,1.62l-2.80,-1.62v-3.23zM371.0,180.8l2.80,1.62v3.23l-2.80,1.62l-2.80,-1.62v-3.23zM376.6,180.8l2.80,1.62v3.23l-2.80,1.62l-2.80,-1.62v-3.23zM399.0,180.8l2.80,1.62v3.23l-2.80,1.62l-2.80,-1.62v-3.23zM404.6,180.8l2.80,1.62v3.23l-2.80,1.62l-2.80,-1.62v-3.23zM373.8,185.7l2.80,1.62v3.23l-2.80,1.62l-2.80,-1.62v-3.23zM379.4,185.7l2.80,1.62v3.23l-2.80,1.62l-2.80,-1.62v-3.23zM385.0,185.7l2.80,1.62v3.23l-2.80,1.62l-2.80,-1.62v-3.23zM401.8,185.7l2.80,1.62v3.23l-2.80,1.62l-2.80,-1.62v-3.23zM407.4,185.7l2.80,1.62v3.23l-2.80,1.62l-2.80,-1.62v-3.23zM203.0,190.5l2.80,1.62v3.23l-2.80,1.62l-2.80,-1.62v-3.23zM387.8,190.5l2.80,1.62v3.23l-2.80,1.62l-2.80,-1.62v-3.23zM393.4,190.5l2.80,1.62v3.23l-2.80,1.62l-2.80,-1.62v-3.23zM404.6,190.5l2.80,1.62v3.23l-2.80,1.62l-2.80,-1.62v-3.23zM410.2,190.5l2.80,1.62v3.23l-2.80,1.62l-2.80,-1.62v-3.23zM396.2,195.4l2.80,1.62v3.23l-2.80,1.62l-2.80,-1.62v-3.23zM401.8,195.4l2.80,1.62v3.23l-2.80,1.62l-2.80,-1.62v-3.23zM407.4,195.4l2.80,1.62v3.23l-2.80,1.62l-2.80,-1.62v-3.23zM413.0,195.4l2.80,1.62v3.23l-2.80,1.62l-2.80,-1.62v-3.23zM393.4,200.2l2.80,1.62v3.23l-2.80,1.62l-2.80,-1.62v-3.23zM399.0,200.2l2.80,1.62v3.23l-2.80,1.62l-2.80,-1.62v-3.23zM404.6,200.2l2.80,1.62v3.23l-2.80,1.62l-2.80,-1.62v-3.23zM410.2,200.2l2.80,1.62v3.23l-2.80,1.62l-2.80,-1.62v-3.23zM415.8,200.2l2.80,1.62v3.23l-2.80,1.62l-2.80,-1.62v-3.23zM340.2,205.1l2.80,1.62v3.23l-2.80,1.62l-2.80,-1.62v-3.23zM401.8,205.1l2.80,1.62v3.23l-2.80,1.62l-2.80,-1.62v-3.23zM407.4,205.1l2.80,1.62v3.23l-2.80,1.62l-2.80,-1.62v-3.23zM413.0,205.1l2.80,1.62v3.23l-2.80,1.62l-2.80,-1.62v-3.23zM418.6,205.1l2.80,1.62v3.23l-2.80,1.62l-2.80,-1.62v-3.23zM424.2,205.1l2.80,1.62v3.23l-2.80,1.62l-2.80,-1.62v-3.23zM404.6,209.9l2.80,1.62v3.23l-2.80,1.62l-2.80,-1.62v-3.23zM410.2,209.9l2.80,1.62v3.23l-2.80,1.62l-2.80,-1.62v-3.23zM415.8,209.9l2.80,1.62v3.23l-2.80,1.62l-2.80,-1.62v-3.23zM421.4,209.9l2.80,1.62v3.23l-2.80,1.62l-2.80,-1.62v-3.23zM427.0,209.9l2.80,1.62v3.23l-2.80,1.62l-2.80,-1.62v-3.23zM413.0,214.8l2.80,1.62v3.23l-2.80,1.62l-2.80,-1.62v-3.23zM418.6,214.8l2.80,1.62v3.23l-2.80,1.62l-2.80,-1.62v-3.23zM424.2,214.8l2.80,1.62v3.23l-2.80,1.62l-2.80,-1.62v-3.23zM429.8,214.8l2.80,1.62v3.23l-2.80,1.62l-2.80,-1.62v-3.23zM415.8,219.6l2.80,1.62v3.23l-2.80,1.62l-2.80,-1.62v-3.23zM421.4,219.6l2.80,1.62v3.23l-2.80,1.62l-2.80,-1.62v-3.23zM427.0,219.6l2.80,1.62v3.23l-2.80,1.62l-2.80,-1.62v-3.23zM432.6,219.6l2.80,1.62v3.23l-2.80,1.62l-2.80,-1.62v-3.23zM418.6,224.5l2.80,1.62v3.23l-2.80,1.62l-2.80,-1.62v-3.23zM424.2,224.5l2.80,1.62v3.23l-2.80,1.62l-2.80,-1.62v-3.23zM429.8,224.5l2.80,1.62v3.23l-2.80,1.62l-2.80,-1.62v-3.23zM435.4,224.5l2.80,1.62v3.23l-2.80,1.62l-2.80,-1.62v-3.23zM180.6,229.3l2.80,1.62v3.23l-2.80,1.62l-2.80,-1.62v-3.23zM415.8,229.3l2.80,1.62v3.23l-2.80,1.62l-2.80,-1.62v-3.23zM421.4,229.3l2.80,1.62v3.23l-2.80,1.62l-2.80,-1.62v-3.23zM427.0,229.3l2.80,1.62v3.23l-2.80,1.62l-2.80,-1.62v-3.23zM432.6,229.3l2.80,1.62v3.23l-2.80,1.62l-2.80,-1.62v-3.23zM438.2,229.3l2.80,1.62v3.23l-2.80,1.62l-2.80,-1.62v-3.23zM418.6,234.2l2.80,1.62v3.23l-2.80,1.62l-2.80,-1.62v-3.23zM424.2,234.2l2.80,1.62v3.23l-2.80,1.62l-2.80,-1.62v-3.23zM429.8,234.2l2.80,1.62v3.23l-2.80,1.62l-2.80,-1.62v-3.23zM435.4,234.2l2.80,1.62v3.23l-2.80,1.62l-2.80,-1.62v-3.23zM441.0,234.2l2.80,1.62v3.23l-2.80,1.62l-2.80,-1.62v-3.23zM421.4,239.0l2.80,1.62v3.23l-2.80,1.62l-2.80,-1.62v-3.23zM427.0,239.0l2.80,1.62v3.23l-2.80,1.62l-2.80,-1.62v-3.23zM432.6,239.0l2.80,1.62v3.23l-2.80,1.62l-2.80,-1.62v-3.23zM438.2,239.0l2.80,1.62v3.23l-2.80,1.62l-2.80,-1.62v-3.23zM443.8,239.0l2.80,1.62v3.23l-2.80,1.62l-2.80,-1.62v-3.23zM177.8,243.9l2.80,1.62v3.23l-2.80,1.62l-2.80,-1.62v-3.23zM329.0,243.9l2.80,1.62v3.23l-2.80,1.62l-2.80,-1.62v-3.23zM424.2,243.9l2.80,1.62v3.23l-2.80,1.62l-2.80,-1.62v-3.23zM429.8,243.9l2.80,1.62v3.23l-2.80,1.62l-2.80,-1.62v-3.23zM435.4,243.9l2.80,1.62v3.23l-2.80,1.62l-2.80,-1.62v-3.23zM441.0,243.9l2.80,1.62v3.23l-2.80,1.62l-2.80,-1.62v-3.23zM421.4,248.7l2.80,1.62v3.23l-2.80,1.62l-2.80,-1.62v-3.23zM427.0,248.7l2.80,1.62v3.23l-2.80,1.62l-2.80,-1.62v-3.23zM432.6,248.7l2.80,1.62v3.23l-2.80,1.62l-2.80,-1.62v-3.23zM438.2,248.7l2.80,1.62v3.23l-2.80,1.62l-2.80,-1.62v-3.23zM443.8,248.7l2.80,1.62v3.23l-2.80,1.62l-2.80,-1.62v-3.23zM424.2,253.6l2.80,1.62v3.23l-2.80,1.62l-2.80,-1.62v-3.23zM429.8,253.6l2.80,1.62v3.23l-2.80,1.62l-2.80,-1.62v-3.23zM435.4,253.6l2.80,1.62v3.23l-2.80,1.62l-2.80,-1.62v-3.23zM441.0,253.6l2.80,1.62v3.23l-2.80,1.62l-2.80,-1.62v-3.23zM446.6,253.6l2.80,1.62v3.23l-2.80,1.62l-2.80,-1.62v-3.23zM298.2,258.4l2.80,1.62v3.23l-2.80,1.62l-2.80,-1.62v-3.23zM427.0,258.4l2.80,1.62v3.23l-2.80,1.62l-2.80,-1.62v-3.23zM432.6,258.4l2.80,1.62v3.23l-2.80,1.62l-2.80,-1.62v-3.23zM438.2,258.4l2.80,1.62v3.23l-2.80,1.62l-2.80,-1.62v-3.23zM443.8,258.4l2.80,1.62v3.23l-2.80,1.62l-2.80,-1.62v-3.23zM424.2,263.3l2.80,1.62v3.23l-2.80,1.62l-2.80,-1.62v-3.23zM429.8,263.3l2.80,1.62v3.23l-2.80,1.62l-2.80,-1.62v-3.23zM435.4,263.3l2.80,1.62v3.23l-2.80,1.62l-2.80,-1.62v-3.23zM441.0,263.3l2.80,1.62v3.23l-2.80,1.62l-2.80,-1.62v-3.23zM446.6,263.3l2.80,1.62v3.23l-2.80,1.62l-2.80,-1.62v-3.23zM427.0,268.1l2.80,1.62v3.23l-2.80,1.62l-2.80,-1.62v-3.23zM432.6,268.1l2.80,1.62v3.23l-2.80,1.62l-2.80,-1.62v-3.23zM438.2,268.1l2.80,1.62v3.23l-2.80,1.62l-2.80,-1.62v-3.23zM443.8,268.1l2.80,1.62v3.23l-2.80,1.62l-2.80,-1.62v-3.23zM177.8,273.0l2.80,1.62v3.23l-2.80,1.62l-2.80,-1.62v-3.23zM429.8,273.0l2.80,1.62v3.23l-2.80,1.62l-2.80,-1.62v-3.23zM435.4,273.0l2.80,1.62v3.23l-2.80,1.62l-2.80,-1.62v-3.23zM441.0,273.0l2.80,1.62v3.23l-2.80,1.62l-2.80,-1.62v-3.23zM446.6,273.0l2.80,1.62v3.23l-2.80,1.62l-2.80,-1.62v-3.23zM427.0,277.8l2.80,1.62v3.23l-2.80,1.62l-2.80,-1.62v-3.23zM432.6,277.8l2.80,1.62v3.23l-2.80,1.62l-2.80,-1.62v-3.23zM438.2,277.8l2.80,1.62v3.23l-2.80,1.62l-2.80,-1.62v-3.23zM443.8,277.8l2.80,1.62v3.23l-2.80,1.62l-2.80,-1.62v-3.23zM177.8,282.7l2.80,1.62v3.23l-2.80,1.62l-2.80,-1.62v-3.23zM429.8,282.7l2.80,1.62v3.23l-2.80,1.62l-2.80,-1.62v-3.23zM435.4,282.7l2.80,1.62v3.23l-2.80,1.62l-2.80,-1.62v-3.23zM441.0,282.7l2.80,1.62v3.23l-2.80,1.62l-2.80,-1.62v-3.23zM180.6,287.5l2.80,1.62v3.23l-2.80,1.62l-2.80,-1.62v-3.23zM427.0,287.5l2.80,1.62v3.23l-2.80,1.62l-2.80,-1.62v-3.23zM432.6,287.5l2.80,1.62v3.23l-2.80,1.62l-2.80,-1.62v-3.23zM438.2,287.5l2.80,1.62v3.23l-2.80,1.62l-2.80,-1.62v-3.23zM443.8,287.5l2.80,1.62v3.23l-2.80,1.62l-2.80,-1.62v-3.23zM183.4,292.4l2.80,1.62v3.23l-2.80,1.62l-2.80,-1.62v-3.23zM429.8,292.4l2.80,1.62v3.23l-2.80,1.62l-2.80,-1.62v-3.23zM435.4,292.4l2.80,1.62v3.23l-2.80,1.62l-2.80,-1.62v-3.23zM441.0,292.4l2.80,1.62v3.23l-2.80,1.62l-2.80,-1.62v-3.23zM186.2,297.2l2.80,1.62v3.23l-2.80,1.62l-2.80,-1.62v-3.23zM427.0,297.2l2.80,1.62v3.23l-2.80,1.62l-2.80,-1.62v-3.23zM432.6,297.2l2.80,1.62v3.23l-2.80,1.62l-2.80,-1.62v-3.23zM438.2,297.2l2.80,1.62v3.23l-2.80,1.62l-2.80,-1.62v-3.23zM183.4,302.1l2.80,1.62v3.23l-2.80,1.62l-2.80,-1.62v-3.23zM424.2,302.1l2.80,1.62v3.23l-2.80,1.62l-2.80,-1.62v-3.23zM429.8,302.1l2.80,1.62v3.23l-2.80,1.62l-2.80,-1.62v-3.23zM435.4,302.1l2.80,1.62v3.23l-2.80,1.62l-2.80,-1.62v-3.23zM186.2,306.9l2.80,1.62v3.23l-2.80,1.62l-2.80,-1.62v-3.23zM427.0,306.9l2.80,1.62v3.23l-2.80,1.62l-2.80,-1.62v-3.23zM432.6,306.9l2.80,1.62v3.23l-2.80,1.62l-2.80,-1.62v-3.23zM438.2,306.9l2.80,1.62v3.23l-2.80,1.62l-2.80,-1.62v-3.23zM189.0,311.8l2.80,1.62v3.23l-2.80,1.62l-2.80,-1.62v-3.23zM424.2,311.8l2.80,1.62v3.23l-2.80,1.62l-2.80,-1.62v-3.23zM429.8,311.8l2.80,1.62v3.23l-2.80,1.62l-2.80,-1.62v-3.23zM435.4,311.8l2.80,1.62v3.23l-2.80,1.62l-2.80,-1.62v-3.23zM191.8,316.6l2.80,1.62v3.23l-2.80,1.62l-2.80,-1.62v-3.23zM432.6,316.6l2.80,1.62v3.23l-2.80,1.62l-2.80,-1.62v-3.23zM429.8,321.5l2.80,1.62v3.23l-2.80,1.62l-2.80,-1.62v-3.23zM197.4,326.3l2.80,1.62v3.23l-2.80,1.62l-2.80,-1.62v-3.23zM200.2,331.2l2.80,1.62v3.23l-2.80,1.62l-2.80,-1.62v-3.23zM203.0,336.0l2.80,1.62v3.23l-2.80,1.62l-2.80,-1.62v-3.23zM214.2,345.7l2.80,1.62v3.23l-2.80,1.62l-2.80,-1.62v-3.23zM217.0,350.6l2.80,1.62v3.23l-2.80,1.62l-2.80,-1.62v-3.23zM225.4,355.4l2.80,1.62v3.23l-2.80,1.62l-2.80,-1.62v-3.23zM407.4,360.3l2.80,1.62v3.23l-2.80,1.62l-2.80,-1.62v-3.23zM236.6,365.1l2.80,1.62v3.23l-2.80,1.62l-2.80,-1.62v-3.23zM399.0,365.1l2.80,1.62v3.23l-2.80,1.62l-2.80,-1.62v-3.23zM245.0,370.0l2.80,1.62v3.23l-2.80,1.62l-2.80,-1.62v-3.23zM390.6,370.0l2.80,1.62v3.23l-2.80,1.62l-2.80,-1.62v-3.23zM259.0,374.8l2.80,1.62v3.23l-2.80,1.62l-2.80,-1.62v-3.23zM376.6,374.8l2.80,1.62v3.23l-2.80,1.62l-2.80,-1.62v-3.23zM382.2,374.8l2.80,1.62v3.23l-2.80,1.62l-2.80,-1.62v-3.23zM267.4,379.7l2.80,1.62v3.23l-2.80,1.62l-2.80,-1.62v-3.23zM362.6,379.7l2.80,1.62v3.23l-2.80,1.62l-2.80,-1.62v-3.23zM287.0,384.5l2.80,1.62v3.23l-2.80,1.62l-2.80,-1.62v-3.23zM343.0,384.5l2.80,1.62v3.23l-2.80,1.62l-2.80,-1.62v-3.23zM348.6,384.5l2.80,1.62v3.23l-2.80,1.62l-2.80,-1.62v-3.23z"/>
<path fill="#dd9ee3" stroke="#dd9ee3" stroke-width="0.5" d="M320.6,151.7l2.80,1.62v3.23l-2.80,1.62l-2.80,-1.62v-3.23zM326.2,151.7l2.80,1.62v3.23l-2.80,1.62l-2.80,-1.62v-3.23zM331.8,151.7l2.80,1.62v3.23l-2.80,1.62l-2.80,-1.62v-3.23zM337.4,151.7l2.80,1.62v3.23l-2.80,1.62l-2.80,-1.62v-3.23zM343.0,151.7l2.80,1.62v3.23l-2.80,1.62l-2.80,-1.62v-3.23zM312.2,156.6l2.80,1.62v3.23l-2.80,1.62l-2.80,-1.62v-3.23zM317.8,156.6l2.80,1.62v3.23l-2.80,1.62l-2.80,-1.62v-3.23zM323.4,156.6l2.80,1.62v3.23l-2.80,1.62l-2.80,-1.62v-3.23zM329.0,156.6l2.80,1.62v3.23l-2.80,1.62l-2.80,-1.62v-3.23zM334.6,156.6l2.80,1.62v3.23l-2.80,1.62l-2.80,-1.62v-3.23zM340.2,156.6l2.80,1.62v3.23l-2.80,1.62l-2.80,-1.62v-3.23zM345.8,156.6l2.80,1.62v3.23l-2.80,1.62l-2.80,-1.62v-3.23zM351.4,156.6l2.80,1.62v3.23l-2.80,1.62l-2.80,-1.62v-3.23zM357.0,156.6l2.80,1.62v3.23l-2.80,1.62l-2.80,-1.62v-3.23zM320.6,161.4l2.80,1.62v3.23l-2.80,1.62l-2.80,-1.62v-3.23zM326.2,161.4l2.80,1.62v3.23l-2.80,1.62l-2.80,-1.62v-3.23zM331.8,161.4l2.80,1.62v3.23l-2.80,1.62l-2.80,-1.62v-3.23zM337.4,161.4l2.80,1.62v3.23l-2.80,1.62l-2.80,-1.62v-3.23zM343.0,161.4l2.80,1.62v3.23l-2.80,1.62l-2.80,-1.62v-3.23zM348.6,161.4l2.80,1.62v3.23l-2.80,1.62l-2.80,-1.62v-3.23zM354.2,161.4l2.80,1.62v3.23l-2.80,1.62l-2.80,-1.62v-3.23zM359.8,161.4l2.80,1.62v3.23l-2.80,1.62l-2.80,-1.62v-3.23zM365.4,161.4l2.80,1.62v3.23l-2.80,1.62l-2.80,-1.62v-3.23zM371.0,161.4l2.80,1.62v3.23l-2.80,1.62l-2.80,-1.62v-3.23zM345.8,166.3l2.80,1.62v3.23l-2.80,1.62l-2.80,-1.62v-3.23zM351.4,166.3l2.80,1.62v3.23l-2.80,1.62l-2.80,-1.62v-3.23zM357.0,166.3l2.80,1.62v3.23l-2.80,1.62l-2.80,-1.62v-3.23zM362.6,166.3l2.80,1.62v3.23l-2.80,1.62l-2.80,-1.62v-3.23zM368.2,166.3l2.80,1.62v3.23l-2.80,1.62l-2.80,-1.62v-3.23zM373.8,166.3l2.80,1.62v3.23l-2.80,1.62l-2.80,-1.62v-3.23zM379.4,166.3l2.80,1.62v3.23l-2.80,1.62l-2.80,-1.62v-3.23zM359.8,171.1l2.80,1.62v3.23l-2.80,1.62l-2.80,-1.62v-3.23zM365.4,171.1l2.80,1.62v3.23l-2.80,1.62l-2.80,-1.62v-3.23zM371.0,171.1l2.80,1.62v3.23l-2.80,1.62l-2.80,-1.62v-3.23zM376.6,171.1l2.80,1.62v3.23l-2.80,1.62l-2.80,-1.62v-3.23zM382.2,171.1l2.80,1.62v3.23l-2.80,1.62l-2.80,-1.62v-3.23zM373.8,176.0l2.80,1.62v3.23l-2.80,1.62l-2.80,-1.62v-3.23zM379.4,176.0l2.80,1.62v3.23l-2.80,1.62l-2.80,-1.62v-3.23zM385.0,176.0l2.80,1.62v3.23l-2.80,1.62l-2.80,-1.62v-3.23zM390.6,176.0l2.80,1.62v3.23l-2.80,1.62l-2.80,-1.62v-3.23zM242.2,180.8l2.80,1.62v3.23l-2.80,1.62l-2.80,-1.62v-3.23zM247.8,180.8l2.80,1.62v3.23l-2.80,1.62l-2.80,-1.62v-3.23zM253.4,180.8l2.80,1.62v3.23l-2.80,1.62l-2.80,-1.62v-3.23zM259.0,180.8l2.80,1.62v3.23l-2.80,1.62l-2.80,-1.62v-3.23zM264.6,180.8l2.80,1.62v3.23l-2.80,1.62l-2.80,-1.62v-3.23zM382.2,180.8l2.80,1.62v3.23l-2.80,1.62l-2.80,-1.62v-3.23zM387.8,180.8l2.80,1.62v3.23l-2.80,1.62l-2.80,-1.62v-3.23zM393.4,180.8l2.80,1.62v3.23l-2.80,1.62l-2.80,-1.62v-3.23zM390.6,185.7l2.80,1.62v3.23l-2.80,1.62l-2.80,-1.62v-3.23zM396.2,185.7l2.80,1.62v3.23l-2.80,1.62l-2.80,-1.62v-3.23zM399.0,190.5l2.80,1.62v3.23l-2.80,1.62l-2.80,-1.62v-3.23zM317.8,195.4l2.80,1.62v3.23l-2.80,1.62l-2.80,-1.62v-3.23zM371.0,200.2l2.80,1.62v3.23l-2.80,1.62l-2.80,-1.62v-3.23zM362.6,205.1l2.80,1.62v3.23l-2.80,1.62l-2.80,-1.62v-3.23zM183.4,214.8l2.80,1.62v3.23l-2.80,1.62l-2.80,-1.62v-3.23zM407.4,214.8l2.80,1.62v3.23l-2.80,1.62l-2.80,-1.62v-3.23zM410.2,219.6l2.80,1.62v3.23l-2.80,1.62l-2.80,-1.62v-3.23zM413.0,224.5l2.80,1.62v3.23l-2.80,1.62l-2.80,-1.62v-3.23zM245.0,234.2l2.80,1.62v3.23l-2.80,1.62l-2.80,-1.62v-3.23zM180.6,239.0l2.80,1.62v3.23l-2.80,1.62l-2.80,-1.62v-3.23zM236.6,239.0l2.80,1.62v3.23l-2.80,1.62l-2.80,-1.62v-3.23zM233.8,243.9l2.80,1.62v3.23l-2.80,1.62l-2.80,-1.62v-3.23zM418.6,243.9l2.80,1.62v3.23l-2.80,1.62l-2.80,-1.62v-3.23zM177.8,253.6l2.80,1.62v3.23l-2.80,1.62l-2.80,-1.62v-3.23zM421.4,258.4l2.80,1.62v3.23l-2.80,1.62l-2.80,-1.62v-3.23zM177.8,263.3l2.80,1.62v3.23l-2.80,1.62l-2.80,-1.62v-3.23zM424.2,273.0l2.80,1.62v3.23l-2.80,1.62l-2.80,-1.62v-3.23zM180.6,277.8l2.80,1.62v3.23l-2.80,1.62l-2.80,-1.62v-3.23zM424.2,282.7l2.80,1.62v3.23l-2.80,1.62l-2.80,-1.62v-3.23zM424.2,292.4l2.80,1.62v3.23l-2.80,1.62l-2.80,-1.62v-3.23zM189.0,302.1l2.80,1.62v3.23l-2.80,1.62l-2.80,-1.62v-3.23zM421.4,306.9l2.80,1.62v3.23l-2.80,1.62l-2.80,-1.62v-3.23zM418.6,311.8l2.80,1.62v3.23l-2.80,1.62l-2.80,-1.62v-3.23zM194.6,321.5l2.80,1.62v3.23l-2.80,1.62l-2.80,-1.62v-3.23zM303.8,326.3l2.80,1.62v3.23l-2.80,1.62l-2.80,-1.62v-3.23zM359.8,326.3l2.80,1.62v3.23l-2.80,1.62l-2.80,-1.62v-3.23zM208.6,336.0l2.80,1.62v3.23l-2.80,1.62l-2.80,-1.62v-3.23zM421.4,336.0l2.80,1.62v3.23l-2.80,1.62l-2.80,-1.62v-3.23zM211.4,340.9l2.80,1.62v3.23l-2.80,1.62l-2.80,-1.62v-3.23zM424.2,340.9l2.80,1.62v3.23l-2.80,1.62l-2.80,-1.62v-3.23zM222.6,350.6l2.80,1.62v3.23l-2.80,1.62l-2.80,-1.62v-3.23zM418.6,350.6l2.80,1.62v3.23l-2.80,1.62l-2.80,-1.62v-3.23zM233.8,360.3l2.80,1.62v3.23l-2.80,1.62l-2.80,-1.62v-3.23zM242.2,365.1l2.80,1.62v3.23l-2.80,1.62l-2.80,-1.62v-3.23zM250.6,370.0l2.80,1.62v3.23l-2.80,1.62l-2.80,-1.62v-3.23zM385.0,370.0l2.80,1.62v3.23l-2.80,1.62l-2.80,-1.62v-3.23zM273.0,379.7l2.80,1.62v3.23l-2.80,1.62l-2.80,-1.62v-3.23zM292.6,384.5l2.80,1.62v3.23l-2.80,1.62l-2.80,-1.62v-3.23zM337.4,384.5l2.80,1.62v3.23l-2.80,1.62l-2.80,-1.62v-3.23z"/>
<path fill="#d495e6" stroke="#d495e6" stroke-width="0.5" d="M217.0,185.7l2.80,1.62v3.23l-2.80,1.62l-2.80,-1.62v-3.23zM289.8,185.7l2.80,1.62v3.23l-2.80,1.62l-2.80,-1.62v-3.23zM303.8,190.5l2.80,1.62v3.23l-2.80,1.62l-2.80,-1.62v-3.23zM191.8,200.2l2.80,1.62v3.23l-2.80,1.62l-2.80,-1.62v-3.23zM186.2,209.9l2.80,1.62v3.23l-2.80,1.62l-2.80,-1.62v-3.23zM183.4,224.5l2.80,1.62v3.23l-2.80,1.62l-2.80,-1.62v-3.23zM183.4,234.2l2.80,1.62v3.23l-2.80,1.62l-2.80,-1.62v-3.23zM415.8,239.0l2.80,1.62v3.23l-2.80,1.62l-2.80,-1.62v-3.23zM183.4,282.7l2.80,1.62v3.23l-2.80,1.62l-2.80,-1.62v-3.23zM421.4,297.2l2.80,1.62v3.23l-2.80,1.62l-2.80,-1.62v-3.23zM191.8,306.9l2.80,1.62v3.23l-2.80,1.62l-2.80,-1.62v-3.23zM281.4,306.9l2.80,1.62v3.23l-2.80,1.62l-2.80,-1.62v-3.23zM415.8,316.6l2.80,1.62v3.23l-2.80,1.62l-2.80,-1.62v-3.23zM295.4,321.5l2.80,1.62v3.23l-2.80,1.62l-2.80,-1.62v-3.23zM413.0,321.5l2.80,1.62v3.23l-2.80,1.62l-2.80,-1.62v-3.23zM219.8,345.7l2.80,1.62v3.23l-2.80,1.62l-2.80,-1.62v-3.23zM421.4,345.7l2.80,1.62v3.23l-2.80,1.62l-2.80,-1.62v-3.23zM410.2,355.4l2.80,1.62v3.23l-2.80,1.62l-2.80,-1.62v-3.23zM401.8,360.3l2.80,1.62v3.23l-2.80,1.62l-2.80,-1.62v-3.23zM393.4,365.1l2.80,1.62v3.23l-2.80,1.62l-2.80,-1.62v-3.23zM264.6,374.8l2.80,1.62v3.23l-2.80,1.62l-2.80,-1.62v-3.23zM371.0,374.8l2.80,1.62v3.23l-2.80,1.62l-2.80,-1.62v-3.23zM357.0,379.7l2.80,1.62v3.23l-2.80,1.62l-2.80,-1.62v-3.23zM298.2,384.5l2.80,1.62v3.23l-2.80,1.62l-2.80,-1.62v-3.23zM326.2,384.5l2.80,1.62v3.23l-2.80,1.62l-2.80,-1.62v-3.23zM331.8,384.5l2.80,1.62v3.23l-2.80,1.62l-2.80,-1.62v-3.23z"/>
<path fill="#cb8de9" stroke="#cb8de9" stroke-width="0.5" d="M208.6,190.5l2.80,1.62v3.23l-2.80,1.62l-2.80,-1.62v-3.23zM200.2,195.4l2.80,1.62v3.23l-2.80,1.62l-2.80,-1.62v-3.23zM326.2,200.2l2.80,1.62v3.23l-2.80,1.62l-2.80,-1.62v-3.23zM387.8,200.2l2.80,1.62v3.23l-2.80,1.62l-2.80,-1.62v-3.23zM189.0,205.1l2.80,1.62v3.23l-2.80,1.62l-2.80,-1.62v-3.23zM334.6,205.1l2.80,1.62v3.23l-2.80,1.62l-2.80,-1.62v-3.23zM396.2,205.1l2.80,1.62v3.23l-2.80,1.62l-2.80,-1.62v-3.23zM348.6,209.9l2.80,1.62v3.23l-2.80,1.62l-2.80,-1.62v-3.23zM354.2,209.9l2.80,1.62v3.23l-2.80,1.62l-2.80,-1.62v-3.23zM273.0,234.2l2.80,1.62v3.23l-2.80,1.62l-2.80,-1.62v-3.23zM348.6,239.0l2.80,1.62v3.23l-2.80,1.62l-2.80,-1.62v-3.23zM354.2,239.0l2.80,1.62v3.23l-2.80,1.62l-2.80,-1.62v-3.23zM180.6,248.7l2.80,1.62v3.23l-2.80,1.62l-2.80,-1.62v-3.23zM180.6,258.4l2.80,1.62v3.23l-2.80,1.62l-2.80,-1.62v-3.23zM180.6,268.1l2.80,1.62v3.23l-2.80,1.62l-2.80,-1.62v-3.23zM421.4,268.1l2.80,1.62v3.23l-2.80,1.62l-2.80,-1.62v-3.23zM186.2,287.5l2.80,1.62v3.23l-2.80,1.62l-2.80,-1.62v-3.23zM194.6,311.8l2.80,1.62v3.23l-2.80,1.62l-2.80,-1.62v-3.23zM205.8,331.2l2.80,1.62v3.23l-2.80,1.62l-2.80,-1.62v-3.23zM413.0,331.2l2.80,1.62v3.23l-2.80,1.62l-2.80,-1.62v-3.23zM231.0,355.4l2.80,1.62v3.23l-2.80,1.62l-2.80,-1.62v-3.23zM278.6,379.7l2.80,1.62v3.23l-2.80,1.62l-2.80,-1.62v-3.23zM303.8,384.5l2.80,1.62v3.23l-2.80,1.62l-2.80,-1.62v-3.23zM309.4,384.5l2.80,1.62v3.23l-2.80,1.62l-2.80,-1.62v-3.23zM315.0,384.5l2.80,1.62v3.23l-2.80,1.62l-2.80,-1.62v-3.23zM320.6,384.5l2.80,1.62v3.23l-2.80,1.62l-2.80,-1.62v-3.23z"/>
<path fill="#c087eb" stroke="#c087eb" stroke-width="0.5" d="M222.6,185.7l2.80,1.62v3.23l-2.80,1.62l-2.80,-1.62v-3.23zM376.6,200.2l2.80,1.62v3.23l-2.80,1.62l-2.80,-1.62v-3.23zM382.2,200.2l2.80,1.62v3.23l-2.80,1.62l-2.80,-1.62v-3.23zM186.2,219.6l2.80,1.62v3.23l-2.80,1.62l-2.80,-1.62v-3.23zM186.2,229.3l2.80,1.62v3.23l-2.80,1.62l-2.80,-1.62v-3.23zM413.0,234.2l2.80,1.62v3.23l-2.80,1.62l-2.80,-1.62v-3.23zM359.8,239.0l2.80,1.62v3.23l-2.80,1.62l-2.80,-1.62v-3.23zM183.4,243.9l2.80,1.62v3.23l-2.80,1.62l-2.80,-1.62v-3.23zM418.6,253.6l2.80,1.62v3.23l-2.80,1.62l-2.80,-1.62v-3.23zM387.8,268.1l2.80,1.62v3.23l-2.80,1.62l-2.80,-1.62v-3.23zM421.4,277.8l2.80,1.62v3.23l-2.80,1.62l-2.80,-1.62v-3.23zM245.0,282.7l2.80,1.62v3.23l-2.80,1.62l-2.80,-1.62v-3.23zM387.8,287.5l2.80,1.62v3.23l-2.80,1.62l-2.80,-1.62v-3.23zM421.4,287.5l2.80,1.62v3.23l-2.80,1.62l-2.80,-1.62v-3.23zM345.8,331.2l2.80,1.62v3.23l-2.80,1.62l-2.80,-1.62v-3.23zM256.2,370.0l2.80,1.62v3.23l-2.80,1.62l-2.80,-1.62v-3.23zM379.4,370.0l2.80,1.62v3.23l-2.80,1.62l-2.80,-1.62v-3.23z"/>
<path fill="#b580ee" stroke="#b580ee" stroke-width="0.5" d="M284.2,185.7l2.80,1.62v3.23l-2.80,1.62l-2.80,-1.62v-3.23zM214.2,190.5l2.80,1.62v3.23l-2.80,1.62l-2.80,-1.62v-3.23zM312.2,195.4l2.80,1.62v3.23l-2.80,1.62l-2.80,-1.62v-3.23zM197.4,200.2l2.80,1.62v3.23l-2.80,1.62l-2.80,-1.62v-3.23zM343.0,209.9l2.80,1.62v3.23l-2.80,1.62l-2.80,-1.62v-3.23zM399.0,209.9l2.80,1.62v3.23l-2.80,1.62l-2.80,-1.62v-3.23zM186.2,239.0l2.80,1.62v3.23l-2.80,1.62l-2.80,-1.62v-3.23zM191.8,248.7l2.80,1.62v3.23l-2.80,1.62l-2.80,-1.62v-3.23zM194.6,253.6l2.80,1.62v3.23l-2.80,1.62l-2.80,-1.62v-3.23zM205.8,282.7l2.80,1.62v3.23l-2.80,1.62l-2.80,-1.62v-3.23zM208.6,287.5l2.80,1.62v3.23l-2.80,1.62l-2.80,-1.62v-3.23zM189.0,292.4l2.80,1.62v3.23l-2.80,1.62l-2.80,-1.62v-3.23zM211.4,292.4l2.80,1.62v3.23l-2.80,1.62l-2.80,-1.62v-3.23zM214.2,297.2l2.80,1.62v3.23l-2.80,1.62l-2.80,-1.62v-3.23zM217.0,302.1l2.80,1.62v3.23l-2.80,1.62l-2.80,-1.62v-3.23zM219.8,306.9l2.80,1.62v3.23l-2.80,1.62l-2.80,-1.62v-3.23zM222.6,311.8l2.80,1.62v3.23l-2.80,1.62l-2.80,-1.62v-3.23zM225.4,316.6l2.80,1.62v3.23l-2.80,1.62l-2.80,-1.62v-3.23zM376.6,316.6l2.80,1.62v3.23l-2.80,1.62l-2.80,-1.62v-3.23zM228.2,321.5l2.80,1.62v3.23l-2.80,1.62l-2.80,-1.62v-3.23zM203.0,326.3l2.80,1.62v3.23l-2.80,1.62l-2.80,-1.62v-3.23zM236.6,326.3l2.80,1.62v3.23l-2.80,1.62l-2.80,-1.62v-3.23zM410.2,326.3l2.80,1.62v3.23l-2.80,1.62l-2.80,-1.62v-3.23zM239.4,331.2l2.80,1.62v3.23l-2.80,1.62l-2.80,-1.62v-3.23zM410.2,336.0l2.80,1.62v3.23l-2.80,1.62l-2.80,-1.62v-3.23zM415.8,336.0l2.80,1.62v3.23l-2.80,1.62l-2.80,-1.62v-3.23zM217.0,340.9l2.80,1.62v3.23l-2.80,1.62l-2.80,-1.62v-3.23zM401.8,340.9l2.80,1.62v3.23l-2.80,1.62l-2.80,-1.62v-3.23zM407.4,340.9l2.80,1.62v3.23l-2.80,1.62l-2.80,-1.62v-3.23zM393.4,345.7l2.80,1.62v3.23l-2.80,1.62l-2.80,-1.62v-3.23zM399.0,345.7l2.80,1.62v3.23l-2.80,1.62l-2.80,-1.62v-3.23zM228.2,350.6l2.80,1.62v3.23l-2.80,1.62l-2.80,-1.62v-3.23zM385.0,350.6l2.80,1.62v3.23l-2.80,1.62l-2.80,-1.62v-3.23zM390.6,350.6l2.80,1.62v3.23l-2.80,1.62l-2.80,-1.62v-3.23zM371.0,355.4l2.80,1.62v3.23l-2.80,1.62l-2.80,-1.62v-3.23zM239.4,360.3l2.80,1.62v3.23l-2.80,1.62l-2.80,-1.62v-3.23zM247.8,365.1l2.80,1.62v3.23l-2.80,1.62l-2.80,-1.62v-3.23zM365.4,374.8l2.80,1.62v3.23l-2.80,1.62l-2.80,-1.62v-3.23zM284.2,379.7l2.80,1.62v3.23l-2.80,1.62l-2.80,-1.62v-3.23zM351.4,379.7l2.80,1.62v3.23l-2.80,1.62l-2.80,-1.62v-3.23z"/>
<path fill="#aa7af0" stroke="#aa7af0" stroke-width="0.5" d="M205.8,195.4l2.80,1.62v3.23l-2.80,1.62l-2.80,-1.62v-3.23zM194.6,205.1l2.80,1.62v3.23l-2.80,1.62l-2.80,-1.62v-3.23zM368.2,205.1l2.80,1.62v3.23l-2.80,1.62l-2.80,-1.62v-3.23zM359.8,209.9l2.80,1.62v3.23l-2.80,1.62l-2.80,-1.62v-3.23zM189.0,214.8l2.80,1.62v3.23l-2.80,1.62l-2.80,-1.62v-3.23zM189.0,224.5l2.80,1.62v3.23l-2.80,1.62l-2.80,-1.62v-3.23zM191.8,239.0l2.80,1.62v3.23l-2.80,1.62l-2.80,-1.62v-3.23zM194.6,243.9l2.80,1.62v3.23l-2.80,1.62l-2.80,-1.62v-3.23zM323.4,243.9l2.80,1.62v3.23l-2.80,1.62l-2.80,-1.62v-3.23zM415.8,248.7l2.80,1.62v3.23l-2.80,1.62l-2.80,-1.62v-3.23zM183.4,253.6l2.80,1.62v3.23l-2.80,1.62l-2.80,-1.62v-3.23zM295.4,253.6l2.80,1.62v3.23l-2.80,1.62l-2.80,-1.62v-3.23zM191.8,258.4l2.80,1.62v3.23l-2.80,1.62l-2.80,-1.62v-3.23zM197.4,258.4l2.80,1.62v3.23l-2.80,1.62l-2.80,-1.62v-3.23zM183.4,263.3l2.80,1.62v3.23l-2.80,1.62l-2.80,-1.62v-3.23zM194.6,263.3l2.80,1.62v3.23l-2.80,1.62l-2.80,-1.62v-3.23zM183.4,273.0l2.80,1.62v3.23l-2.80,1.62l-2.80,-1.62v-3.23zM203.0,277.8l2.80,1.62v3.23l-2.80,1.62l-2.80,-1.62v-3.23zM222.6,302.1l2.80,1.62v3.23l-2.80,1.62l-2.80,-1.62v-3.23zM418.6,302.1l2.80,1.62v3.23l-2.80,1.62l-2.80,-1.62v-3.23zM228.2,311.8l2.80,1.62v3.23l-2.80,1.62l-2.80,-1.62v-3.23zM197.4,316.6l2.80,1.62v3.23l-2.80,1.62l-2.80,-1.62v-3.23zM231.0,316.6l2.80,1.62v3.23l-2.80,1.62l-2.80,-1.62v-3.23zM233.8,321.5l2.80,1.62v3.23l-2.80,1.62l-2.80,-1.62v-3.23zM231.0,326.3l2.80,1.62v3.23l-2.80,1.62l-2.80,-1.62v-3.23zM242.2,336.0l2.80,1.62v3.23l-2.80,1.62l-2.80,-1.62v-3.23zM247.8,336.0l2.80,1.62v3.23l-2.80,1.62l-2.80,-1.62v-3.23zM250.6,340.9l2.80,1.62v3.23l-2.80,1.62l-2.80,-1.62v-3.23zM379.4,350.6l2.80,1.62v3.23l-2.80,1.62l-2.80,-1.62v-3.23zM413.0,350.6l2.80,1.62v3.23l-2.80,1.62l-2.80,-1.62v-3.23zM376.6,355.4l2.80,1.62v3.23l-2.80,1.62l-2.80,-1.62v-3.23zM357.0,360.3l2.80,1.62v3.23l-2.80,1.62l-2.80,-1.62v-3.23zM387.8,365.1l2.80,1.62v3.23l-2.80,1.62l-2.80,-1.62v-3.23zM270.2,374.8l2.80,1.62v3.23l-2.80,1.62l-2.80,-1.62v-3.23z"/>
<path fill="#9c73f3" stroke="#9c73f3" stroke-width="0.5" d="M278.6,185.7l2.80,1.62v3.23l-2.80,1.62l-2.80,-1.62v-3.23zM298.2,190.5l2.80,1.62v3.23l-2.80,1.62l-2.80,-1.62v-3.23zM203.0,200.2l2.80,1.62v3.23l-2.80,1.62l-2.80,-1.62v-3.23zM200.2,205.1l2.80,1.62v3.23l-2.80,1.62l-2.80,-1.62v-3.23zM191.8,209.9l2.80,1.62v3.23l-2.80,1.62l-2.80,-1.62v-3.23zM197.4,209.9l2.80,1.62v3.23l-2.80,1.62l-2.80,-1.62v-3.23zM194.6,214.8l2.80,1.62v3.23l-2.80,1.62l-2.80,-1.62v-3.23zM200.2,214.8l2.80,1.62v3.23l-2.80,1.62l-2.80,-1.62v-3.23zM401.8,214.8l2.80,1.62v3.23l-2.80,1.62l-2.80,-1.62v-3.23zM191.8,219.6l2.80,1.62v3.23l-2.80,1.62l-2.80,-1.62v-3.23zM197.4,219.6l2.80,1.62v3.23l-2.80,1.62l-2.80,-1.62v-3.23zM194.6,224.5l2.80,1.62v3.23l-2.80,1.62l-2.80,-1.62v-3.23zM191.8,229.3l2.80,1.62v3.23l-2.80,1.62l-2.80,-1.62v-3.23zM410.2,229.3l2.80,1.62v3.23l-2.80,1.62l-2.80,-1.62v-3.23zM189.0,234.2l2.80,1.62v3.23l-2.80,1.62l-2.80,-1.62v-3.23zM194.6,234.2l2.80,1.62v3.23l-2.80,1.62l-2.80,-1.62v-3.23zM343.0,239.0l2.80,1.62v3.23l-2.80,1.62l-2.80,-1.62v-3.23zM189.0,243.9l2.80,1.62v3.23l-2.80,1.62l-2.80,-1.62v-3.23zM186.2,248.7l2.80,1.62v3.23l-2.80,1.62l-2.80,-1.62v-3.23zM231.0,248.7l2.80,1.62v3.23l-2.80,1.62l-2.80,-1.62v-3.23zM189.0,253.6l2.80,1.62v3.23l-2.80,1.62l-2.80,-1.62v-3.23zM186.2,258.4l2.80,1.62v3.23l-2.80,1.62l-2.80,-1.62v-3.23zM197.4,268.1l2.80,1.62v3.23l-2.80,1.62l-2.80,-1.62v-3.23zM200.2,273.0l2.80,1.62v3.23l-2.80,1.62l-2.80,-1.62v-3.23zM217.0,292.4l2.80,1.62v3.23l-2.80,1.62l-2.80,-1.62v-3.23zM191.8,297.2l2.80,1.62v3.23l-2.80,1.62l-2.80,-1.62v-3.23zM219.8,297.2l2.80,1.62v3.23l-2.80,1.62l-2.80,-1.62v-3.23zM278.6,302.1l2.80,1.62v3.23l-2.80,1.62l-2.80,-1.62v-3.23zM225.4,306.9l2.80,1.62v3.23l-2.80,1.62l-2.80,-1.62v-3.23zM200.2,321.5l2.80,1.62v3.23l-2.80,1.62l-2.80,-1.62v-3.23zM233.8,331.2l2.80,1.62v3.23l-2.80,1.62l-2.80,-1.62v-3.23zM245.0,331.2l2.80,1.62v3.23l-2.80,1.62l-2.80,-1.62v-3.23zM214.2,336.0l2.80,1.62v3.23l-2.80,1.62l-2.80,-1.62v-3.23zM245.0,340.9l2.80,1.62v3.23l-2.80,1.62l-2.80,-1.62v-3.23zM253.4,345.7l2.80,1.62v3.23l-2.80,1.62l-2.80,-1.62v-3.23zM365.4,355.4l2.80,1.62v3.23l-2.80,1.62l-2.80,-1.62v-3.23zM382.2,355.4l2.80,1.62v3.23l-2.80,1.62l-2.80,-1.62v-3.23zM404.6,355.4l2.80,1.62v3.23l-2.80,1.62l-2.80,-1.62v-3.23zM362.6,360.3l2.80,1.62v3.23l-2.80,1.62l-2.80,-1.62v-3.23zM396.2,360.3l2.80,1.62v3.23l-2.80,1.62l-2.80,-1.62v-3.23zM289.8,379.7l2.80,1.62v3.23l-2.80,1.62l-2.80,-1.62v-3.23zM345.8,379.7l2.80,1.62v3.23l-2.80,1.62l-2.80,-1.62v-3.23z"/>
<path fill="#8f6cf6" stroke="#8f6cf6" stroke-width="0.5" d="M228.2,185.7l2.80,1.62v3.23l-2.80,1.62l-2.80,-1.62v-3.23zM219.8,190.5l2.80,1.62v3.23l-2.80,1.62l-2.80,-1.62v-3.23zM211.4,195.4l2.80,1.62v3.23l-2.80,1.62l-2.80,-1.62v-3.23zM320.6,200.2l2.80,1.62v3.23l-2.80,1.62l-2.80,-1.62v-3.23zM203.0,209.9l2.80,1.62v3.23l-2.80,1.62l-2.80,-1.62v-3.23zM200.2,224.5l2.80,1.62v3.23l-2.80,1.62l-2.80,-1.62v-3.23zM407.4,224.5l2.80,1.62v3.23l-2.80,1.62l-2.80,-1.62v-3.23zM197.4,229.3l2.80,1.62v3.23l-2.80,1.62l-2.80,-1.62v-3.23zM197.4,239.0l2.80,1.62v3.23l-2.80,1.62l-2.80,-1.62v-3.23zM197.4,248.7l2.80,1.62v3.23l-2.80,1.62l-2.80,-1.62v-3.23zM418.6,263.3l2.80,1.62v3.23l-2.80,1.62l-2.80,-1.62v-3.23zM194.6,273.0l2.80,1.62v3.23l-2.80,1.62l-2.80,-1.62v-3.23zM186.2,277.8l2.80,1.62v3.23l-2.80,1.62l-2.80,-1.62v-3.23zM197.4,277.8l2.80,1.62v3.23l-2.80,1.62l-2.80,-1.62v-3.23zM200.2,282.7l2.80,1.62v3.23l-2.80,1.62l-2.80,-1.62v-3.23zM203.0,287.5l2.80,1.62v3.23l-2.80,1.62l-2.80,-1.62v-3.23zM214.2,287.5l2.80,1.62v3.23l-2.80,1.62l-2.80,-1.62v-3.23zM205.8,292.4l2.80,1.62v3.23l-2.80,1.62l-2.80,-1.62v-3.23zM208.6,297.2l2.80,1.62v3.23l-2.80,1.62l-2.80,-1.62v-3.23zM194.6,302.1l2.80,1.62v3.23l-2.80,1.62l-2.80,-1.62v-3.23zM211.4,302.1l2.80,1.62v3.23l-2.80,1.62l-2.80,-1.62v-3.23zM214.2,306.9l2.80,1.62v3.23l-2.80,1.62l-2.80,-1.62v-3.23zM217.0,311.8l2.80,1.62v3.23l-2.80,1.62l-2.80,-1.62v-3.23zM379.4,311.8l2.80,1.62v3.23l-2.80,1.62l-2.80,-1.62v-3.23zM219.8,316.6l2.80,1.62v3.23l-2.80,1.62l-2.80,-1.62v-3.23zM222.6,321.5l2.80,1.62v3.23l-2.80,1.62l-2.80,-1.62v-3.23zM225.4,326.3l2.80,1.62v3.23l-2.80,1.62l-2.80,-1.62v-3.23zM242.2,326.3l2.80,1.62v3.23l-2.80,1.62l-2.80,-1.62v-3.23zM312.2,331.2l2.80,1.62v3.23l-2.80,1.62l-2.80,-1.62v-3.23zM236.6,336.0l2.80,1.62v3.23l-2.80,1.62l-2.80,-1.62v-3.23zM404.6,336.0l2.80,1.62v3.23l-2.80,1.62l-2.80,-1.62v-3.23zM256.2,340.9l2.80,1.62v3.23l-2.80,1.62l-2.80,-1.62v-3.23zM396.2,340.9l2.80,1.62v3.23l-2.80,1.62l-2.80,-1.62v-3.23zM418.6,340.9l2.80,1.62v3.23l-2.80,1.62l-2.80,-1.62v-3.23zM225.4,345.7l2.80,1.62v3.23l-2.80,1.62l-2.80,-1.62v-3.23zM259.0,345.7l2.80,1.62v3.23l-2.80,1.62l-2.80,-1.62v-3.23zM387.8,345.7l2.80,1.62v3.23l-2.80,1.62l-2.80,-1.62v-3.23zM404.6,345.7l2.80,1.62v3.23l-2.80,1.62l-2.80,-1.62v-3.23zM261.8,350.6l2.80,1.62v3.23l-2.80,1.62l-2.80,-1.62v-3.23zM396.2,350.6l2.80,1.62v3.23l-2.80,1.62l-2.80,-1.62v-3.23zM351.4,360.3l2.80,1.62v3.23l-2.80,1.62l-2.80,-1.62v-3.23zM368.2,360.3l2.80,1.62v3.23l-2.80,1.62l-2.80,-1.62v-3.23zM253.4,365.1l2.80,1.62v3.23l-2.80,1.62l-2.80,-1.62v-3.23zM337.4,365.1l2.80,1.62v3.23l-2.80,1.62l-2.80,-1.62v-3.23zM343.0,365.1l2.80,1.62v3.23l-2.80,1.62l-2.80,-1.62v-3.23zM261.8,370.0l2.80,1.62v3.23l-2.80,1.62l-2.80,-1.62v-3.23zM373.8,370.0l2.80,1.62v3.23l-2.80,1.62l-2.80,-1.62v-3.23zM275.8,374.8l2.80,1.62v3.23l-2.80,1.62l-2.80,-1.62v-3.23zM359.8,374.8l2.80,1.62v3.23l-2.80,1.62l-2.80,-1.62v-3.23zM295.4,379.7l2.80,1.62v3.23l-2.80,1.62l-2.80,-1.62v-3.23zM340.2,379.7l2.80,1.62v3.23l-2.80,1.62l-2.80,-1.62v-3.23z"/>
<path fill="#8165f9" stroke="#8165f9" stroke-width="0.5" d="M233.8,185.7l2.80,1.62v3.23l-2.80,1.62l-2.80,-1.62v-3.23zM267.4,185.7l2.80,1.62v3.23l-2.80,1.62l-2.80,-1.62v-3.23zM273.0,185.7l2.80,1.62v3.23l-2.80,1.62l-2.80,-1.62v-3.23zM217.0,195.4l2.80,1.62v3.23l-2.80,1.62l-2.80,-1.62v-3.23zM306.6,195.4l2.80,1.62v3.23l-2.80,1.62l-2.80,-1.62v-3.23zM208.6,200.2l2.80,1.62v3.23l-2.80,1.62l-2.80,-1.62v-3.23zM205.8,205.1l2.80,1.62v3.23l-2.80,1.62l-2.80,-1.62v-3.23zM329.0,205.1l2.80,1.62v3.23l-2.80,1.62l-2.80,-1.62v-3.23zM390.6,205.1l2.80,1.62v3.23l-2.80,1.62l-2.80,-1.62v-3.23zM337.4,209.9l2.80,1.62v3.23l-2.80,1.62l-2.80,-1.62v-3.23zM203.0,219.6l2.80,1.62v3.23l-2.80,1.62l-2.80,-1.62v-3.23zM404.6,219.6l2.80,1.62v3.23l-2.80,1.62l-2.80,-1.62v-3.23zM200.2,234.2l2.80,1.62v3.23l-2.80,1.62l-2.80,-1.62v-3.23zM200.2,243.9l2.80,1.62v3.23l-2.80,1.62l-2.80,-1.62v-3.23zM292.6,248.7l2.80,1.62v3.23l-2.80,1.62l-2.80,-1.62v-3.23zM200.2,253.6l2.80,1.62v3.23l-2.80,1.62l-2.80,-1.62v-3.23zM189.0,263.3l2.80,1.62v3.23l-2.80,1.62l-2.80,-1.62v-3.23zM200.2,263.3l2.80,1.62v3.23l-2.80,1.62l-2.80,-1.62v-3.23zM186.2,268.1l2.80,1.62v3.23l-2.80,1.62l-2.80,-1.62v-3.23zM191.8,268.1l2.80,1.62v3.23l-2.80,1.62l-2.80,-1.62v-3.23zM208.6,277.8l2.80,1.62v3.23l-2.80,1.62l-2.80,-1.62v-3.23zM189.0,282.7l2.80,1.62v3.23l-2.80,1.62l-2.80,-1.62v-3.23zM211.4,282.7l2.80,1.62v3.23l-2.80,1.62l-2.80,-1.62v-3.23zM418.6,292.4l2.80,1.62v3.23l-2.80,1.62l-2.80,-1.62v-3.23zM228.2,302.1l2.80,1.62v3.23l-2.80,1.62l-2.80,-1.62v-3.23zM197.4,306.9l2.80,1.62v3.23l-2.80,1.62l-2.80,-1.62v-3.23zM382.2,306.9l2.80,1.62v3.23l-2.80,1.62l-2.80,-1.62v-3.23zM415.8,306.9l2.80,1.62v3.23l-2.80,1.62l-2.80,-1.62v-3.23zM236.6,316.6l2.80,1.62v3.23l-2.80,1.62l-2.80,-1.62v-3.23zM239.4,321.5l2.80,1.62v3.23l-2.80,1.62l-2.80,-1.62v-3.23zM211.4,331.2l2.80,1.62v3.23l-2.80,1.62l-2.80,-1.62v-3.23zM407.4,331.2l2.80,1.62v3.23l-2.80,1.62l-2.80,-1.62v-3.23zM253.4,336.0l2.80,1.62v3.23l-2.80,1.62l-2.80,-1.62v-3.23zM239.4,340.9l2.80,1.62v3.23l-2.80,1.62l-2.80,-1.62v-3.23zM413.0,340.9l2.80,1.62v3.23l-2.80,1.62l-2.80,-1.62v-3.23zM247.8,345.7l2.80,1.62v3.23l-2.80,1.62l-2.80,-1.62v-3.23zM415.8,345.7l2.80,1.62v3.23l-2.80,1.62l-2.80,-1.62v-3.23zM256.2,350.6l2.80,1.62v3.23l-2.80,1.62l-2.80,-1.62v-3.23zM373.8,350.6l2.80,1.62v3.23l-2.80,1.62l-2.80,-1.62v-3.23zM407.4,350.6l2.80,1.62v3.23l-2.80,1.62l-2.80,-1.62v-3.23zM236.6,355.4l2.80,1.62v3.23l-2.80,1.62l-2.80,-1.62v-3.23zM264.6,355.4l2.80,1.62v3.23l-2.80,1.62l-2.80,-1.62v-3.23zM270.2,355.4l2.80,1.62v3.23l-2.80,1.62l-2.80,-1.62v-3.23zM359.8,355.4l2.80,1.62v3.23l-2.80,1.62l-2.80,-1.62v-3.23zM387.8,355.4l2.80,1.62v3.23l-2.80,1.62l-2.80,-1.62v-3.23zM245.0,360.3l2.80,1.62v3.23l-2.80,1.62l-2.80,-1.62v-3.23zM273.0,360.3l2.80,1.62v3.23l-2.80,1.62l-2.80,-1.62v-3.23zM278.6,360.3l2.80,1.62v3.23l-2.80,1.62l-2.80,-1.62v-3.23zM284.2,360.3l2.80,1.62v3.23l-2.80,1.62l-2.80,-1.62v-3.23zM345.8,360.3l2.80,1.62v3.23l-2.80,1.62l-2.80,-1.62v-3.23zM373.8,360.3l2.80,1.62v3.23l-2.80,1.62l-2.80,-1.62v-3.23zM287.0,365.1l2.80,1.62v3.23l-2.80,1.62l-2.80,-1.62v-3.23zM292.6,365.1l2.80,1.62v3.23l-2.80,1.62l-2.80,-1.62v-3.23zM298.2,365.1l2.80,1.62v3.23l-2.80,1.62l-2.80,-1.62v-3.23zM303.8,365.1l2.80,1.62v3.23l-2.80,1.62l-2.80,-1.62v-3.23zM309.4,365.1l2.80,1.62v3.23l-2.80,1.62l-2.80,-1.62v-3.23zM331.8,365.1l2.80,1.62v3.23l-2.80,1.62l-2.80,-1.62v-3.23zM348.6,365.1l2.80,1.62v3.23l-2.80,1.62l-2.80,-1.62v-3.23zM354.2,365.1l2.80,1.62v3.23l-2.80,1.62l-2.80,-1.62v-3.23zM382.2,365.1l2.80,1.62v3.23l-2.80,1.62l-2.80,-1.62v-3.23zM301.0,379.7l2.80,1.62v3.23l-2.80,1.62l-2.80,-1.62v-3.23zM306.6,379.7l2.80,1.62v3.23l-2.80,1.62l-2.80,-1.62v-3.23zM312.2,379.7l2.80,1.62v3.23l-2.80,1.62l-2.80,-1.62v-3.23zM323.4,379.7l2.80,1.62v3.23l-2.80,1.62l-2.80,-1.62v-3.23zM329.0,379.7l2.80,1.62v3.23l-2.80,1.62l-2.80,-1.62v-3.23zM334.6,379.7l2.80,1.62v3.23l-2.80,1.62l-2.80,-1.62v-3.23z"/>
<path fill="#7460fc" stroke="#7460fc" stroke-width="0.5" d="M239.4,185.7l2.80,1.62v3.23l-2.80,1.62l-2.80,-1.62v-3.23zM261.8,185.7l2.80,1.62v3.23l-2.80,1.62l-2.80,-1.62v-3.23zM292.6,190.5l2.80,1.62v3.23l-2.80,1.62l-2.80,-1.62v-3.23zM205.8,214.8l2.80,1.62v3.23l-2.80,1.62l-2.80,-1.62v-3.23zM413.0,243.9l2.80,1.62v3.23l-2.80,1.62l-2.80,-1.62v-3.23zM203.0,248.7l2.80,1.62v3.23l-2.80,1.62l-2.80,-1.62v-3.23zM203.0,258.4l2.80,1.62v3.23l-2.80,1.62l-2.80,-1.62v-3.23zM203.0,268.1l2.80,1.62v3.23l-2.80,1.62l-2.80,-1.62v-3.23zM189.0,273.0l2.80,1.62v3.23l-2.80,1.62l-2.80,-1.62v-3.23zM205.8,273.0l2.80,1.62v3.23l-2.80,1.62l-2.80,-1.62v-3.23zM418.6,273.0l2.80,1.62v3.23l-2.80,1.62l-2.80,-1.62v-3.23zM191.8,277.8l2.80,1.62v3.23l-2.80,1.62l-2.80,-1.62v-3.23zM194.6,282.7l2.80,1.62v3.23l-2.80,1.62l-2.80,-1.62v-3.23zM191.8,287.5l2.80,1.62v3.23l-2.80,1.62l-2.80,-1.62v-3.23zM197.4,287.5l2.80,1.62v3.23l-2.80,1.62l-2.80,-1.62v-3.23zM219.8,287.5l2.80,1.62v3.23l-2.80,1.62l-2.80,-1.62v-3.23zM194.6,292.4l2.80,1.62v3.23l-2.80,1.62l-2.80,-1.62v-3.23zM200.2,292.4l2.80,1.62v3.23l-2.80,1.62l-2.80,-1.62v-3.23zM222.6,292.4l2.80,1.62v3.23l-2.80,1.62l-2.80,-1.62v-3.23zM197.4,297.2l2.80,1.62v3.23l-2.80,1.62l-2.80,-1.62v-3.23zM203.0,297.2l2.80,1.62v3.23l-2.80,1.62l-2.80,-1.62v-3.23zM225.4,297.2l2.80,1.62v3.23l-2.80,1.62l-2.80,-1.62v-3.23zM200.2,302.1l2.80,1.62v3.23l-2.80,1.62l-2.80,-1.62v-3.23zM205.8,302.1l2.80,1.62v3.23l-2.80,1.62l-2.80,-1.62v-3.23zM203.0,306.9l2.80,1.62v3.23l-2.80,1.62l-2.80,-1.62v-3.23zM208.6,306.9l2.80,1.62v3.23l-2.80,1.62l-2.80,-1.62v-3.23zM231.0,306.9l2.80,1.62v3.23l-2.80,1.62l-2.80,-1.62v-3.23zM200.2,311.8l2.80,1.62v3.23l-2.80,1.62l-2.80,-1.62v-3.23zM205.8,311.8l2.80,1.62v3.23l-2.80,1.62l-2.80,-1.62v-3.23zM211.4,311.8l2.80,1.62v3.23l-2.80,1.62l-2.80,-1.62v-3.23zM233.8,311.8l2.80,1.62v3.23l-2.80,1.62l-2.80,-1.62v-3.23zM284.2,311.8l2.80,1.62v3.23l-2.80,1.62l-2.80,-1.62v-3.23zM203.0,316.6l2.80,1.62v3.23l-2.80,1.62l-2.80,-1.62v-3.23zM208.6,316.6l2.80,1.62v3.23l-2.80,1.62l-2.80,-1.62v-3.23zM214.2,316.6l2.80,1.62v3.23l-2.80,1.62l-2.80,-1.62v-3.23zM205.8,321.5l2.80,1.62v3.23l-2.80,1.62l-2.80,-1.62v-3.23zM211.4,321.5l2.80,1.62v3.23l-2.80,1.62l-2.80,-1.62v-3.23zM217.0,321.5l2.80,1.62v3.23l-2.80,1.62l-2.80,-1.62v-3.23zM208.6,326.3l2.80,1.62v3.23l-2.80,1.62l-2.80,-1.62v-3.23zM214.2,326.3l2.80,1.62v3.23l-2.80,1.62l-2.80,-1.62v-3.23zM219.8,326.3l2.80,1.62v3.23l-2.80,1.62l-2.80,-1.62v-3.23zM247.8,326.3l2.80,1.62v3.23l-2.80,1.62l-2.80,-1.62v-3.23zM217.0,331.2l2.80,1.62v3.23l-2.80,1.62l-2.80,-1.62v-3.23zM222.6,331.2l2.80,1.62v3.23l-2.80,1.62l-2.80,-1.62v-3.23zM228.2,331.2l2.80,1.62v3.23l-2.80,1.62l-2.80,-1.62v-3.23zM250.6,331.2l2.80,1.62v3.23l-2.80,1.62l-2.80,-1.62v-3.23zM219.8,336.0l2.80,1.62v3.23l-2.80,1.62l-2.80,-1.62v-3.23zM225.4,336.0l2.80,1.62v3.23l-2.80,1.62l-2.80,-1.62v-3.23zM231.0,336.0l2.80,1.62v3.23l-2.80,1.62l-2.80,-1.62v-3.23zM399.0,336.0l2.80,1.62v3.23l-2.80,1.62l-2.80,-1.62v-3.23zM222.6,340.9l2.80,1.62v3.23l-2.80,1.62l-2.80,-1.62v-3.23zM228.2,340.9l2.80,1.62v3.23l-2.80,1.62l-2.80,-1.62v-3.23zM233.8,340.9l2.80,1.62v3.23l-2.80,1.62l-2.80,-1.62v-3.23zM231.0,345.7l2.80,1.62v3.23l-2.80,1.62l-2.80,-1.62v-3.23zM236.6,345.7l2.80,1.62v3.23l-2.80,1.62l-2.80,-1.62v-3.23zM242.2,345.7l2.80,1.62v3.23l-2.80,1.62l-2.80,-1.62v-3.23zM264.6,345.7l2.80,1.62v3.23l-2.80,1.62l-2.80,-1.62v-3.23zM410.2,345.7l2.80,1.62v3.23l-2.80,1.62l-2.80,-1.62v-3.23zM233.8,350.6l2.80,1.62v3.23l-2.80,1.62l-2.80,-1.62v-3.23zM239.4,350.6l2.80,1.62v3.23l-2.80,1.62l-2.80,-1.62v-3.23zM245.0,350.6l2.80,1.62v3.23l-2.80,1.62l-2.80,-1.62v-3.23zM250.6,350.6l2.80,1.62v3.23l-2.80,1.62l-2.80,-1.62v-3.23zM267.4,350.6l2.80,1.62v3.23l-2.80,1.62l-2.80,-1.62v-3.23zM401.8,350.6l2.80,1.62v3.23l-2.80,1.62l-2.80,-1.62v-3.23zM242.2,355.4l2.80,1.62v3.23l-2.80,1.62l-2.80,-1.62v-3.23zM247.8,355.4l2.80,1.62v3.23l-2.80,1.62l-2.80,-1.62v-3.23zM253.4,355.4l2.80,1.62v3.23l-2.80,1.62l-2.80,-1.62v-3.23zM259.0,355.4l2.80,1.62v3.23l-2.80,1.62l-2.80,-1.62v-3.23zM275.8,355.4l2.80,1.62v3.23l-2.80,1.62l-2.80,-1.62v-3.23zM393.4,355.4l2.80,1.62v3.23l-2.80,1.62l-2.80,-1.62v-3.23zM399.0,355.4l2.80,1.62v3.23l-2.80,1.62l-2.80,-1.62v-3.23zM250.6,360.3l2.80,1.62v3.23l-2.80,1.62l-2.80,-1.62v-3.23zM256.2,360.3l2.80,1.62v3.23l-2.80,1.62l-2.80,-1.62v-3.23zM261.8,360.3l2.80,1.62v3.23l-2.80,1.62l-2.80,-1.62v-3.23zM267.4,360.3l2.80,1.62v3.23l-2.80,1.62l-2.80,-1.62v-3.23zM289.8,360.3l2.80,1.62v3.23l-2.80,1.62l-2.80,-1.62v-3.23zM379.4,360.3l2.80,1.62v3.23l-2.80,1.62l-2.80,-1.62v-3.23zM385.0,360.3l2.80,1.62v3.23l-2.80,1.62l-2.80,-1.62v-3.23zM390.6,360.3l2.80,1.62v3.23l-2.80,1.62l-2.80,-1.62v-3.23zM259.0,365.1l2.80,1.62v3.23l-2.80,1.62l-2.80,-1.62v-3.23zM264.6,365.1l2.80,1.62v3.23l-2.80,1.62l-2.80,-1.62v-3.23zM270.2,365.1l2.80,1.62v3.23l-2.80,1.62l-2.80,-1.62v-3.23zM275.8,365.1l2.80,1.62v3.23l-2.80,1.62l-2.80,-1.62v-3.23zM281.4,365.1l2.80,1.62v3.23l-2.80,1.62l-2.80,-1.62v-3.23zM315.0,365.1l2.80,1.62v3.23l-2.80,1.62l-2.80,-1.62v-3.23zM320.6,365.1l2.80,1.62v3.23l-2.80,1.62l-2.80,-1.62v-3.23zM326.2,365.1l2.80,1.62v3.23l-2.80,1.62l-2.80,-1.62v-3.23zM359.8,365.1l2.80,1.62v3.23l-2.80,1.62l-2.80,-1.62v-3.23zM365.4,365.1l2.80,1.62v3.23l-2.80,1.62l-2.80,-1.62v-3.23zM371.0,365.1l2.80,1.62v3.23l-2.80,1.62l-2.80,-1.62v-3.23zM376.6,365.1l2.80,1.62v3.23l-2.80,1.62l-2.80,-1.62v-3.23zM267.4,370.0l2.80,1.62v3.23l-2.80,1.62l-2.80,-1.62v-3.23zM273.0,370.0l2.80,1.62v3.23l-2.80,1.62l-2.80,-1.62v-3.23zM278.6,370.0l2.80,1.62v3.23l-2.80,1.62l-2.80,-1.62v-3.23zM284.2,370.0l2.80,1.62v3.23l-2.80,1.62l-2.80,-1.62v-3.23zM289.8,370.0l2.80,1.62v3.23l-2.80,1.62l-2.80,-1.62v-3.23zM295.4,370.0l2.80,1.62v3.23l-2.80,1.62l-2.80,-1.62v-3.23zM301.0,370.0l2.80,1.62v3.23l-2.80,1.62l-2.80,-1.62v-3.23zM306.6,370.0l2.80,1.62v3.23l-2.80,1.62l-2.80,-1.62v-3.23zM312.2,370.0l2.80,1.62v3.23l-2.80,1.62l-2.80,-1.62v-3.23zM317.8,370.0l2.80,1.62v3.23l-2.80,1.62l-2.80,-1.62v-3.23zM323.4,370.0l2.80,1.62v3.23l-2.80,1.62l-2.80,-1.62v-3.23zM329.0,370.0l2.80,1.62v3.23l-2.80,1.62l-2.80,-1.62v-3.23zM334.6,370.0l2.80,1.62v3.23l-2.80,1.62l-2.80,-1.62v-3.23zM340.2,370.0l2.80,1.62v3.23l-2.80,1.62l-2.80,-1.62v-3.23zM345.8,370.0l2.80,1.62v3.23l-2.80,1.62l-2.80,-1.62v-3.23zM351.4,370.0l2.80,1.62v3.23l-2.80,1.62l-2.80,-1.62v-3.23zM357.0,370.0l2.80,1.62v3.23l-2.80,1.62l-2.80,-1.62v-3.23zM362.6,370.0l2.80,1.62v3.23l-2.80,1.62l-2.80,-1.62v-3.23zM368.2,370.0l2.80,1.62v3.23l-2.80,1.62l-2.80,-1.62v-3.23zM281.4,374.8l2.80,1.62v3.23l-2.80,1.62l-2.80,-1.62v-3.23zM287.0,374.8l2.80,1.62v3.23l-2.80,1.62l-2.80,-1.62v-3.23zM292.6,374.8l2.80,1.62v3.23l-2.80,1.62l-2.80,-1.62v-3.23zM298.2,374.8l2.80,1.62v3.23l-2.80,1.62l-2.80,-1.62v-3.23zM303.8,374.8l2.80,1.62v3.23l-2.80,1.62l-2.80,-1.62v-3.23zM309.4,374.8l2.80,1.62v3.23l-2.80,1.62l-2.80,-1.62v-3.23zM315.0,374.8l2.80,1.62v3.23l-2.80,1.62l-2.80,-1.62v-3.23zM320.6,374.8l2.80,1.62v3.23l-2.80,1.62l-2.80,-1.62v-3.23zM326.2,374.8l2.80,1.62v3.23l-2.80,1.62l-2.80,-1.62v-3.23zM331.8,374.8l2.80,1.62v3.23l-2.80,1.62l-2.80,-1.62v-3.23zM337.4,374.8l2.80,1.62v3.23l-2.80,1.62l-2.80,-1.62v-3.23zM343.0,374.8l2.80,1.62v3.23l-2.80,1.62l-2.80,-1.62v-3.23zM348.6,374.8l2.80,1.62v3.23l-2.80,1.62l-2.80,-1.62v-3.23zM354.2,374.8l2.80,1.62v3.23l-2.80,1.62l-2.80,-1.62v-3.23zM317.8,379.7l2.80,1.62v3.23l-2.80,1.62l-2.80,-1.62v-3.23z"/>
<path fill="#675bfe" stroke="#675bfe" stroke-width="0.5" d="M245.0,185.7l2.80,1.62v3.23l-2.80,1.62l-2.80,-1.62v-3.23zM250.6,185.7l2.80,1.62v3.23l-2.80,1.62l-2.80,-1.62v-3.23zM256.2,185.7l2.80,1.62v3.23l-2.80,1.62l-2.80,-1.62v-3.23zM225.4,190.5l2.80,1.62v3.23l-2.80,1.62l-2.80,-1.62v-3.23zM222.6,195.4l2.80,1.62v3.23l-2.80,1.62l-2.80,-1.62v-3.23zM214.2,200.2l2.80,1.62v3.23l-2.80,1.62l-2.80,-1.62v-3.23zM211.4,205.1l2.80,1.62v3.23l-2.80,1.62l-2.80,-1.62v-3.23zM208.6,209.9l2.80,1.62v3.23l-2.80,1.62l-2.80,-1.62v-3.23zM203.0,229.3l2.80,1.62v3.23l-2.80,1.62l-2.80,-1.62v-3.23zM203.0,239.0l2.80,1.62v3.23l-2.80,1.62l-2.80,-1.62v-3.23zM205.8,253.6l2.80,1.62v3.23l-2.80,1.62l-2.80,-1.62v-3.23zM205.8,263.3l2.80,1.62v3.23l-2.80,1.62l-2.80,-1.62v-3.23zM208.6,268.1l2.80,1.62v3.23l-2.80,1.62l-2.80,-1.62v-3.23zM211.4,273.0l2.80,1.62v3.23l-2.80,1.62l-2.80,-1.62v-3.23zM214.2,277.8l2.80,1.62v3.23l-2.80,1.62l-2.80,-1.62v-3.23zM217.0,282.7l2.80,1.62v3.23l-2.80,1.62l-2.80,-1.62v-3.23zM418.6,282.7l2.80,1.62v3.23l-2.80,1.62l-2.80,-1.62v-3.23zM231.0,297.2l2.80,1.62v3.23l-2.80,1.62l-2.80,-1.62v-3.23zM233.8,302.1l2.80,1.62v3.23l-2.80,1.62l-2.80,-1.62v-3.23zM236.6,306.9l2.80,1.62v3.23l-2.80,1.62l-2.80,-1.62v-3.23zM239.4,311.8l2.80,1.62v3.23l-2.80,1.62l-2.80,-1.62v-3.23zM413.0,311.8l2.80,1.62v3.23l-2.80,1.62l-2.80,-1.62v-3.23zM242.2,316.6l2.80,1.62v3.23l-2.80,1.62l-2.80,-1.62v-3.23zM245.0,321.5l2.80,1.62v3.23l-2.80,1.62l-2.80,-1.62v-3.23zM407.4,321.5l2.80,1.62v3.23l-2.80,1.62l-2.80,-1.62v-3.23zM401.8,331.2l2.80,1.62v3.23l-2.80,1.62l-2.80,-1.62v-3.23zM261.8,340.9l2.80,1.62v3.23l-2.80,1.62l-2.80,-1.62v-3.23zM390.6,340.9l2.80,1.62v3.23l-2.80,1.62l-2.80,-1.62v-3.23zM382.2,345.7l2.80,1.62v3.23l-2.80,1.62l-2.80,-1.62v-3.23zM273.0,350.6l2.80,1.62v3.23l-2.80,1.62l-2.80,-1.62v-3.23zM281.4,355.4l2.80,1.62v3.23l-2.80,1.62l-2.80,-1.62v-3.23zM295.4,360.3l2.80,1.62v3.23l-2.80,1.62l-2.80,-1.62v-3.23zM301.0,360.3l2.80,1.62v3.23l-2.80,1.62l-2.80,-1.62v-3.23zM340.2,360.3l2.80,1.62v3.23l-2.80,1.62l-2.80,-1.62v-3.23z"/>
<path fill="#5955ff" stroke="#5955ff" stroke-width="0.5" d="M231.0,190.5l2.80,1.62v3.23l-2.80,1.62l-2.80,-1.62v-3.23zM281.4,190.5l2.80,1.62v3.23l-2.80,1.62l-2.80,-1.62v-3.23zM287.0,190.5l2.80,1.62v3.23l-2.80,1.62l-2.80,-1.62v-3.23zM228.2,195.4l2.80,1.62v3.23l-2.80,1.62l-2.80,-1.62v-3.23zM301.0,195.4l2.80,1.62v3.23l-2.80,1.62l-2.80,-1.62v-3.23zM219.8,200.2l2.80,1.62v3.23l-2.80,1.62l-2.80,-1.62v-3.23zM315.0,200.2l2.80,1.62v3.23l-2.80,1.62l-2.80,-1.62v-3.23zM415.8,258.4l2.80,1.62v3.23l-2.80,1.62l-2.80,-1.62v-3.23zM228.2,292.4l2.80,1.62v3.23l-2.80,1.62l-2.80,-1.62v-3.23zM275.8,297.2l2.80,1.62v3.23l-2.80,1.62l-2.80,-1.62v-3.23zM404.6,326.3l2.80,1.62v3.23l-2.80,1.62l-2.80,-1.62v-3.23zM259.0,336.0l2.80,1.62v3.23l-2.80,1.62l-2.80,-1.62v-3.23zM270.2,345.7l2.80,1.62v3.23l-2.80,1.62l-2.80,-1.62v-3.23zM278.6,350.6l2.80,1.62v3.23l-2.80,1.62l-2.80,-1.62v-3.23zM368.2,350.6l2.80,1.62v3.23l-2.80,1.62l-2.80,-1.62v-3.23zM287.0,355.4l2.80,1.62v3.23l-2.80,1.62l-2.80,-1.62v-3.23zM306.6,360.3l2.80,1.62v3.23l-2.80,1.62l-2.80,-1.62v-3.23zM312.2,360.3l2.80,1.62v3.23l-2.80,1.62l-2.80,-1.62v-3.23zM329.0,360.3l2.80,1.62v3.23l-2.80,1.62l-2.80,-1.62v-3.23zM334.6,360.3l2.80,1.62v3.23l-2.80,1.62l-2.80,-1.62v-3.23z"/>
<path fill="#4c50ff" stroke="#4c50ff" stroke-width="0.5" d="M236.6,190.5l2.80,1.62v3.23l-2.80,1.62l-2.80,-1.62v-3.23zM242.2,190.5l2.80,1.62v3.23l-2.80,1.62l-2.80,-1.62v-3.23zM247.8,190.5l2.80,1.62v3.23l-2.80,1.62l-2.80,-1.62v-3.23zM253.4,190.5l2.80,1.62v3.23l-2.80,1.62l-2.80,-1.62v-3.23zM259.0,190.5l2.80,1.62v3.23l-2.80,1.62l-2.80,-1.62v-3.23zM264.6,190.5l2.80,1.62v3.23l-2.80,1.62l-2.80,-1.62v-3.23zM270.2,190.5l2.80,1.62v3.23l-2.80,1.62l-2.80,-1.62v-3.23zM275.8,190.5l2.80,1.62v3.23l-2.80,1.62l-2.80,-1.62v-3.23zM233.8,195.4l2.80,1.62v3.23l-2.80,1.62l-2.80,-1.62v-3.23zM373.8,205.1l2.80,1.62v3.23l-2.80,1.62l-2.80,-1.62v-3.23zM365.4,209.9l2.80,1.62v3.23l-2.80,1.62l-2.80,-1.62v-3.23zM208.6,219.6l2.80,1.62v3.23l-2.80,1.62l-2.80,-1.62v-3.23zM205.8,224.5l2.80,1.62v3.23l-2.80,1.62l-2.80,-1.62v-3.23zM208.6,258.4l2.80,1.62v3.23l-2.80,1.62l-2.80,-1.62v-3.23zM410.2,316.6l2.80,1.62v3.23l-2.80,1.62l-2.80,-1.62v-3.23zM256.2,331.2l2.80,1.62v3.23l-2.80,1.62l-2.80,-1.62v-3.23zM354.2,355.4l2.80,1.62v3.23l-2.80,1.62l-2.80,-1.62v-3.23zM317.8,360.3l2.80,1.62v3.23l-2.80,1.62l-2.80,-1.62v-3.23zM323.4,360.3l2.80,1.62v3.23l-2.80,1.62l-2.80,-1.62v-3.23z"/>
<path fill="#3f4bff" stroke="#3f4bff" stroke-width="0.5" d="M239.4,195.4l2.80,1.62v3.23l-2.80,1.62l-2.80,-1.62v-3.23zM245.0,195.4l2.80,1.62v3.23l-2.80,1.62l-2.80,-1.62v-3.23zM295.4,195.4l2.80,1.62v3.23l-2.80,1.62l-2.80,-1.62v-3.23zM225.4,200.2l2.80,1.62v3.23l-2.80,1.62l-2.80,-1.62v-3.23zM217.0,205.1l2.80,1.62v3.23l-2.80,1.62l-2.80,-1.62v-3.23zM214.2,209.9l2.80,1.62v3.23l-2.80,1.62l-2.80,-1.62v-3.23zM393.4,209.9l2.80,1.62v3.23l-2.80,1.62l-2.80,-1.62v-3.23zM211.4,214.8l2.80,1.62v3.23l-2.80,1.62l-2.80,-1.62v-3.23zM365.4,239.0l2.80,1.62v3.23l-2.80,1.62l-2.80,-1.62v-3.23zM410.2,239.0l2.80,1.62v3.23l-2.80,1.62l-2.80,-1.62v-3.23zM205.8,243.9l2.80,1.62v3.23l-2.80,1.62l-2.80,-1.62v-3.23z"/>
<path fill="#3245ff" stroke="#3245ff" stroke-width="0.5" d="M250.6,195.4l2.80,1.62v3.23l-2.80,1.62l-2.80,-1.62v-3.23zM256.2,195.4l2.80,1.62v3.23l-2.80,1.62l-2.80,-1.62v-3.23zM261.8,195.4l2.80,1.62v3.23l-2.80,1.62l-2.80,-1.62v-3.23zM278.6,195.4l2.80,1.62v3.23l-2.80,1.62l-2.80,-1.62v-3.23zM284.2,195.4l2.80,1.62v3.23l-2.80,1.62l-2.80,-1.62v-3.23zM289.8,195.4l2.80,1.62v3.23l-2.80,1.62l-2.80,-1.62v-3.23zM309.4,200.2l2.80,1.62v3.23l-2.80,1.62l-2.80,-1.62v-3.23zM323.4,205.1l2.80,1.62v3.23l-2.80,1.62l-2.80,-1.62v-3.23zM379.4,205.1l2.80,1.62v3.23l-2.80,1.62l-2.80,-1.62v-3.23zM385.0,205.1l2.80,1.62v3.23l-2.80,1.62l-2.80,-1.62v-3.23zM205.8,234.2l2.80,1.62v3.23l-2.80,1.62l-2.80,-1.62v-3.23zM415.8,297.2l2.80,1.62v3.23l-2.80,1.62l-2.80,-1.62v-3.23zM239.4,302.1l2.80,1.62v3.23l-2.80,1.62l-2.80,-1.62v-3.23zM242.2,306.9l2.80,1.62v3.23l-2.80,1.62l-2.80,-1.62v-3.23zM292.6,355.4l2.80,1.62v3.23l-2.80,1.62l-2.80,-1.62v-3.23z"/>
<path fill="#253eff" stroke="#253eff" stroke-width="0.5" d="M267.4,195.4l2.80,1.62v3.23l-2.80,1.62l-2.80,-1.62v-3.23zM273.0,195.4l2.80,1.62v3.23l-2.80,1.62l-2.80,-1.62v-3.23zM231.0,200.2l2.80,1.62v3.23l-2.80,1.62l-2.80,-1.62v-3.23zM331.8,209.9l2.80,1.62v3.23l-2.80,1.62l-2.80,-1.62v-3.23zM345.8,214.8l2.80,1.62v3.23l-2.80,1.62l-2.80,-1.62v-3.23zM351.4,214.8l2.80,1.62v3.23l-2.80,1.62l-2.80,-1.62v-3.23zM278.6,234.2l2.80,1.62v3.23l-2.80,1.62l-2.80,-1.62v-3.23zM407.4,234.2l2.80,1.62v3.23l-2.80,1.62l-2.80,-1.62v-3.23zM225.4,287.5l2.80,1.62v3.23l-2.80,1.62l-2.80,-1.62v-3.23zM253.4,326.3l2.80,1.62v3.23l-2.80,1.62l-2.80,-1.62v-3.23zM376.6,345.7l2.80,1.62v3.23l-2.80,1.62l-2.80,-1.62v-3.23z"/>
<path fill="#1838ff" stroke="#1838ff" stroke-width="0.5" d="M236.6,200.2l2.80,1.62v3.23l-2.80,1.62l-2.80,-1.62v-3.23zM303.8,200.2l2.80,1.62v3.23l-2.80,1.62l-2.80,-1.62v-3.23zM396.2,214.8l2.80,1.62v3.23l-2.80,1.62l-2.80,-1.62v-3.23zM259.0,287.5l2.80,1.62v3.23l-2.80,1.62l-2.80,-1.62v-3.23zM245.0,311.8l2.80,1.62v3.23l-2.80,1.62l-2.80,-1.62v-3.23zM250.6,321.5l2.80,1.62v3.23l-2.80,1.62l-2.80,-1.62v-3.23zM393.4,336.0l2.80,1.62v3.23l-2.80,1.62l-2.80,-1.62v-3.23z"/>
<path fill="#1138ff" stroke="#1138ff" stroke-width="0.5" d="M242.2,200.2l2.80,1.62v3.23l-2.80,1.62l-2.80,-1.62v-3.23zM298.2,200.2l2.80,1.62v3.23l-2.80,1.62l-2.80,-1.62v-3.23zM222.6,205.1l2.80,1.62v3.23l-2.80,1.62l-2.80,-1.62v-3.23zM317.8,205.1l2.80,1.62v3.23l-2.80,1.62l-2.80,-1.62v-3.23zM387.8,209.9l2.80,1.62v3.23l-2.80,1.62l-2.80,-1.62v-3.23zM399.0,219.6l2.80,1.62v3.23l-2.80,1.62l-2.80,-1.62v-3.23zM208.6,229.3l2.80,1.62v3.23l-2.80,1.62l-2.80,-1.62v-3.23zM404.6,229.3l2.80,1.62v3.23l-2.80,1.62l-2.80,-1.62v-3.23zM208.6,239.0l2.80,1.62v3.23l-2.80,1.62l-2.80,-1.62v-3.23zM208.6,248.7l2.80,1.62v3.23l-2.80,1.62l-2.80,-1.62v-3.23zM211.4,263.3l2.80,1.62v3.23l-2.80,1.62l-2.80,-1.62v-3.23zM415.8,268.1l2.80,1.62v3.23l-2.80,1.62l-2.80,-1.62v-3.23zM264.6,287.5l2.80,1.62v3.23l-2.80,1.62l-2.80,-1.62v-3.23zM247.8,316.6l2.80,1.62v3.23l-2.80,1.62l-2.80,-1.62v-3.23z"/>
<path fill="#0a38ff" stroke="#0a38ff" stroke-width="0.5" d="M247.8,200.2l2.80,1.62v3.23l-2.80,1.62l-2.80,-1.62v-3.23zM253.4,200.2l2.80,1.62v3.23l-2.80,1.62l-2.80,-1.62v-3.23zM259.0,200.2l2.80,1.62v3.23l-2.80,1.62l-2.80,-1.62v-3.23zM264.6,200.2l2.80,1.62v3.23l-2.80,1.62l-2.80,-1.62v-3.23zM270.2,200.2l2.80,1.62v3.23l-2.80,1.62l-2.80,-1.62v-3.23zM275.8,200.2l2.80,1.62v3.23l-2.80,1.62l-2.80,-1.62v-3.23zM281.4,200.2l2.80,1.62v3.23l-2.80,1.62l-2.80,-1.62v-3.23zM287.0,200.2l2.80,1.62v3.23l-2.80,1.62l-2.80,-1.62v-3.23zM292.6,200.2l2.80,1.62v3.23l-2.80,1.62l-2.80,-1.62v-3.23zM228.2,205.1l2.80,1.62v3.23l-2.80,1.62l-2.80,-1.62v-3.23zM233.8,205.1l2.80,1.62v3.23l-2.80,1.62l-2.80,-1.62v-3.23zM239.4,205.1l2.80,1.62v3.23l-2.80,1.62l-2.80,-1.62v-3.23zM295.4,205.1l2.80,1.62v3.23l-2.80,1.62l-2.80,-1.62v-3.23zM301.0,205.1l2.80,1.62v3.23l-2.80,1.62l-2.80,-1.62v-3.23zM306.6,205.1l2.80,1.62v3.23l-2.80,1.62l-2.80,-1.62v-3.23zM312.2,205.1l2.80,1.62v3.23l-2.80,1.62l-2.80,-1.62v-3.23zM219.8,209.9l2.80,1.62v3.23l-2.80,1.62l-2.80,-1.62v-3.23zM225.4,209.9l2.80,1.62v3.23l-2.80,1.62l-2.80,-1.62v-3.23zM303.8,209.9l2.80,1.62v3.23l-2.80,1.62l-2.80,-1.62v-3.23zM309.4,209.9l2.80,1.62v3.23l-2.80,1.62l-2.80,-1.62v-3.23zM371.0,209.9l2.80,1.62v3.23l-2.80,1.62l-2.80,-1.62v-3.23zM382.2,209.9l2.80,1.62v3.23l-2.80,1.62l-2.80,-1.62v-3.23zM217.0,214.8l2.80,1.62v3.23l-2.80,1.62l-2.80,-1.62v-3.23zM357.0,214.8l2.80,1.62v3.23l-2.80,1.62l-2.80,-1.62v-3.23zM214.2,219.6l2.80,1.62v3.23l-2.80,1.62l-2.80,-1.62v-3.23zM211.4,224.5l2.80,1.62v3.23l-2.80,1.62l-2.80,-1.62v-3.23zM401.8,224.5l2.80,1.62v3.23l-2.80,1.62l-2.80,-1.62v-3.23zM289.8,243.9l2.80,1.62v3.23l-2.80,1.62l-2.80,-1.62v-3.23zM413.0,253.6l2.80,1.62v3.23l-2.80,1.62l-2.80,-1.62v-3.23zM233.8,273.0l2.80,1.62v3.23l-2.80,1.62l-2.80,-1.62v-3.23zM385.0,302.1l2.80,1.62v3.23l-2.80,1.62l-2.80,-1.62v-3.23zM351.4,331.2l2.80,1.62v3.23l-2.80,1.62l-2.80,-1.62v-3.23zM267.4,340.9l2.80,1.62v3.23l-2.80,1.62l-2.80,-1.62v-3.23zM385.0,340.9l2.80,1.62v3.23l-2.80,1.62l-2.80,-1.62v-3.23zM284.2,350.6l2.80,1.62v3.23l-2.80,1.62l-2.80,-1.62v-3.23zM348.6,355.4l2.80,1.62v3.23l-2.80,1.62l-2.80,-1.62v-3.23z"/>
<path fill="#083fff" stroke="#083fff" stroke-width="0.5" d="M245.0,205.1l2.80,1.62v3.23l-2.80,1.62l-2.80,-1.62v-3.23zM284.2,205.1l2.80,1.62v3.23l-2.80,1.62l-2.80,-1.62v-3.23zM289.8,205.1l2.80,1.62v3.23l-2.80,1.62l-2.80,-1.62v-3.23zM231.0,209.9l2.80,1.62v3.23l-2.80,1.62l-2.80,-1.62v-3.23zM298.2,209.9l2.80,1.62v3.23l-2.80,1.62l-2.80,-1.62v-3.23zM315.0,209.9l2.80,1.62v3.23l-2.80,1.62l-2.80,-1.62v-3.23zM320.6,209.9l2.80,1.62v3.23l-2.80,1.62l-2.80,-1.62v-3.23zM326.2,209.9l2.80,1.62v3.23l-2.80,1.62l-2.80,-1.62v-3.23zM376.6,209.9l2.80,1.62v3.23l-2.80,1.62l-2.80,-1.62v-3.23zM222.6,214.8l2.80,1.62v3.23l-2.80,1.62l-2.80,-1.62v-3.23zM306.6,214.8l2.80,1.62v3.23l-2.80,1.62l-2.80,-1.62v-3.23zM390.6,214.8l2.80,1.62v3.23l-2.80,1.62l-2.80,-1.62v-3.23zM337.4,239.0l2.80,1.62v3.23l-2.80,1.62l-2.80,-1.62v-3.23zM253.4,287.5l2.80,1.62v3.23l-2.80,1.62l-2.80,-1.62v-3.23zM415.8,287.5l2.80,1.62v3.23l-2.80,1.62l-2.80,-1.62v-3.23zM236.6,297.2l2.80,1.62v3.23l-2.80,1.62l-2.80,-1.62v-3.23z"/>
<path fill="#0949ff" stroke="#0949ff" stroke-width="0.5" d="M250.6,205.1l2.80,1.62v3.23l-2.80,1.62l-2.80,-1.62v-3.23zM256.2,205.1l2.80,1.62v3.23l-2.80,1.62l-2.80,-1.62v-3.23zM261.8,205.1l2.80,1.62v3.23l-2.80,1.62l-2.80,-1.62v-3.23zM267.4,205.1l2.80,1.62v3.23l-2.80,1.62l-2.80,-1.62v-3.23zM273.0,205.1l2.80,1.62v3.23l-2.80,1.62l-2.80,-1.62v-3.23zM278.6,205.1l2.80,1.62v3.23l-2.80,1.62l-2.80,-1.62v-3.23zM236.6,209.9l2.80,1.62v3.23l-2.80,1.62l-2.80,-1.62v-3.23zM292.6,209.9l2.80,1.62v3.23l-2.80,1.62l-2.80,-1.62v-3.23zM312.2,214.8l2.80,1.62v3.23l-2.80,1.62l-2.80,-1.62v-3.23zM385.0,214.8l2.80,1.62v3.23l-2.80,1.62l-2.80,-1.62v-3.23zM219.8,219.6l2.80,1.62v3.23l-2.80,1.62l-2.80,-1.62v-3.23zM393.4,219.6l2.80,1.62v3.23l-2.80,1.62l-2.80,-1.62v-3.23zM217.0,224.5l2.80,1.62v3.23l-2.80,1.62l-2.80,-1.62v-3.23zM214.2,229.3l2.80,1.62v3.23l-2.80,1.62l-2.80,-1.62v-3.23zM211.4,234.2l2.80,1.62v3.23l-2.80,1.62l-2.80,-1.62v-3.23zM415.8,277.8l2.80,1.62v3.23l-2.80,1.62l-2.80,-1.62v-3.23zM298.2,355.4l2.80,1.62v3.23l-2.80,1.62l-2.80,-1.62v-3.23z"/>
<path fill="#0a53ff" stroke="#0a53ff" stroke-width="0.5" d="M228.2,214.8l2.80,1.62v3.23l-2.80,1.62l-2.80,-1.62v-3.23zM301.0,214.8l2.80,1.62v3.23l-2.80,1.62l-2.80,-1.62v-3.23zM317.8,214.8l2.80,1.62v3.23l-2.80,1.62l-2.80,-1.62v-3.23zM340.2,214.8l2.80,1.62v3.23l-2.80,1.62l-2.80,-1.62v-3.23zM239.4,234.2l2.80,1.62v3.23l-2.80,1.62l-2.80,-1.62v-3.23zM413.0,302.1l2.80,1.62v3.23l-2.80,1.62l-2.80,-1.62v-3.23zM362.6,350.6l2.80,1.62v3.23l-2.80,1.62l-2.80,-1.62v-3.23z"/>
<path fill="#0b5bff" stroke="#0b5bff" stroke-width="0.5" d="M242.2,209.9l2.80,1.62v3.23l-2.80,1.62l-2.80,-1.62v-3.23zM287.0,209.9l2.80,1.62v3.23l-2.80,1.62l-2.80,-1.62v-3.23zM323.4,214.8l2.80,1.62v3.23l-2.80,1.62l-2.80,-1.62v-3.23zM379.4,214.8l2.80,1.62v3.23l-2.80,1.62l-2.80,-1.62v-3.23zM396.2,224.5l2.80,1.62v3.23l-2.80,1.62l-2.80,-1.62v-3.23zM410.2,248.7l2.80,1.62v3.23l-2.80,1.62l-2.80,-1.62v-3.23zM214.2,268.1l2.80,1.62v3.23l-2.80,1.62l-2.80,-1.62v-3.23zM390.6,273.0l2.80,1.62v3.23l-2.80,1.62l-2.80,-1.62v-3.23zM222.6,282.7l2.80,1.62v3.23l-2.80,1.62l-2.80,-1.62v-3.23zM275.8,345.7l2.80,1.62v3.23l-2.80,1.62l-2.80,-1.62v-3.23z"/>
<path fill="#0c60ff" stroke="#0c60ff" stroke-width="0.5" d="M329.0,214.8l2.80,1.62v3.23l-2.80,1.62l-2.80,-1.62v-3.23zM334.6,214.8l2.80,1.62v3.23l-2.80,1.62l-2.80,-1.62v-3.23zM303.8,219.6l2.80,1.62v3.23l-2.80,1.62l-2.80,-1.62v-3.23zM387.8,219.6l2.80,1.62v3.23l-2.80,1.62l-2.80,-1.62v-3.23zM407.4,243.9l2.80,1.62v3.23l-2.80,1.62l-2.80,-1.62v-3.23zM390.6,282.7l2.80,1.62v3.23l-2.80,1.62l-2.80,-1.62v-3.23z"/>
<path fill="#0d65ff" stroke="#0d65ff" stroke-width="0.5" d="M247.8,209.9l2.80,1.62v3.23l-2.80,1.62l-2.80,-1.62v-3.23zM281.4,209.9l2.80,1.62v3.23l-2.80,1.62l-2.80,-1.62v-3.23zM295.4,214.8l2.80,1.62v3.23l-2.80,1.62l-2.80,-1.62v-3.23zM373.8,214.8l2.80,1.62v3.23l-2.80,1.62l-2.80,-1.62v-3.23zM225.4,219.6l2.80,1.62v3.23l-2.80,1.62l-2.80,-1.62v-3.23zM309.4,219.6l2.80,1.62v3.23l-2.80,1.62l-2.80,-1.62v-3.23zM399.0,229.3l2.80,1.62v3.23l-2.80,1.62l-2.80,-1.62v-3.23zM401.8,234.2l2.80,1.62v3.23l-2.80,1.62l-2.80,-1.62v-3.23zM404.6,239.0l2.80,1.62v3.23l-2.80,1.62l-2.80,-1.62v-3.23zM211.4,243.9l2.80,1.62v3.23l-2.80,1.62l-2.80,-1.62v-3.23zM303.8,258.4l2.80,1.62v3.23l-2.80,1.62l-2.80,-1.62v-3.23zM231.0,268.1l2.80,1.62v3.23l-2.80,1.62l-2.80,-1.62v-3.23zM410.2,306.9l2.80,1.62v3.23l-2.80,1.62l-2.80,-1.62v-3.23zM287.0,316.6l2.80,1.62v3.23l-2.80,1.62l-2.80,-1.62v-3.23zM264.6,336.0l2.80,1.62v3.23l-2.80,1.62l-2.80,-1.62v-3.23zM343.0,355.4l2.80,1.62v3.23l-2.80,1.62l-2.80,-1.62v-3.23z"/>
<path fill="#0f6fff" stroke="#0f6fff" stroke-width="0.5" d="M253.4,209.9l2.80,1.62v3.23l-2.80,1.62l-2.80,-1.62v-3.23zM264.6,209.9l2.80,1.62v3.23l-2.80,1.62l-2.80,-1.62v-3.23zM270.2,209.9l2.80,1.62v3.23l-2.80,1.62l-2.80,-1.62v-3.23zM275.8,209.9l2.80,1.62v3.23l-2.80,1.62l-2.80,-1.62v-3.23zM233.8,214.8l2.80,1.62v3.23l-2.80,1.62l-2.80,-1.62v-3.23zM362.6,214.8l2.80,1.62v3.23l-2.80,1.62l-2.80,-1.62v-3.23zM368.2,214.8l2.80,1.62v3.23l-2.80,1.62l-2.80,-1.62v-3.23zM315.0,219.6l2.80,1.62v3.23l-2.80,1.62l-2.80,-1.62v-3.23zM214.2,239.0l2.80,1.62v3.23l-2.80,1.62l-2.80,-1.62v-3.23zM317.8,243.9l2.80,1.62v3.23l-2.80,1.62l-2.80,-1.62v-3.23zM211.4,253.6l2.80,1.62v3.23l-2.80,1.62l-2.80,-1.62v-3.23zM413.0,263.3l2.80,1.62v3.23l-2.80,1.62l-2.80,-1.62v-3.23zM217.0,273.0l2.80,1.62v3.23l-2.80,1.62l-2.80,-1.62v-3.23zM413.0,292.4l2.80,1.62v3.23l-2.80,1.62l-2.80,-1.62v-3.23zM407.4,311.8l2.80,1.62v3.23l-2.80,1.62l-2.80,-1.62v-3.23zM365.4,326.3l2.80,1.62v3.23l-2.80,1.62l-2.80,-1.62v-3.23zM303.8,355.4l2.80,1.62v3.23l-2.80,1.62l-2.80,-1.62v-3.23z"/>
<path fill="#1078ff" stroke="#1078ff" stroke-width="0.5" d="M259.0,209.9l2.80,1.62v3.23l-2.80,1.62l-2.80,-1.62v-3.23zM289.8,214.8l2.80,1.62v3.23l-2.80,1.62l-2.80,-1.62v-3.23zM320.6,219.6l2.80,1.62v3.23l-2.80,1.62l-2.80,-1.62v-3.23zM326.2,219.6l2.80,1.62v3.23l-2.80,1.62l-2.80,-1.62v-3.23zM331.8,219.6l2.80,1.62v3.23l-2.80,1.62l-2.80,-1.62v-3.23zM343.0,219.6l2.80,1.62v3.23l-2.80,1.62l-2.80,-1.62v-3.23zM222.6,224.5l2.80,1.62v3.23l-2.80,1.62l-2.80,-1.62v-3.23zM390.6,224.5l2.80,1.62v3.23l-2.80,1.62l-2.80,-1.62v-3.23zM217.0,234.2l2.80,1.62v3.23l-2.80,1.62l-2.80,-1.62v-3.23zM287.0,239.0l2.80,1.62v3.23l-2.80,1.62l-2.80,-1.62v-3.23zM371.0,239.0l2.80,1.62v3.23l-2.80,1.62l-2.80,-1.62v-3.23zM382.2,248.7l2.80,1.62v3.23l-2.80,1.62l-2.80,-1.62v-3.23zM228.2,253.6l2.80,1.62v3.23l-2.80,1.62l-2.80,-1.62v-3.23zM385.0,253.6l2.80,1.62v3.23l-2.80,1.62l-2.80,-1.62v-3.23zM219.8,277.8l2.80,1.62v3.23l-2.80,1.62l-2.80,-1.62v-3.23zM236.6,277.8l2.80,1.62v3.23l-2.80,1.62l-2.80,-1.62v-3.23zM270.2,287.5l2.80,1.62v3.23l-2.80,1.62l-2.80,-1.62v-3.23zM233.8,292.4l2.80,1.62v3.23l-2.80,1.62l-2.80,-1.62v-3.23zM273.0,292.4l2.80,1.62v3.23l-2.80,1.62l-2.80,-1.62v-3.23zM404.6,316.6l2.80,1.62v3.23l-2.80,1.62l-2.80,-1.62v-3.23zM373.8,321.5l2.80,1.62v3.23l-2.80,1.62l-2.80,-1.62v-3.23zM401.8,321.5l2.80,1.62v3.23l-2.80,1.62l-2.80,-1.62v-3.23zM399.0,326.3l2.80,1.62v3.23l-2.80,1.62l-2.80,-1.62v-3.23zM261.8,331.2l2.80,1.62v3.23l-2.80,1.62l-2.80,-1.62v-3.23zM396.2,331.2l2.80,1.62v3.23l-2.80,1.62l-2.80,-1.62v-3.23zM273.0,340.9l2.80,1.62v3.23l-2.80,1.62l-2.80,-1.62v-3.23zM289.8,350.6l2.80,1.62v3.23l-2.80,1.62l-2.80,-1.62v-3.23z"/>
<path fill="#137fff" stroke="#137fff" stroke-width="0.5" d="M239.4,214.8l2.80,1.62v3.23l-2.80,1.62l-2.80,-1.62v-3.23zM298.2,219.6l2.80,1.62v3.23l-2.80,1.62l-2.80,-1.62v-3.23zM337.4,219.6l2.80,1.62v3.23l-2.80,1.62l-2.80,-1.62v-3.23zM348.6,219.6l2.80,1.62v3.23l-2.80,1.62l-2.80,-1.62v-3.23zM382.2,219.6l2.80,1.62v3.23l-2.80,1.62l-2.80,-1.62v-3.23zM306.6,224.5l2.80,1.62v3.23l-2.80,1.62l-2.80,-1.62v-3.23zM219.8,229.3l2.80,1.62v3.23l-2.80,1.62l-2.80,-1.62v-3.23zM259.0,229.3l2.80,1.62v3.23l-2.80,1.62l-2.80,-1.62v-3.23zM331.8,239.0l2.80,1.62v3.23l-2.80,1.62l-2.80,-1.62v-3.23zM410.2,258.4l2.80,1.62v3.23l-2.80,1.62l-2.80,-1.62v-3.23zM413.0,273.0l2.80,1.62v3.23l-2.80,1.62l-2.80,-1.62v-3.23zM413.0,282.7l2.80,1.62v3.23l-2.80,1.62l-2.80,-1.62v-3.23zM250.6,311.8l2.80,1.62v3.23l-2.80,1.62l-2.80,-1.62v-3.23zM253.4,316.6l2.80,1.62v3.23l-2.80,1.62l-2.80,-1.62v-3.23zM256.2,321.5l2.80,1.62v3.23l-2.80,1.62l-2.80,-1.62v-3.23zM259.0,326.3l2.80,1.62v3.23l-2.80,1.62l-2.80,-1.62v-3.23zM281.4,345.7l2.80,1.62v3.23l-2.80,1.62l-2.80,-1.62v-3.23zM371.0,345.7l2.80,1.62v3.23l-2.80,1.62l-2.80,-1.62v-3.23zM357.0,350.6l2.80,1.62v3.23l-2.80,1.62l-2.80,-1.62v-3.23zM309.4,355.4l2.80,1.62v3.23l-2.80,1.62l-2.80,-1.62v-3.23zM315.0,355.4l2.80,1.62v3.23l-2.80,1.62l-2.80,-1.62v-3.23zM337.4,355.4l2.80,1.62v3.23l-2.80,1.62l-2.80,-1.62v-3.23z"/>
<path fill="#1686ff" stroke="#1686ff" stroke-width="0.5" d="M284.2,214.8l2.80,1.62v3.23l-2.80,1.62l-2.80,-1.62v-3.23zM231.0,219.6l2.80,1.62v3.23l-2.80,1.62l-2.80,-1.62v-3.23zM354.2,219.6l2.80,1.62v3.23l-2.80,1.62l-2.80,-1.62v-3.23zM214.2,248.7l2.80,1.62v3.23l-2.80,1.62l-2.80,-1.62v-3.23zM306.6,253.6l2.80,1.62v3.23l-2.80,1.62l-2.80,-1.62v-3.23zM214.2,258.4l2.80,1.62v3.23l-2.80,1.62l-2.80,-1.62v-3.23zM410.2,297.2l2.80,1.62v3.23l-2.80,1.62l-2.80,-1.62v-3.23zM247.8,306.9l2.80,1.62v3.23l-2.80,1.62l-2.80,-1.62v-3.23zM298.2,326.3l2.80,1.62v3.23l-2.80,1.62l-2.80,-1.62v-3.23zM306.6,331.2l2.80,1.62v3.23l-2.80,1.62l-2.80,-1.62v-3.23zM270.2,336.0l2.80,1.62v3.23l-2.80,1.62l-2.80,-1.62v-3.23zM387.8,336.0l2.80,1.62v3.23l-2.80,1.62l-2.80,-1.62v-3.23zM295.4,350.6l2.80,1.62v3.23l-2.80,1.62l-2.80,-1.62v-3.23zM320.6,355.4l2.80,1.62v3.23l-2.80,1.62l-2.80,-1.62v-3.23zM331.8,355.4l2.80,1.62v3.23l-2.80,1.62l-2.80,-1.62v-3.23z"/>
<path fill="#198dff" stroke="#198dff" stroke-width="0.5" d="M245.0,214.8l2.80,1.62v3.23l-2.80,1.62l-2.80,-1.62v-3.23zM376.6,219.6l2.80,1.62v3.23l-2.80,1.62l-2.80,-1.62v-3.23zM301.0,224.5l2.80,1.62v3.23l-2.80,1.62l-2.80,-1.62v-3.23zM393.4,229.3l2.80,1.62v3.23l-2.80,1.62l-2.80,-1.62v-3.23zM379.4,243.9l2.80,1.62v3.23l-2.80,1.62l-2.80,-1.62v-3.23zM407.4,253.6l2.80,1.62v3.23l-2.80,1.62l-2.80,-1.62v-3.23zM228.2,263.3l2.80,1.62v3.23l-2.80,1.62l-2.80,-1.62v-3.23zM231.0,287.5l2.80,1.62v3.23l-2.80,1.62l-2.80,-1.62v-3.23zM387.8,297.2l2.80,1.62v3.23l-2.80,1.62l-2.80,-1.62v-3.23zM245.0,302.1l2.80,1.62v3.23l-2.80,1.62l-2.80,-1.62v-3.23zM379.4,340.9l2.80,1.62v3.23l-2.80,1.62l-2.80,-1.62v-3.23zM326.2,355.4l2.80,1.62v3.23l-2.80,1.62l-2.80,-1.62v-3.23z"/>
<path fill="#1c94ff" stroke="#1c94ff" stroke-width="0.5" d="M278.6,214.8l2.80,1.62v3.23l-2.80,1.62l-2.80,-1.62v-3.23zM292.6,219.6l2.80,1.62v3.23l-2.80,1.62l-2.80,-1.62v-3.23zM359.8,219.6l2.80,1.62v3.23l-2.80,1.62l-2.80,-1.62v-3.23zM371.0,219.6l2.80,1.62v3.23l-2.80,1.62l-2.80,-1.62v-3.23zM312.2,224.5l2.80,1.62v3.23l-2.80,1.62l-2.80,-1.62v-3.23zM323.4,224.5l2.80,1.62v3.23l-2.80,1.62l-2.80,-1.62v-3.23zM329.0,224.5l2.80,1.62v3.23l-2.80,1.62l-2.80,-1.62v-3.23zM334.6,224.5l2.80,1.62v3.23l-2.80,1.62l-2.80,-1.62v-3.23zM340.2,224.5l2.80,1.62v3.23l-2.80,1.62l-2.80,-1.62v-3.23zM253.4,229.3l2.80,1.62v3.23l-2.80,1.62l-2.80,-1.62v-3.23zM401.8,243.9l2.80,1.62v3.23l-2.80,1.62l-2.80,-1.62v-3.23zM309.4,248.7l2.80,1.62v3.23l-2.80,1.62l-2.80,-1.62v-3.23zM404.6,248.7l2.80,1.62v3.23l-2.80,1.62l-2.80,-1.62v-3.23zM247.8,287.5l2.80,1.62v3.23l-2.80,1.62l-2.80,-1.62v-3.23zM407.4,302.1l2.80,1.62v3.23l-2.80,1.62l-2.80,-1.62v-3.23zM256.2,311.8l2.80,1.62v3.23l-2.80,1.62l-2.80,-1.62v-3.23zM267.4,331.2l2.80,1.62v3.23l-2.80,1.62l-2.80,-1.62v-3.23zM278.6,340.9l2.80,1.62v3.23l-2.80,1.62l-2.80,-1.62v-3.23zM287.0,345.7l2.80,1.62v3.23l-2.80,1.62l-2.80,-1.62v-3.23z"/>
<path fill="#1d9aff" stroke="#1d9aff" stroke-width="0.5" d="M250.6,214.8l2.80,1.62v3.23l-2.80,1.62l-2.80,-1.62v-3.23zM273.0,214.8l2.80,1.62v3.23l-2.80,1.62l-2.80,-1.62v-3.23zM365.4,219.6l2.80,1.62v3.23l-2.80,1.62l-2.80,-1.62v-3.23zM228.2,224.5l2.80,1.62v3.23l-2.80,1.62l-2.80,-1.62v-3.23zM317.8,224.5l2.80,1.62v3.23l-2.80,1.62l-2.80,-1.62v-3.23zM385.0,224.5l2.80,1.62v3.23l-2.80,1.62l-2.80,-1.62v-3.23zM264.6,229.3l2.80,1.62v3.23l-2.80,1.62l-2.80,-1.62v-3.23zM396.2,234.2l2.80,1.62v3.23l-2.80,1.62l-2.80,-1.62v-3.23zM326.2,239.0l2.80,1.62v3.23l-2.80,1.62l-2.80,-1.62v-3.23zM399.0,239.0l2.80,1.62v3.23l-2.80,1.62l-2.80,-1.62v-3.23zM217.0,243.9l2.80,1.62v3.23l-2.80,1.62l-2.80,-1.62v-3.23zM387.8,258.4l2.80,1.62v3.23l-2.80,1.62l-2.80,-1.62v-3.23zM217.0,263.3l2.80,1.62v3.23l-2.80,1.62l-2.80,-1.62v-3.23zM410.2,268.1l2.80,1.62v3.23l-2.80,1.62l-2.80,-1.62v-3.23zM239.4,282.7l2.80,1.62v3.23l-2.80,1.62l-2.80,-1.62v-3.23zM410.2,287.5l2.80,1.62v3.23l-2.80,1.62l-2.80,-1.62v-3.23zM242.2,297.2l2.80,1.62v3.23l-2.80,1.62l-2.80,-1.62v-3.23zM264.6,326.3l2.80,1.62v3.23l-2.80,1.62l-2.80,-1.62v-3.23zM301.0,350.6l2.80,1.62v3.23l-2.80,1.62l-2.80,-1.62v-3.23zM351.4,350.6l2.80,1.62v3.23l-2.80,1.62l-2.80,-1.62v-3.23z"/>
<path fill="#1fa1ff" stroke="#1fa1ff" stroke-width="0.5" d="M256.2,214.8l2.80,1.62v3.23l-2.80,1.62l-2.80,-1.62v-3.23zM261.8,214.8l2.80,1.62v3.23l-2.80,1.62l-2.80,-1.62v-3.23zM267.4,214.8l2.80,1.62v3.23l-2.80,1.62l-2.80,-1.62v-3.23zM236.6,219.6l2.80,1.62v3.23l-2.80,1.62l-2.80,-1.62v-3.23zM345.8,224.5l2.80,1.62v3.23l-2.80,1.62l-2.80,-1.62v-3.23zM303.8,229.3l2.80,1.62v3.23l-2.80,1.62l-2.80,-1.62v-3.23zM331.8,229.3l2.80,1.62v3.23l-2.80,1.62l-2.80,-1.62v-3.23zM337.4,229.3l2.80,1.62v3.23l-2.80,1.62l-2.80,-1.62v-3.23zM334.6,234.2l2.80,1.62v3.23l-2.80,1.62l-2.80,-1.62v-3.23zM410.2,277.8l2.80,1.62v3.23l-2.80,1.62l-2.80,-1.62v-3.23zM228.2,282.7l2.80,1.62v3.23l-2.80,1.62l-2.80,-1.62v-3.23zM253.4,306.9l2.80,1.62v3.23l-2.80,1.62l-2.80,-1.62v-3.23zM404.6,306.9l2.80,1.62v3.23l-2.80,1.62l-2.80,-1.62v-3.23zM259.0,316.6l2.80,1.62v3.23l-2.80,1.62l-2.80,-1.62v-3.23zM261.8,321.5l2.80,1.62v3.23l-2.80,1.62l-2.80,-1.62v-3.23zM289.8,321.5l2.80,1.62v3.23l-2.80,1.62l-2.80,-1.62v-3.23zM275.8,336.0l2.80,1.62v3.23l-2.80,1.62l-2.80,-1.62v-3.23zM365.4,345.7l2.80,1.62v3.23l-2.80,1.62l-2.80,-1.62v-3.23zM306.6,350.6l2.80,1.62v3.23l-2.80,1.62l-2.80,-1.62v-3.23z"/>
<path fill="#20a7ff" stroke="#20a7ff" stroke-width="0.5" d="M287.0,219.6l2.80,1.62v3.23l-2.80,1.62l-2.80,-1.62v-3.23zM295.4,224.5l2.80,1.62v3.23l-2.80,1.62l-2.80,-1.62v-3.23zM351.4,224.5l2.80,1.62v3.23l-2.80,1.62l-2.80,-1.62v-3.23zM225.4,229.3l2.80,1.62v3.23l-2.80,1.62l-2.80,-1.62v-3.23zM247.8,229.3l2.80,1.62v3.23l-2.80,1.62l-2.80,-1.62v-3.23zM326.2,229.3l2.80,1.62v3.23l-2.80,1.62l-2.80,-1.62v-3.23zM343.0,229.3l2.80,1.62v3.23l-2.80,1.62l-2.80,-1.62v-3.23zM222.6,234.2l2.80,1.62v3.23l-2.80,1.62l-2.80,-1.62v-3.23zM329.0,234.2l2.80,1.62v3.23l-2.80,1.62l-2.80,-1.62v-3.23zM340.2,234.2l2.80,1.62v3.23l-2.80,1.62l-2.80,-1.62v-3.23zM219.8,239.0l2.80,1.62v3.23l-2.80,1.62l-2.80,-1.62v-3.23zM231.0,239.0l2.80,1.62v3.23l-2.80,1.62l-2.80,-1.62v-3.23zM217.0,253.6l2.80,1.62v3.23l-2.80,1.62l-2.80,-1.62v-3.23zM225.4,258.4l2.80,1.62v3.23l-2.80,1.62l-2.80,-1.62v-3.23zM407.4,263.3l2.80,1.62v3.23l-2.80,1.62l-2.80,-1.62v-3.23zM219.8,268.1l2.80,1.62v3.23l-2.80,1.62l-2.80,-1.62v-3.23zM222.6,273.0l2.80,1.62v3.23l-2.80,1.62l-2.80,-1.62v-3.23zM225.4,277.8l2.80,1.62v3.23l-2.80,1.62l-2.80,-1.62v-3.23zM250.6,302.1l2.80,1.62v3.23l-2.80,1.62l-2.80,-1.62v-3.23zM259.0,306.9l2.80,1.62v3.23l-2.80,1.62l-2.80,-1.62v-3.23zM401.8,311.8l2.80,1.62v3.23l-2.80,1.62l-2.80,-1.62v-3.23zM284.2,340.9l2.80,1.62v3.23l-2.80,1.62l-2.80,-1.62v-3.23zM292.6,345.7l2.80,1.62v3.23l-2.80,1.62l-2.80,-1.62v-3.23zM345.8,350.6l2.80,1.62v3.23l-2.80,1.62l-2.80,-1.62v-3.23z"/>
<path fill="#22adff" stroke="#22adff" stroke-width="0.5" d="M242.2,219.6l2.80,1.62v3.23l-2.80,1.62l-2.80,-1.62v-3.23zM379.4,224.5l2.80,1.62v3.23l-2.80,1.62l-2.80,-1.62v-3.23zM270.2,229.3l2.80,1.62v3.23l-2.80,1.62l-2.80,-1.62v-3.23zM387.8,229.3l2.80,1.62v3.23l-2.80,1.62l-2.80,-1.62v-3.23zM233.8,234.2l2.80,1.62v3.23l-2.80,1.62l-2.80,-1.62v-3.23zM345.8,234.2l2.80,1.62v3.23l-2.80,1.62l-2.80,-1.62v-3.23zM228.2,243.9l2.80,1.62v3.23l-2.80,1.62l-2.80,-1.62v-3.23zM239.4,292.4l2.80,1.62v3.23l-2.80,1.62l-2.80,-1.62v-3.23zM407.4,292.4l2.80,1.62v3.23l-2.80,1.62l-2.80,-1.62v-3.23zM399.0,316.6l2.80,1.62v3.23l-2.80,1.62l-2.80,-1.62v-3.23zM273.0,331.2l2.80,1.62v3.23l-2.80,1.62l-2.80,-1.62v-3.23zM390.6,331.2l2.80,1.62v3.23l-2.80,1.62l-2.80,-1.62v-3.23zM326.2,336.0l2.80,1.62v3.23l-2.80,1.62l-2.80,-1.62v-3.23zM331.8,336.0l2.80,1.62v3.23l-2.80,1.62l-2.80,-1.62v-3.23zM373.8,340.9l2.80,1.62v3.23l-2.80,1.62l-2.80,-1.62v-3.23zM312.2,350.6l2.80,1.62v3.23l-2.80,1.62l-2.80,-1.62v-3.23zM340.2,350.6l2.80,1.62v3.23l-2.80,1.62l-2.80,-1.62v-3.23z"/>
<path fill="#24b3ff" stroke="#24b3ff" stroke-width="0.5" d="M281.4,219.6l2.80,1.62v3.23l-2.80,1.62l-2.80,-1.62v-3.23zM233.8,224.5l2.80,1.62v3.23l-2.80,1.62l-2.80,-1.62v-3.23zM357.0,224.5l2.80,1.62v3.23l-2.80,1.62l-2.80,-1.62v-3.23zM242.2,229.3l2.80,1.62v3.23l-2.80,1.62l-2.80,-1.62v-3.23zM309.4,229.3l2.80,1.62v3.23l-2.80,1.62l-2.80,-1.62v-3.23zM320.6,229.3l2.80,1.62v3.23l-2.80,1.62l-2.80,-1.62v-3.23zM348.6,229.3l2.80,1.62v3.23l-2.80,1.62l-2.80,-1.62v-3.23zM284.2,234.2l2.80,1.62v3.23l-2.80,1.62l-2.80,-1.62v-3.23zM323.4,234.2l2.80,1.62v3.23l-2.80,1.62l-2.80,-1.62v-3.23zM219.8,248.7l2.80,1.62v3.23l-2.80,1.62l-2.80,-1.62v-3.23zM225.4,248.7l2.80,1.62v3.23l-2.80,1.62l-2.80,-1.62v-3.23zM219.8,258.4l2.80,1.62v3.23l-2.80,1.62l-2.80,-1.62v-3.23zM404.6,258.4l2.80,1.62v3.23l-2.80,1.62l-2.80,-1.62v-3.23zM225.4,268.1l2.80,1.62v3.23l-2.80,1.62l-2.80,-1.62v-3.23zM228.2,273.0l2.80,1.62v3.23l-2.80,1.62l-2.80,-1.62v-3.23zM407.4,273.0l2.80,1.62v3.23l-2.80,1.62l-2.80,-1.62v-3.23zM231.0,277.8l2.80,1.62v3.23l-2.80,1.62l-2.80,-1.62v-3.23zM233.8,282.7l2.80,1.62v3.23l-2.80,1.62l-2.80,-1.62v-3.23zM236.6,287.5l2.80,1.62v3.23l-2.80,1.62l-2.80,-1.62v-3.23zM242.2,287.5l2.80,1.62v3.23l-2.80,1.62l-2.80,-1.62v-3.23zM256.2,292.4l2.80,1.62v3.23l-2.80,1.62l-2.80,-1.62v-3.23zM247.8,297.2l2.80,1.62v3.23l-2.80,1.62l-2.80,-1.62v-3.23zM256.2,302.1l2.80,1.62v3.23l-2.80,1.62l-2.80,-1.62v-3.23zM261.8,311.8l2.80,1.62v3.23l-2.80,1.62l-2.80,-1.62v-3.23zM396.2,321.5l2.80,1.62v3.23l-2.80,1.62l-2.80,-1.62v-3.23zM270.2,326.3l2.80,1.62v3.23l-2.80,1.62l-2.80,-1.62v-3.23zM393.4,326.3l2.80,1.62v3.23l-2.80,1.62l-2.80,-1.62v-3.23zM357.0,331.2l2.80,1.62v3.23l-2.80,1.62l-2.80,-1.62v-3.23zM382.2,336.0l2.80,1.62v3.23l-2.80,1.62l-2.80,-1.62v-3.23zM298.2,345.7l2.80,1.62v3.23l-2.80,1.62l-2.80,-1.62v-3.23zM359.8,345.7l2.80,1.62v3.23l-2.80,1.62l-2.80,-1.62v-3.23zM317.8,350.6l2.80,1.62v3.23l-2.80,1.62l-2.80,-1.62v-3.23zM334.6,350.6l2.80,1.62v3.23l-2.80,1.62l-2.80,-1.62v-3.23z"/>
<path fill="#26baff" stroke="#26baff" stroke-width="0.5" d="M247.8,219.6l2.80,1.62v3.23l-2.80,1.62l-2.80,-1.62v-3.23zM253.4,219.6l2.80,1.62v3.23l-2.80,1.62l-2.80,-1.62v-3.23zM275.8,219.6l2.80,1.62v3.23l-2.80,1.62l-2.80,-1.62v-3.23zM239.4,224.5l2.80,1.62v3.23l-2.80,1.62l-2.80,-1.62v-3.23zM289.8,224.5l2.80,1.62v3.23l-2.80,1.62l-2.80,-1.62v-3.23zM373.8,224.5l2.80,1.62v3.23l-2.80,1.62l-2.80,-1.62v-3.23zM231.0,229.3l2.80,1.62v3.23l-2.80,1.62l-2.80,-1.62v-3.23zM298.2,229.3l2.80,1.62v3.23l-2.80,1.62l-2.80,-1.62v-3.23zM315.0,229.3l2.80,1.62v3.23l-2.80,1.62l-2.80,-1.62v-3.23zM228.2,234.2l2.80,1.62v3.23l-2.80,1.62l-2.80,-1.62v-3.23zM351.4,234.2l2.80,1.62v3.23l-2.80,1.62l-2.80,-1.62v-3.23zM225.4,239.0l2.80,1.62v3.23l-2.80,1.62l-2.80,-1.62v-3.23zM320.6,239.0l2.80,1.62v3.23l-2.80,1.62l-2.80,-1.62v-3.23zM222.6,243.9l2.80,1.62v3.23l-2.80,1.62l-2.80,-1.62v-3.23zM222.6,253.6l2.80,1.62v3.23l-2.80,1.62l-2.80,-1.62v-3.23zM301.0,253.6l2.80,1.62v3.23l-2.80,1.62l-2.80,-1.62v-3.23zM222.6,263.3l2.80,1.62v3.23l-2.80,1.62l-2.80,-1.62v-3.23zM407.4,282.7l2.80,1.62v3.23l-2.80,1.62l-2.80,-1.62v-3.23zM245.0,292.4l2.80,1.62v3.23l-2.80,1.62l-2.80,-1.62v-3.23zM250.6,292.4l2.80,1.62v3.23l-2.80,1.62l-2.80,-1.62v-3.23zM261.8,292.4l2.80,1.62v3.23l-2.80,1.62l-2.80,-1.62v-3.23zM267.4,292.4l2.80,1.62v3.23l-2.80,1.62l-2.80,-1.62v-3.23zM390.6,292.4l2.80,1.62v3.23l-2.80,1.62l-2.80,-1.62v-3.23zM253.4,297.2l2.80,1.62v3.23l-2.80,1.62l-2.80,-1.62v-3.23zM261.8,302.1l2.80,1.62v3.23l-2.80,1.62l-2.80,-1.62v-3.23zM264.6,316.6l2.80,1.62v3.23l-2.80,1.62l-2.80,-1.62v-3.23zM267.4,321.5l2.80,1.62v3.23l-2.80,1.62l-2.80,-1.62v-3.23zM281.4,336.0l2.80,1.62v3.23l-2.80,1.62l-2.80,-1.62v-3.23zM320.6,336.0l2.80,1.62v3.23l-2.80,1.62l-2.80,-1.62v-3.23zM289.8,340.9l2.80,1.62v3.23l-2.80,1.62l-2.80,-1.62v-3.23zM323.4,350.6l2.80,1.62v3.23l-2.80,1.62l-2.80,-1.62v-3.23zM329.0,350.6l2.80,1.62v3.23l-2.80,1.62l-2.80,-1.62v-3.23z"/>
<path fill="#28c0ff" stroke="#28c0ff" stroke-width="0.5" d="M259.0,219.6l2.80,1.62v3.23l-2.80,1.62l-2.80,-1.62v-3.23zM264.6,219.6l2.80,1.62v3.23l-2.80,1.62l-2.80,-1.62v-3.23zM270.2,219.6l2.80,1.62v3.23l-2.80,1.62l-2.80,-1.62v-3.23zM245.0,224.5l2.80,1.62v3.23l-2.80,1.62l-2.80,-1.62v-3.23zM250.6,224.5l2.80,1.62v3.23l-2.80,1.62l-2.80,-1.62v-3.23zM362.6,224.5l2.80,1.62v3.23l-2.80,1.62l-2.80,-1.62v-3.23zM368.2,224.5l2.80,1.62v3.23l-2.80,1.62l-2.80,-1.62v-3.23zM236.6,229.3l2.80,1.62v3.23l-2.80,1.62l-2.80,-1.62v-3.23zM275.8,229.3l2.80,1.62v3.23l-2.80,1.62l-2.80,-1.62v-3.23zM301.0,234.2l2.80,1.62v3.23l-2.80,1.62l-2.80,-1.62v-3.23zM401.8,253.6l2.80,1.62v3.23l-2.80,1.62l-2.80,-1.62v-3.23zM390.6,263.3l2.80,1.62v3.23l-2.80,1.62l-2.80,-1.62v-3.23zM259.0,297.2l2.80,1.62v3.23l-2.80,1.62l-2.80,-1.62v-3.23zM264.6,297.2l2.80,1.62v3.23l-2.80,1.62l-2.80,-1.62v-3.23zM270.2,297.2l2.80,1.62v3.23l-2.80,1.62l-2.80,-1.62v-3.23zM404.6,297.2l2.80,1.62v3.23l-2.80,1.62l-2.80,-1.62v-3.23zM273.0,302.1l2.80,1.62v3.23l-2.80,1.62l-2.80,-1.62v-3.23zM264.6,306.9l2.80,1.62v3.23l-2.80,1.62l-2.80,-1.62v-3.23zM275.8,306.9l2.80,1.62v3.23l-2.80,1.62l-2.80,-1.62v-3.23zM278.6,331.2l2.80,1.62v3.23l-2.80,1.62l-2.80,-1.62v-3.23zM337.4,336.0l2.80,1.62v3.23l-2.80,1.62l-2.80,-1.62v-3.23zM303.8,345.7l2.80,1.62v3.23l-2.80,1.62l-2.80,-1.62v-3.23z"/>
<path fill="#2bc6ff" stroke="#2bc6ff" stroke-width="0.5" d="M256.2,224.5l2.80,1.62v3.23l-2.80,1.62l-2.80,-1.62v-3.23zM261.8,224.5l2.80,1.62v3.23l-2.80,1.62l-2.80,-1.62v-3.23zM267.4,224.5l2.80,1.62v3.23l-2.80,1.62l-2.80,-1.62v-3.23zM273.0,224.5l2.80,1.62v3.23l-2.80,1.62l-2.80,-1.62v-3.23zM278.6,224.5l2.80,1.62v3.23l-2.80,1.62l-2.80,-1.62v-3.23zM284.2,224.5l2.80,1.62v3.23l-2.80,1.62l-2.80,-1.62v-3.23zM292.6,229.3l2.80,1.62v3.23l-2.80,1.62l-2.80,-1.62v-3.23zM354.2,229.3l2.80,1.62v3.23l-2.80,1.62l-2.80,-1.62v-3.23zM317.8,234.2l2.80,1.62v3.23l-2.80,1.62l-2.80,-1.62v-3.23zM390.6,234.2l2.80,1.62v3.23l-2.80,1.62l-2.80,-1.62v-3.23zM393.4,239.0l2.80,1.62v3.23l-2.80,1.62l-2.80,-1.62v-3.23zM396.2,243.9l2.80,1.62v3.23l-2.80,1.62l-2.80,-1.62v-3.23zM298.2,248.7l2.80,1.62v3.23l-2.80,1.62l-2.80,-1.62v-3.23zM399.0,248.7l2.80,1.62v3.23l-2.80,1.62l-2.80,-1.62v-3.23zM267.4,302.1l2.80,1.62v3.23l-2.80,1.62l-2.80,-1.62v-3.23zM278.6,311.8l2.80,1.62v3.23l-2.80,1.62l-2.80,-1.62v-3.23zM287.0,336.0l2.80,1.62v3.23l-2.80,1.62l-2.80,-1.62v-3.23zM315.0,336.0l2.80,1.62v3.23l-2.80,1.62l-2.80,-1.62v-3.23zM354.2,345.7l2.80,1.62v3.23l-2.80,1.62l-2.80,-1.62v-3.23z"/>
<path fill="#2fccff" stroke="#2fccff" stroke-width="0.5" d="M281.4,229.3l2.80,1.62v3.23l-2.80,1.62l-2.80,-1.62v-3.23zM287.0,229.3l2.80,1.62v3.23l-2.80,1.62l-2.80,-1.62v-3.23zM382.2,229.3l2.80,1.62v3.23l-2.80,1.62l-2.80,-1.62v-3.23zM289.8,234.2l2.80,1.62v3.23l-2.80,1.62l-2.80,-1.62v-3.23zM306.6,234.2l2.80,1.62v3.23l-2.80,1.62l-2.80,-1.62v-3.23zM357.0,234.2l2.80,1.62v3.23l-2.80,1.62l-2.80,-1.62v-3.23zM292.6,239.0l2.80,1.62v3.23l-2.80,1.62l-2.80,-1.62v-3.23zM376.6,239.0l2.80,1.62v3.23l-2.80,1.62l-2.80,-1.62v-3.23zM295.4,243.9l2.80,1.62v3.23l-2.80,1.62l-2.80,-1.62v-3.23zM404.6,268.1l2.80,1.62v3.23l-2.80,1.62l-2.80,-1.62v-3.23zM401.8,302.1l2.80,1.62v3.23l-2.80,1.62l-2.80,-1.62v-3.23zM270.2,306.9l2.80,1.62v3.23l-2.80,1.62l-2.80,-1.62v-3.23zM267.4,311.8l2.80,1.62v3.23l-2.80,1.62l-2.80,-1.62v-3.23zM270.2,316.6l2.80,1.62v3.23l-2.80,1.62l-2.80,-1.62v-3.23zM281.4,316.6l2.80,1.62v3.23l-2.80,1.62l-2.80,-1.62v-3.23zM273.0,321.5l2.80,1.62v3.23l-2.80,1.62l-2.80,-1.62v-3.23zM275.8,326.3l2.80,1.62v3.23l-2.80,1.62l-2.80,-1.62v-3.23zM301.0,331.2l2.80,1.62v3.23l-2.80,1.62l-2.80,-1.62v-3.23zM385.0,331.2l2.80,1.62v3.23l-2.80,1.62l-2.80,-1.62v-3.23zM295.4,340.9l2.80,1.62v3.23l-2.80,1.62l-2.80,-1.62v-3.23zM368.2,340.9l2.80,1.62v3.23l-2.80,1.62l-2.80,-1.62v-3.23zM309.4,345.7l2.80,1.62v3.23l-2.80,1.62l-2.80,-1.62v-3.23z"/>
<path fill="#32d2ff" stroke="#32d2ff" stroke-width="0.5" d="M359.8,229.3l2.80,1.62v3.23l-2.80,1.62l-2.80,-1.62v-3.23zM295.4,234.2l2.80,1.62v3.23l-2.80,1.62l-2.80,-1.62v-3.23zM312.2,234.2l2.80,1.62v3.23l-2.80,1.62l-2.80,-1.62v-3.23zM298.2,239.0l2.80,1.62v3.23l-2.80,1.62l-2.80,-1.62v-3.23zM303.8,239.0l2.80,1.62v3.23l-2.80,1.62l-2.80,-1.62v-3.23zM315.0,239.0l2.80,1.62v3.23l-2.80,1.62l-2.80,-1.62v-3.23zM301.0,243.9l2.80,1.62v3.23l-2.80,1.62l-2.80,-1.62v-3.23zM312.2,243.9l2.80,1.62v3.23l-2.80,1.62l-2.80,-1.62v-3.23zM404.6,277.8l2.80,1.62v3.23l-2.80,1.62l-2.80,-1.62v-3.23zM404.6,287.5l2.80,1.62v3.23l-2.80,1.62l-2.80,-1.62v-3.23zM273.0,311.8l2.80,1.62v3.23l-2.80,1.62l-2.80,-1.62v-3.23zM275.8,316.6l2.80,1.62v3.23l-2.80,1.62l-2.80,-1.62v-3.23zM278.6,321.5l2.80,1.62v3.23l-2.80,1.62l-2.80,-1.62v-3.23zM281.4,326.3l2.80,1.62v3.23l-2.80,1.62l-2.80,-1.62v-3.23zM292.6,326.3l2.80,1.62v3.23l-2.80,1.62l-2.80,-1.62v-3.23zM284.2,331.2l2.80,1.62v3.23l-2.80,1.62l-2.80,-1.62v-3.23zM292.6,336.0l2.80,1.62v3.23l-2.80,1.62l-2.80,-1.62v-3.23zM343.0,336.0l2.80,1.62v3.23l-2.80,1.62l-2.80,-1.62v-3.23zM376.6,336.0l2.80,1.62v3.23l-2.80,1.62l-2.80,-1.62v-3.23zM301.0,340.9l2.80,1.62v3.23l-2.80,1.62l-2.80,-1.62v-3.23zM315.0,345.7l2.80,1.62v3.23l-2.80,1.62l-2.80,-1.62v-3.23zM348.6,345.7l2.80,1.62v3.23l-2.80,1.62l-2.80,-1.62v-3.23z"/>
<path fill="#35d9ff" stroke="#35d9ff" stroke-width="0.5" d="M376.6,229.3l2.80,1.62v3.23l-2.80,1.62l-2.80,-1.62v-3.23zM362.6,234.2l2.80,1.62v3.23l-2.80,1.62l-2.80,-1.62v-3.23zM303.8,248.7l2.80,1.62v3.23l-2.80,1.62l-2.80,-1.62v-3.23zM401.8,263.3l2.80,1.62v3.23l-2.80,1.62l-2.80,-1.62v-3.23zM393.4,277.8l2.80,1.62v3.23l-2.80,1.62l-2.80,-1.62v-3.23zM399.0,306.9l2.80,1.62v3.23l-2.80,1.62l-2.80,-1.62v-3.23zM284.2,321.5l2.80,1.62v3.23l-2.80,1.62l-2.80,-1.62v-3.23zM287.0,326.3l2.80,1.62v3.23l-2.80,1.62l-2.80,-1.62v-3.23zM371.0,326.3l2.80,1.62v3.23l-2.80,1.62l-2.80,-1.62v-3.23zM289.8,331.2l2.80,1.62v3.23l-2.80,1.62l-2.80,-1.62v-3.23zM295.4,331.2l2.80,1.62v3.23l-2.80,1.62l-2.80,-1.62v-3.23zM298.2,336.0l2.80,1.62v3.23l-2.80,1.62l-2.80,-1.62v-3.23zM309.4,336.0l2.80,1.62v3.23l-2.80,1.62l-2.80,-1.62v-3.23zM306.6,340.9l2.80,1.62v3.23l-2.80,1.62l-2.80,-1.62v-3.23zM320.6,345.7l2.80,1.62v3.23l-2.80,1.62l-2.80,-1.62v-3.23zM326.2,345.7l2.80,1.62v3.23l-2.80,1.62l-2.80,-1.62v-3.23zM343.0,345.7l2.80,1.62v3.23l-2.80,1.62l-2.80,-1.62v-3.23z"/>
<path fill="#38e0ff" stroke="#38e0ff" stroke-width="0.5" d="M365.4,229.3l2.80,1.62v3.23l-2.80,1.62l-2.80,-1.62v-3.23zM371.0,229.3l2.80,1.62v3.23l-2.80,1.62l-2.80,-1.62v-3.23zM368.2,234.2l2.80,1.62v3.23l-2.80,1.62l-2.80,-1.62v-3.23zM385.0,234.2l2.80,1.62v3.23l-2.80,1.62l-2.80,-1.62v-3.23zM306.6,243.9l2.80,1.62v3.23l-2.80,1.62l-2.80,-1.62v-3.23zM399.0,258.4l2.80,1.62v3.23l-2.80,1.62l-2.80,-1.62v-3.23zM393.4,268.1l2.80,1.62v3.23l-2.80,1.62l-2.80,-1.62v-3.23zM401.8,292.4l2.80,1.62v3.23l-2.80,1.62l-2.80,-1.62v-3.23zM396.2,311.8l2.80,1.62v3.23l-2.80,1.62l-2.80,-1.62v-3.23zM393.4,316.6l2.80,1.62v3.23l-2.80,1.62l-2.80,-1.62v-3.23zM303.8,336.0l2.80,1.62v3.23l-2.80,1.62l-2.80,-1.62v-3.23zM312.2,340.9l2.80,1.62v3.23l-2.80,1.62l-2.80,-1.62v-3.23zM317.8,340.9l2.80,1.62v3.23l-2.80,1.62l-2.80,-1.62v-3.23zM362.6,340.9l2.80,1.62v3.23l-2.80,1.62l-2.80,-1.62v-3.23zM331.8,345.7l2.80,1.62v3.23l-2.80,1.62l-2.80,-1.62v-3.23zM337.4,345.7l2.80,1.62v3.23l-2.80,1.62l-2.80,-1.62v-3.23z"/>
<path fill="#38e3fc" stroke="#38e3fc" stroke-width="0.5" d="M373.8,234.2l2.80,1.62v3.23l-2.80,1.62l-2.80,-1.62v-3.23zM379.4,234.2l2.80,1.62v3.23l-2.80,1.62l-2.80,-1.62v-3.23zM309.4,239.0l2.80,1.62v3.23l-2.80,1.62l-2.80,-1.62v-3.23zM387.8,239.0l2.80,1.62v3.23l-2.80,1.62l-2.80,-1.62v-3.23zM390.6,243.9l2.80,1.62v3.23l-2.80,1.62l-2.80,-1.62v-3.23zM393.4,248.7l2.80,1.62v3.23l-2.80,1.62l-2.80,-1.62v-3.23zM390.6,253.6l2.80,1.62v3.23l-2.80,1.62l-2.80,-1.62v-3.23zM396.2,253.6l2.80,1.62v3.23l-2.80,1.62l-2.80,-1.62v-3.23zM401.8,273.0l2.80,1.62v3.23l-2.80,1.62l-2.80,-1.62v-3.23zM401.8,282.7l2.80,1.62v3.23l-2.80,1.62l-2.80,-1.62v-3.23zM393.4,287.5l2.80,1.62v3.23l-2.80,1.62l-2.80,-1.62v-3.23zM390.6,321.5l2.80,1.62v3.23l-2.80,1.62l-2.80,-1.62v-3.23zM387.8,326.3l2.80,1.62v3.23l-2.80,1.62l-2.80,-1.62v-3.23zM362.6,331.2l2.80,1.62v3.23l-2.80,1.62l-2.80,-1.62v-3.23zM348.6,336.0l2.80,1.62v3.23l-2.80,1.62l-2.80,-1.62v-3.23zM371.0,336.0l2.80,1.62v3.23l-2.80,1.62l-2.80,-1.62v-3.23zM323.4,340.9l2.80,1.62v3.23l-2.80,1.62l-2.80,-1.62v-3.23zM329.0,340.9l2.80,1.62v3.23l-2.80,1.62l-2.80,-1.62v-3.23z"/>
<path fill="#38e6fa" stroke="#38e6fa" stroke-width="0.5" d="M382.2,239.0l2.80,1.62v3.23l-2.80,1.62l-2.80,-1.62v-3.23zM385.0,243.9l2.80,1.62v3.23l-2.80,1.62l-2.80,-1.62v-3.23zM387.8,248.7l2.80,1.62v3.23l-2.80,1.62l-2.80,-1.62v-3.23zM393.4,258.4l2.80,1.62v3.23l-2.80,1.62l-2.80,-1.62v-3.23zM396.2,263.3l2.80,1.62v3.23l-2.80,1.62l-2.80,-1.62v-3.23zM399.0,268.1l2.80,1.62v3.23l-2.80,1.62l-2.80,-1.62v-3.23zM396.2,273.0l2.80,1.62v3.23l-2.80,1.62l-2.80,-1.62v-3.23zM399.0,297.2l2.80,1.62v3.23l-2.80,1.62l-2.80,-1.62v-3.23zM385.0,311.8l2.80,1.62v3.23l-2.80,1.62l-2.80,-1.62v-3.23zM382.2,316.6l2.80,1.62v3.23l-2.80,1.62l-2.80,-1.62v-3.23zM379.4,331.2l2.80,1.62v3.23l-2.80,1.62l-2.80,-1.62v-3.23zM334.6,340.9l2.80,1.62v3.23l-2.80,1.62l-2.80,-1.62v-3.23zM340.2,340.9l2.80,1.62v3.23l-2.80,1.62l-2.80,-1.62v-3.23zM357.0,340.9l2.80,1.62v3.23l-2.80,1.62l-2.80,-1.62v-3.23z"/>
<path fill="#39e8f3" stroke="#39e8f3" stroke-width="0.5" d="M399.0,277.8l2.80,1.62v3.23l-2.80,1.62l-2.80,-1.62v-3.23zM396.2,282.7l2.80,1.62v3.23l-2.80,1.62l-2.80,-1.62v-3.23zM399.0,287.5l2.80,1.62v3.23l-2.80,1.62l-2.80,-1.62v-3.23zM396.2,292.4l2.80,1.62v3.23l-2.80,1.62l-2.80,-1.62v-3.23zM390.6,302.1l2.80,1.62v3.23l-2.80,1.62l-2.80,-1.62v-3.23zM396.2,302.1l2.80,1.62v3.23l-2.80,1.62l-2.80,-1.62v-3.23zM387.8,306.9l2.80,1.62v3.23l-2.80,1.62l-2.80,-1.62v-3.23zM379.4,321.5l2.80,1.62v3.23l-2.80,1.62l-2.80,-1.62v-3.23zM354.2,336.0l2.80,1.62v3.23l-2.80,1.62l-2.80,-1.62v-3.23zM365.4,336.0l2.80,1.62v3.23l-2.80,1.62l-2.80,-1.62v-3.23zM345.8,340.9l2.80,1.62v3.23l-2.80,1.62l-2.80,-1.62v-3.23zM351.4,340.9l2.80,1.62v3.23l-2.80,1.62l-2.80,-1.62v-3.23z"/>
<path fill="#3beae5" stroke="#3beae5" stroke-width="0.5" d="M393.4,297.2l2.80,1.62v3.23l-2.80,1.62l-2.80,-1.62v-3.23zM393.4,306.9l2.80,1.62v3.23l-2.80,1.62l-2.80,-1.62v-3.23zM390.6,311.8l2.80,1.62v3.23l-2.80,1.62l-2.80,-1.62v-3.23zM387.8,316.6l2.80,1.62v3.23l-2.80,1.62l-2.80,-1.62v-3.23zM382.2,326.3l2.80,1.62v3.23l-2.80,1.62l-2.80,-1.62v-3.23zM368.2,331.2l2.80,1.62v3.23l-2.80,1.62l-2.80,-1.62v-3.23zM373.8,331.2l2.80,1.62v3.23l-2.80,1.62l-2.80,-1.62v-3.23zM359.8,336.0l2.80,1.62v3.23l-2.80,1.62l-2.80,-1.62v-3.23z"/>
<path fill="#3dead8" stroke="#3dead8" stroke-width="0.5" d="M385.0,321.5l2.80,1.62v3.23l-2.80,1.62l-2.80,-1.62v-3.23zM376.6,326.3l2.80,1.62v3.23l-2.80,1.62l-2.80,-1.62v-3.23z"/>
<path d="M320.8,301.0L317.2,304.9L313.6,308.7L310.0,312.5L306.5,316.1L302.9,319.7L299.4,323.1L295.9,326.5L292.5,329.7L289.0,332.9L285.6,335.9L282.3,338.8L279.0,341.6L275.7,344.3L272.5,346.8L269.4,349.2L266.3,351.5L263.3,353.6L260.3,355.6L257.5,357.4L254.7,359.1L252.0,360.7L249.4,362.1L246.8,363.3L244.4,364.5L242.0,365.4L239.8,366.2L237.6,366.9L235.5,367.3L233.6,367.7L231.7,367.9L230.0,367.9L228.4,367.7L226.8,367.4L225.4,367.0L224.2,366.4L223.0,365.6M320.8,301.0L315.6,302.7L310.3,304.4L305.1,305.9L299.9,307.4L294.7,308.8L289.5,310.1L284.4,311.4L279.4,312.5L274.3,313.6L269.4,314.5L264.5,315.4L259.6,316.2L254.9,316.8L250.2,317.4L245.6,317.9L241.1,318.3L236.7,318.6L232.4,318.8L228.2,318.9L224.2,318.9L220.2,318.8L216.4,318.6L212.6,318.4L209.1,318.0L205.6,317.5L202.3,316.9L199.2,316.3L196.2,315.5L193.3,314.6L190.6,313.7L188.0,312.7L185.7,311.5L183.4,310.3L181.4,309.0L179.5,307.6L177.8,306.1L176.3,304.6L174.9,302.9L173.7,301.2L172.7,299.4M320.8,301.0L315.3,300.1L309.8,299.1L304.3,298.0L298.9,296.8L293.4,295.6L288.0,294.3L282.7,293.0L277.4,291.5L272.1,290.1L266.9,288.5L261.8,286.9L256.7,285.2L251.7,283.5L246.8,281.7L242.0,279.9L237.3,278.0L232.7,276.1L228.2,274.1L223.8,272.1L219.5,270.0L215.4,267.9L211.3,265.8L207.5,263.6L203.7,261.5L200.1,259.2L196.6,257.0L193.3,254.7L190.2,252.4L187.2,250.1L184.3,247.8L181.7,245.5L179.2,243.2L176.9,240.8L174.7,238.5L172.7,236.1L170.9,233.8L169.3,231.5L167.9,229.1L166.7,226.8L165.6,224.5L164.8,222.3L164.1,220.0L163.6,217.8L163.3,215.6L163.2,213.4L163.3,211.2L163.6,209.1M320.8,301.0L316.5,297.7L312.3,294.2L308.0,290.8L303.7,287.2L299.5,283.6L295.3,279.9L291.1,276.2L287.0,272.5L282.9,268.7L278.9,264.8L274.9,261.0L270.9,257.1L267.1,253.2L263.3,249.2L259.5,245.3L255.8,241.3L252.3,237.4L248.8,233.4L245.3,229.5L242.0,225.6L238.8,221.6L235.7,217.7L232.6,213.9L229.7,210.0L226.9,206.2L224.2,202.5L221.6,198.7L219.2,195.1L216.9,191.5L214.7,187.9L212.6,184.4L210.6,181.0L208.8,177.6L207.2,174.3L205.6,171.1L204.2,168.0L203.0,165.0L201.9,162.0L200.9,159.2L200.1,156.4L199.4,153.7L198.9,151.2L198.5,148.7L198.3,146.4L198.2,144.2L198.3,142.1L198.5,140.1L198.9,138.2L199.4,136.5L200.1,134.9L200.9,133.4L201.9,132.0M320.8,301.0L318.9,296.1L317.0,291.2L315.1,286.2L313.2,281.1L311.3,276.0L309.4,270.8L307.6,265.6L305.7,260.4L303.9,255.1L302.1,249.9L300.3,244.6L298.5,239.3L296.8,234.0L295.1,228.7L293.4,223.4L291.8,218.1L290.2,212.9L288.6,207.7L287.1,202.5L285.6,197.4L284.2,192.3L282.8,187.3L281.4,182.4L280.1,177.5L278.9,172.7L277.7,168.0L276.5,163.3L275.4,158.8L274.4,154.3L273.4,150.0L272.5,145.7L271.6,141.6L270.8,137.6L270.1,133.7L269.4,130.0L268.8,126.3L268.2,122.9L267.7,119.5L267.3,116.3L266.9,113.3L266.6,110.4L266.4,107.6L266.2,105.1L266.1,102.6L266.1,100.4L266.1,98.3L266.2,96.4L266.4,94.7L266.6,93.1L266.9,91.7L267.3,90.5L267.7,89.5L268.2,88.7L268.8,88.0L269.4,87.5M320.8,301.0L321.8,295.9L322.7,290.7L323.7,285.5L324.7,280.2L325.6,274.8L326.6,269.4L327.5,264.0L328.5,258.6L329.4,253.1L330.3,247.6L331.2,242.1L332.1,236.6L333.0,231.1L333.8,225.6L334.7,220.1L335.5,214.6L336.3,209.2L337.1,203.8L337.9,198.4L338.7,193.1L339.4,187.9L340.1,182.7L340.8,177.6L341.4,172.5L342.1,167.6L342.7,162.7L343.3,157.9L343.8,153.2L344.4,148.7L344.9,144.2L345.3,139.9L345.8,135.6L346.2,131.5L346.6,127.5L346.9,123.7L347.2,120.0L347.5,116.5L347.8,113.1L348.0,109.8L348.2,106.7L348.3,103.8L348.4,101.0L348.5,98.4L348.6,96.0L348.6,93.7L348.6,91.7L348.5,89.8L348.4,88.1L348.3,86.5L348.2,85.2L348.0,84.0L347.8,83.1L347.5,82.3L347.2,81.7L346.9,81.3L346.6,81.1M320.8,301.0L324.4,297.0L328.0,293.0L331.6,288.9L335.1,284.7L338.7,280.4L342.2,276.2L345.7,271.8L349.1,267.5L352.6,263.1L356.0,258.6L359.3,254.2L362.6,249.7L365.9,245.2L369.1,240.7L372.2,236.2L375.3,231.7L378.3,227.2L381.3,222.7L384.1,218.3L386.9,213.9L389.6,209.5L392.2,205.1L394.8,200.8L397.2,196.5L399.6,192.3L401.8,188.1L404.0,184.0L406.1,180.0L408.0,176.0L409.9,172.1L411.6,168.3L413.2,164.6L414.8,161.0L416.2,157.5L417.4,154.0L418.6,150.7L419.7,147.5L420.6,144.4L421.4,141.4L422.1,138.5L422.6,135.7L423.1,133.1L423.4,130.6L423.6,128.2L423.6,126.0L423.6,123.9L423.4,122.0L423.1,120.1L422.6,118.5L422.1,117.0L421.4,115.6L420.6,114.4L419.7,113.3M320.8,301.0L326.0,299.2L331.3,297.3L336.5,295.4L341.7,293.4L346.9,291.3L352.1,289.2L357.2,287.0L362.2,284.7L367.3,282.4L372.2,280.0L377.1,277.6L382.0,275.1L386.7,272.6L391.4,270.1L396.0,267.5L400.5,264.8L404.9,262.2L409.2,259.5L413.4,256.8L417.4,254.1L421.4,251.3L425.2,248.6L429.0,245.8L432.5,243.0L436.0,240.2L439.3,237.4L442.4,234.6L445.4,231.8L448.3,229.1L451.0,226.3L453.6,223.6L455.9,220.8L458.2,218.1L460.2,215.5L462.1,212.8L463.8,210.2L465.3,207.6L466.7,205.1L467.9,202.5L468.9,200.1L469.7,197.7L470.3,195.3L470.8,193.0L471.1,190.7L471.2,188.6L471.1,186.4L470.8,184.4L470.3,182.3L469.7,180.4M320.8,301.0L326.3,301.9L331.8,302.6L337.3,303.3L342.7,304.0L348.2,304.5L353.6,305.0L358.9,305.4L364.2,305.7L369.5,305.9L374.7,306.0L379.8,306.1L384.9,306.1L389.9,306.0L394.8,305.8L399.6,305.5L404.3,305.2L408.9,304.7L413.4,304.2L417.8,303.6L422.1,303.0L426.2,302.2L430.3,301.4L434.1,300.5L437.9,299.5L441.5,298.5L445.0,297.4L448.3,296.2L451.4,294.9L454.4,293.6L457.3,292.2L459.9,290.7L462.4,289.2L464.7,287.6L466.9,286.0L468.9,284.3L470.7,282.5L472.3,280.7L473.7,278.9L474.9,276.9L476.0,275.0L476.8,273.0L477.5,271.0M320.8,301.0L325.1,304.3L329.3,307.5L333.6,310.6L337.9,313.6L342.1,316.5L346.3,319.4L350.5,322.1L354.6,324.7L358.7,327.3L362.7,329.7L366.7,332.0L370.7,334.2L374.5,336.3L378.3,338.3L382.1,340.1L385.8,341.8L389.3,343.4L392.8,344.9L396.3,346.2L399.6,347.4L402.8,348.5L405.9,349.5L409.0,350.3L411.9,350.9L414.7,351.5L417.4,351.9L420.0,352.1L422.4,352.3L424.7,352.3L426.9,352.1L429.0,351.8L431.0,351.4L432.8,350.8L434.4,350.1L436.0,349.3L437.4,348.3L438.6,347.2M320.8,301.0L322.7,305.8L324.6,310.5L326.5,315.2L328.4,319.7L330.3,324.1L332.2,328.5L334.0,332.7L335.9,336.8L337.7,340.8L339.5,344.7L341.3,348.4L343.1,352.0L344.8,355.5L346.5,358.8L348.2,362.0L349.8,365.0L351.4,367.9L353.0,370.6L354.5,373.2L356.0,375.6L357.4,377.8L358.8,379.9L360.2,381.8L361.5,383.5L362.7,385.0L363.9,386.4L365.1,387.6L366.2,388.6L367.2,389.4L368.2,390.0L369.1,390.5L370.0,390.8L370.8,390.8L371.5,390.7M320.8,301.0L319.8,306.0L318.9,311.0L317.9,315.8L316.9,320.6L316.0,325.3L315.0,329.8L314.1,334.3L313.1,338.6L312.2,342.9L311.3,346.9L310.4,350.9L309.5,354.7L308.6,358.4L307.8,361.9L306.9,365.3L306.1,368.6L305.3,371.6L304.5,374.5L303.7,377.3L302.9,379.9L302.2,382.3L301.5,384.5L300.8,386.6L300.2,388.4L299.5,390.1L298.9,391.6L298.3,393.0L297.8,394.1L297.2,395.0L296.7,395.8L296.3,396.4L295.8,396.7L295.4,396.9M269.4,349.2L266.2,346.6L263.3,343.9L260.4,341.1L257.8,338.1L255.3,335.0L253.0,331.8L250.8,328.4L248.9,325.0L247.2,321.5L245.6,317.9L244.3,314.3L243.2,310.5L242.3,306.8L241.6,303.0L241.1,299.1L240.8,295.3L240.8,291.4L241.0,287.6L241.4,283.7L242.0,279.9L242.9,276.1L243.9,272.4L245.2,268.7L246.6,265.1L248.3,261.5L250.2,258.1L252.2,254.7L254.5,251.5L256.9,248.3L259.5,245.3L262.3,242.4L265.2,239.6L268.3,237.0L271.5,234.6L274.9,232.3L278.4,230.2L282.0,228.2L285.7,226.4L289.5,224.8L293.4,223.4L297.4,222.2L301.4,221.1L305.5,220.3L309.7,219.7L313.8,219.2L318.0,219.0L322.2,219.0L326.4,219.1L330.5,219.5L334.7,220.1L338.8,220.8L342.9,221.8L346.8,223.0L350.8,224.3L354.6,225.9L358.4,227.6L362.0,229.5L365.5,231.6L368.9,233.8L372.2,236.2L375.4,238.8L378.3,241.5L381.2,244.3L383.8,247.3L386.3,250.4L388.6,253.6L390.8,256.9L392.7,260.4L394.4,263.9L396.0,267.5L397.3,271.1L398.4,274.9L399.3,278.6L400.0,282.4L400.5,286.3L400.8,290.1L400.8,294.0L400.6,297.8L400.2,301.7L399.6,305.5L398.7,309.3L397.7,313.0L396.4,316.7L395.0,320.3L393.3,323.9L391.4,327.3L389.4,330.7L387.1,333.9L384.7,337.1L382.1,340.1L379.3,343.0L376.4,345.7L373.3,348.4L370.1,350.8L366.7,353.1L363.2,355.2L359.6,357.2L355.9,359.0L352.1,360.6L348.2,362.0L344.2,363.2L340.2,364.3L336.1,365.1L331.9,365.7L327.8,366.2L323.6,366.4L319.4,366.4L315.2,366.3L311.1,365.9L306.9,365.3L302.8,364.6L298.7,363.6L294.8,362.4L290.8,361.1L287.0,359.5L283.2,357.8L279.6,355.9L276.1,353.8L272.7,351.6L269.4,349.2M231.7,367.9L226.3,363.4L221.1,358.7L216.2,353.8L211.6,348.6L207.3,343.3L203.3,337.7L199.6,331.9L196.3,326.0L193.3,319.9L190.6,313.7L188.3,307.3L186.4,300.9L184.8,294.4L183.6,287.8L182.8,281.1L182.3,274.5L182.3,267.8L182.6,261.1L183.3,254.4L184.3,247.8L185.8,241.3L187.6,234.8L189.8,228.4L192.3,222.2L195.2,216.0L198.5,210.0L202.0,204.2L205.9,198.6L210.1,193.1L214.7,187.9L219.5,182.9L224.5,178.1L229.9,173.6L235.5,169.3L241.3,165.4L247.4,161.7L253.6,158.3L260.1,155.2L266.7,152.4L273.4,150.0L280.3,147.8L287.3,146.1L294.4,144.6L301.5,143.5L308.7,142.8L316.0,142.3L323.2,142.3L330.5,142.6L337.7,143.2L344.9,144.2L352.0,145.5L359.0,147.2L365.9,149.2L372.7,151.6L379.4,154.2L385.9,157.2L392.2,160.5L398.3,164.1L404.2,168.0L409.9,172.1L415.3,176.6L420.5,181.3L425.4,186.2L430.0,191.4L434.3,196.7L438.3,202.3L442.0,208.1L445.3,214.0L448.3,220.1L451.0,226.3L453.3,232.7L455.2,239.1L456.8,245.6L458.0,252.2L458.8,258.9L459.3,265.5L459.3,272.2L459.0,278.9L458.3,285.6L457.3,292.2L455.8,298.7L454.0,305.2L451.8,311.6L449.3,317.9L446.4,324.0L443.1,330.0L439.6,335.8L435.7,341.4L431.5,346.9L426.9,352.1L422.1,357.1L417.1,361.9L411.7,366.4L406.1,370.7L400.3,374.6L394.2,378.3L388.0,381.7L381.5,384.8L374.9,387.6L368.2,390.0L361.3,392.2L354.3,393.9L347.2,395.4L340.1,396.5L332.9,397.3L325.6,397.7L318.4,397.7L311.1,397.4L303.9,396.8L296.7,395.8L289.6,394.5L282.6,392.8L275.7,390.8L268.9,388.4L262.2,385.8L255.7,382.8L249.4,379.5L243.3,375.9L237.4,372.0L231.7,367.9M160.8,236.4L161.2,228.7L162.0,221.0L163.2,213.4L164.9,205.8L167.0,198.3L169.5,191.0L172.5,183.7L175.8,176.7L179.5,169.8L183.7,163.0L188.2,156.5L193.0,150.2L198.2,144.2L203.8,138.4L209.7,132.9L215.8,127.7L222.3,122.8L229.0,118.2L236.0,113.9L243.2,110.0L250.7,106.4L258.3,103.2L266.1,100.4L274.0,97.9L282.1,95.9L290.3,94.2L298.5,92.9L306.9,92.1L315.2,91.6L323.6,91.5L332.0,91.9L340.3,92.6L348.6,93.7L356.8,95.3L364.9,97.2L372.9,99.5L380.7,102.2L388.4,105.3L395.9,108.8L403.2,112.6L410.3,116.7L417.1,121.2L423.6,126.0L429.9,131.1L435.9,136.5L441.6,142.2L446.9,148.2L451.9,154.4L456.5,160.8L460.7,167.5L464.6,174.3L468.1,181.4L471.2,188.6L473.8,195.9L476.0,203.3L477.9,210.9L479.2,218.5L480.2,226.1L480.7,233.9" fill="none" stroke="#959092" stroke-width="0.65" opacity="0.85"/>
<path d="M292.2,94.2L289.7,95.4L287.0,96.5L284.3,97.4L281.6,98.5L279.4,98.9L277.3,99.3L274.6,100.5L272.5,101.5L270.1,102.8L268.0,103.5L266.2,104.0L263.6,105.3L261.0,106.7L258.4,107.5L255.8,108.2L253.8,108.5L252.0,108.8L250.0,109.6L248.2,110.5L246.3,111.9L244.6,113.2L242.7,114.8L241.0,116.1L238.6,117.2L236.2,118.4L233.4,119.8M472.7,193.2L473.4,194.3L474.4,197.5L474.7,199.5L474.2,199.5L473.5,198.4L472.7,195.8L472.7,194.0L472.7,193.2M470.1,190.4L470.3,192.6L469.9,193.9L470.3,196.7L470.5,199.4L470.4,201.2L470.0,199.5L469.9,196.5L469.6,193.4L469.8,191.4L470.1,190.4M472.4,209.3L472.3,212.1L471.5,213.1L471.3,215.5L470.8,217.7L470.3,216.6L470.8,214.5L471.4,212.1L472.0,210.3L472.4,209.3M224.7,113.8L226.1,112.6L228.5,110.7L229.5,109.6L231.2,108.2L232.6,107.2L235.4,105.5L237.4,104.1L239.6,102.6L239.7,102.8L237.9,104.0L238.4,104.0L239.9,103.1L241.7,101.9L242.1,101.4L243.1,100.9L243.4,101.0L245.2,100.1L246.3,99.8L246.9,99.6L249.9,98.2L251.9,97.3L253.7,96.7L256.0,95.6L258.1,94.6L261.9,93.1L259.8,94.1L261.0,93.9L264.2,93.0L265.1,93.2L267.2,92.7L270.2,92.5L271.2,92.5L273.7,92.4L277.2,91.5L279.1,91.0L282.3,90.4L285.2,90.0L286.8,90.1L288.7,90.2L290.1,90.7L291.4,91.7L293.3,92.0L292.5,93.2L291.6,94.0L294.9,93.7L297.4,93.4L297.2,94.6L298.8,93.6L301.3,93.4L304.1,93.5L306.9,93.7L308.5,94.5L308.8,95.0L311.3,94.5L315.2,94.8L317.5,94.9L320.8,94.7L323.0,95.2L325.0,95.9L327.8,97.1L330.0,97.7L333.6,98.1L334.1,99.0L334.7,100.0L335.2,100.9L334.9,102.3L334.0,103.5L332.6,104.5L330.7,105.6L329.0,106.2L327.6,107.4L326.2,108.7L324.9,109.3L323.5,110.2L323.5,112.6L323.5,114.9L323.2,117.0L321.9,118.4L321.6,120.7L320.0,122.2L318.7,123.9L318.2,125.5L315.7,127.4L312.6,127.7L310.5,127.8L308.8,128.5L307.0,129.7L304.8,130.3L303.1,131.7L300.7,133.4L299.5,134.9L299.4,136.1L299.6,138.3L299.5,140.2L297.9,141.8L296.7,143.8L295.3,146.3L293.9,148.3L292.4,150.0L291.3,152.3L290.0,154.0L289.3,155.8L287.1,157.7L284.2,158.3L282.3,158.1L280.5,158.3L278.9,157.6L279.2,159.0L281.4,159.3L282.3,160.3L282.4,162.0L283.8,162.3L283.6,164.6L282.9,166.3L281.1,168.1L278.6,169.7L275.2,171.4L273.7,171.4L274.0,173.1L275.0,175.3L274.0,177.1L271.7,178.0L269.6,178.3L270.0,180.0L270.9,181.5L272.9,180.4L273.7,181.7L272.6,182.7L271.3,183.5L271.6,186.1L271.9,188.8L270.5,190.0L269.5,192.7L270.2,194.1L272.1,194.3L274.0,195.7L273.0,198.2L272.5,200.8L272.1,203.3L271.8,205.5L272.6,207.5L274.3,208.7L272.8,210.0L271.3,211.8L272.0,213.8L270.5,214.7L267.9,214.3L265.5,213.3L263.7,212.3L262.1,210.5L261.1,209.3L259.2,205.9L258.3,203.7L257.0,202.1L257.4,199.5L256.7,196.9L256.3,194.8L255.3,192.7L254.5,190.1L254.4,189.0L253.4,186.7L253.2,184.6L252.4,182.3L251.2,180.2L250.3,178.6L250.8,177.7L250.7,175.1L250.8,173.7L250.9,171.0L250.7,168.6L250.3,166.2L249.1,163.1L248.5,160.8L248.0,158.4L247.7,155.5L247.6,152.8L247.3,151.1L246.9,149.1L246.6,147.2L246.3,144.4L245.7,142.2L245.2,140.0L244.2,137.9L242.6,137.4L241.3,137.4L238.5,137.8L236.5,138.1L234.8,138.5L231.8,139.1L229.8,139.2L228.9,138.5L227.8,137.6L226.4,137.0L225.0,136.4L223.9,135.7L222.2,135.0L221.2,134.5L219.9,134.4L218.7,134.3L217.1,134.7L216.2,134.9L216.1,134.1L215.6,133.6L216.1,132.4L217.1,130.8L217.9,129.9L218.3,128.7L217.4,129.6L216.1,130.1L216.3,129.1L216.1,128.6L217.1,127.2L217.7,126.2L218.0,125.2L219.0,124.1L220.6,122.6L221.1,121.4L222.4,120.1L223.3,119.3L224.0,118.0L224.1,117.7L223.7,117.4L224.1,116.4L224.3,115.5L223.3,115.8L223.4,115.4M223.4,115.4L222.8,115.6L222.5,115.6L221.5,116.0L220.3,116.9L219.5,117.7L218.2,119.0L218.4,119.1L217.5,120.0L216.8,120.5L215.7,121.2L214.4,122.0L213.0,123.3L212.9,123.2L211.5,124.4L211.8,123.8L210.0,125.2L209.3,125.7L208.8,126.1L208.0,126.7L208.4,126.0L207.2,126.9L206.2,127.7L205.7,128.1L204.1,129.7L202.5,131.4L201.0,133.0L199.4,134.8M224.7,113.8L223.8,114.2L222.5,115.0L221.1,116.0L219.5,117.3L217.5,119.1L216.2,120.2L215.5,120.6L214.5,121.3L213.6,121.9L213.2,122.1L212.4,122.5L212.5,122.1L213.0,121.4L213.6,120.6L214.5,119.7L215.0,119.1L213.8,120.1L212.5,121.2L210.1,123.5L208.2,125.3M379.1,90.0L381.0,90.8L382.2,91.5L382.0,91.7L381.1,91.7L380.0,91.5L381.7,92.4L382.2,93.0L382.6,93.4L384.5,94.5L386.7,95.7L388.3,96.7L390.7,98.4L392.1,99.6L393.8,101.0L396.6,102.9L398.4,104.2L401.6,106.6L402.9,107.6L406.0,109.9L408.8,111.3L412.2,113.1L414.5,114.5L416.7,116.2L419.0,118.0L421.1,119.2L423.2,120.5L425.6,122.1L428.2,124.1L430.0,125.6L432.3,127.7L433.4,129.0L434.3,130.4L435.6,132.2L437.5,133.9L439.3,135.7L441.0,137.4L442.2,139.1L442.8,140.7L442.9,141.4L442.6,142.3L442.1,142.6L441.2,142.6L442.1,144.6L443.1,146.9L444.2,149.2L445.2,151.1L446.1,153.3L446.6,155.3L446.8,156.1L447.4,158.5L447.7,160.7L447.4,161.2L446.9,161.4L447.5,164.1L447.5,165.3L447.0,166.2L446.3,166.4L445.1,166.3L443.9,166.4L442.8,168.0L441.5,168.7L440.7,170.2L440.3,172.1L440.8,174.8L441.0,177.6L441.0,181.0L441.1,183.2L440.7,184.4L439.7,185.9L439.1,188.5L438.1,191.3L437.8,194.2L437.8,197.0L437.7,199.1L436.9,201.6L436.4,204.6L435.9,206.6L434.6,206.9L434.4,208.4L433.9,209.4L433.4,210.3L434.1,210.5L434.2,212.1L434.6,213.8L436.3,215.0L437.8,216.4L438.9,218.2L439.9,220.2L441.0,222.0L441.7,223.4L442.9,224.5L444.0,225.6L445.1,226.2L447.0,226.9L448.7,227.2L450.1,227.8L451.9,228.3L453.3,228.4L454.2,229.1L455.6,229.2L457.0,228.3L458.0,227.5L458.1,226.4L459.1,226.5L460.1,227.9L461.1,229.8L462.1,230.4L463.4,229.2L464.4,227.8L465.2,225.8L465.5,224.0L466.1,223.9L467.5,225.0L468.2,225.9L469.2,226.4L470.4,228.3L471.3,230.1L472.1,231.5L473.1,232.1L473.6,231.9L474.0,230.6L474.6,229.5L475.2,228.1L475.9,226.5L476.1,224.3L476.3,222.3L476.5,220.8L476.9,219.3L476.8,217.3L477.0,216.9L477.4,216.9L477.6,216.7L477.8,217.0L478.2,217.1L478.4,217.0L478.7,218.1L479.0,219.2L479.2,219.6L479.5,220.3L479.8,221.7L480.0,223.1M477.3,250.1L476.8,252.3L476.3,253.6L475.7,255.3L475.0,256.7L474.6,256.6L474.9,255.2L474.4,255.7L473.8,256.4L473.2,256.6L472.8,256.9L471.9,257.2L470.7,257.7L469.5,258.0L468.4,258.1L467.3,258.4L466.2,258.4L465.6,258.3L465.2,256.9L464.6,255.4L464.7,254.1L464.9,251.8L465.7,250.1L466.6,248.8L467.5,246.9L468.1,246.2L468.9,246.0L469.6,246.3L470.4,246.7L471.2,245.8L471.7,244.6L472.4,242.8L473.6,242.6L474.1,244.2L474.4,246.0L474.6,246.8L475.2,248.1L475.5,249.1L476.0,248.9L476.4,249.6L476.8,249.7L477.2,249.6L477.3,250.1M299.8,231.0L299.5,232.8L298.7,234.5L297.4,236.4L296.6,238.8L296.4,240.9L296.4,243.6L295.9,246.2L296.8,248.3L299.0,249.8L301.0,251.7L302.7,254.4L304.0,256.9L304.8,259.5L305.0,261.8L306.0,263.3L308.7,264.7L311.1,265.8L313.9,266.8L316.6,268.1L319.1,269.0L320.8,269.0L322.6,268.7L323.8,268.0L325.2,266.8L327.0,265.3L328.9,264.0L330.2,263.1L331.8,260.9L333.8,259.5L336.1,258.7L338.3,258.3L340.5,258.3L343.2,257.4L345.7,256.4L347.8,256.2L349.7,256.4L352.0,257.1L354.2,258.0L356.1,258.4L358.1,260.4L360.2,262.2L362.3,264.0L364.3,265.8L366.3,267.8L367.4,270.4L368.4,273.0L369.5,275.4L371.4,277.4L373.7,279.3L375.7,280.9L375.9,282.3L375.2,284.6L375.1,286.5L377.2,287.3L379.6,288.5L380.9,290.6L381.9,292.8L383.3,294.6L384.6,295.9L386.1,298.2L385.9,300.8L383.9,303.0L382.0,305.1L380.9,307.1L380.5,309.0L379.1,311.3L378.0,313.6L376.3,314.8L374.5,315.4L372.4,315.9L371.4,317.0L371.3,318.8L371.9,320.9L372.6,322.1L373.2,323.8L373.2,325.9L372.8,328.4L371.1,331.0L369.3,333.4L367.8,335.6L366.3,337.7L365.7,339.9L363.3,342.1L360.6,343.4L357.8,344.5L354.6,345.7L352.5,347.4L350.5,349.3L346.6,349.4L343.2,349.9L340.4,351.4L337.4,352.9L333.9,352.6L330.9,354.5L327.6,355.1L324.2,355.0L320.8,354.3L317.5,353.6L314.4,352.2L311.5,350.5L308.7,349.4L306.0,347.7L303.4,346.4L301.3,344.2L299.1,342.4L296.9,340.8L295.1,338.4L295.8,336.8L297.6,335.7L299.8,334.9L302.2,334.0L304.2,333.4L305.7,332.0L306.4,329.8L306.4,328.1L304.9,327.7L303.0,326.9L301.4,325.1L299.6,323.0L298.1,320.7L296.4,318.7L294.7,316.6L292.8,315.2L290.5,314.4L288.6,314.2L287.4,312.5L285.2,311.2L283.5,309.6L281.9,308.0L280.4,306.2L279.3,304.2L278.2,302.2L277.5,299.4L276.8,296.5L276.5,293.5L277.0,290.7L277.9,288.0L280.1,286.6L281.9,285.1L282.7,283.2L283.9,281.6L283.8,279.5L281.4,277.5L279.0,276.8L278.9,274.8L281.1,273.5L283.2,272.2L284.8,270.4L286.8,269.1L288.9,267.9L290.6,266.4L292.3,264.8L293.8,263.4L293.9,261.4L291.7,259.5L290.5,256.9L289.9,254.0L290.6,251.3L291.0,247.9L291.0,245.4L292.0,242.5L293.1,239.2L294.5,236.6L296.3,234.4L298.2,232.3L299.8,231.0M274.5,209.2L275.1,210.4L276.6,211.7L278.0,212.5L279.7,212.9L281.4,212.5L280.9,213.6L279.5,214.5L279.1,216.2L277.9,216.8L276.3,217.0L274.7,217.2L272.9,217.0L271.4,216.6L272.3,215.5L273.0,214.2L272.8,212.8L271.8,211.8L272.8,210.4L274.5,209.2M310.9,390.9L308.2,390.3L305.0,390.1L303.4,389.8L303.7,388.8L304.8,387.9L306.9,387.8L308.7,388.1L309.9,389.1L310.0,389.8L310.9,390.9M385.8,385.1L386.0,384.9L385.8,384.7L384.6,384.9L382.6,385.4L380.9,385.6L379.4,385.8L377.4,385.8L376.3,385.7L376.3,385.1L376.7,384.4L374.2,385.0L370.9,386.1L369.0,387.1L366.2,388.6L361.8,390.0L358.5,391.0L356.7,392.0L353.5,393.1L349.0,394.2L345.6,395.0L342.1,395.6L338.5,395.9L334.9,395.9L332.4,395.5L330.2,395.2L328.9,395.7L326.2,396.5L325.9,396.0L326.5,395.3L324.2,395.5L324.9,395.0L321.9,394.8L320.8,394.1L319.0,393.4L316.4,393.0L313.2,392.6L310.3,392.8L308.8,392.5L307.2,391.9L304.3,392.4L301.0,392.1L298.7,392.2L297.9,392.9L296.2,393.2L295.0,393.6L293.3,393.9L291.4,394.0L289.8,394.3L288.1,394.5L287.7,394.8L288.2,395.3L288.5,395.5L290.9,396.1L293.0,396.5M255.1,373.6L255.2,372.7L253.1,371.6L253.6,371.2L257.1,371.8L258.2,371.4L261.3,372.5L263.9,371.9L266.6,372.3L268.7,373.3L269.7,374.3L271.1,375.4L268.6,375.6L265.9,375.3L262.3,374.7L259.5,374.0L257.7,374.0L256.5,374.0L255.1,373.6M249.5,376.4L248.8,375.5L247.4,374.2L247.7,373.1L246.1,372.2L246.5,371.5L244.9,370.0L242.2,368.4L243.9,368.5L246.3,369.4L247.2,369.2L249.8,369.7L251.8,370.3L252.4,371.0L250.4,371.1L251.7,372.8L250.0,372.5L248.5,373.0L248.5,373.9L249.6,375.8L249.5,376.4" fill="none" stroke="#2a2428" stroke-width="0.8" stroke-linejoin="round"/>
</g>
<circle cx="320.8" cy="239.0" r="160.0" fill="none" stroke="#8a8a8a" stroke-width="1.6"/>
<!-- colour bar -->
<polygon points="331,424.5 322.5,432.4 331,440.3" fill="#f3e6e3" stroke="#000" stroke-width="1.3" stroke-linejoin="miter"/>
<polygon points="531,424.5 540,432.4 531,440.3" fill="#403030" stroke="#000" stroke-width="1.3"/>
<rect x="331" y="424.5" width="200" height="15.8" fill="url(#cb)" stroke="#000" stroke-width="1.5"/>
<path d="M331,441V446.5M341,441V443.6M351,441V443.6M361,441V443.6M371,441V446.5M381,441V443.6M391,441V443.6M401,441V443.6M411,441V446.5M421,441V443.6M431,441V443.6M441,441V443.6M451,441V446.5M461,441V443.6M471,441V443.6M481,441V443.6M491,441V446.5M501,441V443.6M511,441V443.6M521,441V443.6M531,441V446.5" stroke="#3a3a3a" stroke-width="0.9" fill="none"/>
<text x="331" y="462.8" font-size="14" text-anchor="middle">0</text><text x="371" y="462.8" font-size="14" text-anchor="middle">1</text><text x="411" y="462.8" font-size="14" text-anchor="middle">2</text><text x="451" y="462.8" font-size="14" text-anchor="middle">3</text><text x="491" y="462.8" font-size="14" text-anchor="middle">4</text><text x="531" y="462.8" font-size="14" text-anchor="middle">5</text>
<text x="431" y="415.5" font-size="14" text-anchor="middle">Volume Mixing Ratio [ppbv]</text>
<!-- RIU logo -->
<path d="M560,400.3 C564,398.5 570,396.5 577,396.3 C585,396.5 590,402.5 597,402.4 C606,402 614,399 623,396.2" fill="none" stroke="#1a1ad0" stroke-width="1.7" stroke-linecap="round"/>
<path d="M567.6,401 L567.6,391 L568.4,388 L570.2,375.2 L572,386.5 L573,391 L574,386.5 L575.8,375.2 L577.6,388 L578.4,391 L578.4,401 Z" fill="#606060"/>
<text x="580" y="394" font-size="24" font-style="italic">RIU</text>
<!-- DLR logo -->
<g fill="none" stroke="#000" stroke-width="2.9" stroke-linejoin="miter">
<polygon points="566.5,440.3 576,431.6 619,431.6 609.5,440.3"/>
<polygon points="605,416.6 605,431.5 581,456.6 581,441.7"/>
</g>
<text x="596" y="462.2" font-size="13.2">DLR</text>
<g font-size="17.4">
<text transform="translate(17.7,34.2) scale(1.033,1)" word-spacing="0.55">GOME&#8722;2 / MetOp Analysis</text>
<text transform="translate(17.7,57.3) scale(1.033,1)">ClONO<tspan font-size="11.5" dy="4">2</tspan><tspan dy="-4"> at 55.4 hPa</tspan></text>
<text transform="translate(622.6,34.3) scale(1.033,1)" text-anchor="end">Sep 25, 2011, 12:00 GMT</text>
<text transform="translate(623.0,62.0) scale(1.033,1)" text-anchor="end">Southern Hemisphere</text>
</g>
<g font-size="14">
<text x="17.6" y="417.2">4DVar Chemical Data Assimilation</text>
<text x="17.6" y="439.6">SACADA Version 2.4</text>
<text x="17.6" y="462.2">http://wdc.dlr.de</text>
</g>
</svg>
</body></html>
